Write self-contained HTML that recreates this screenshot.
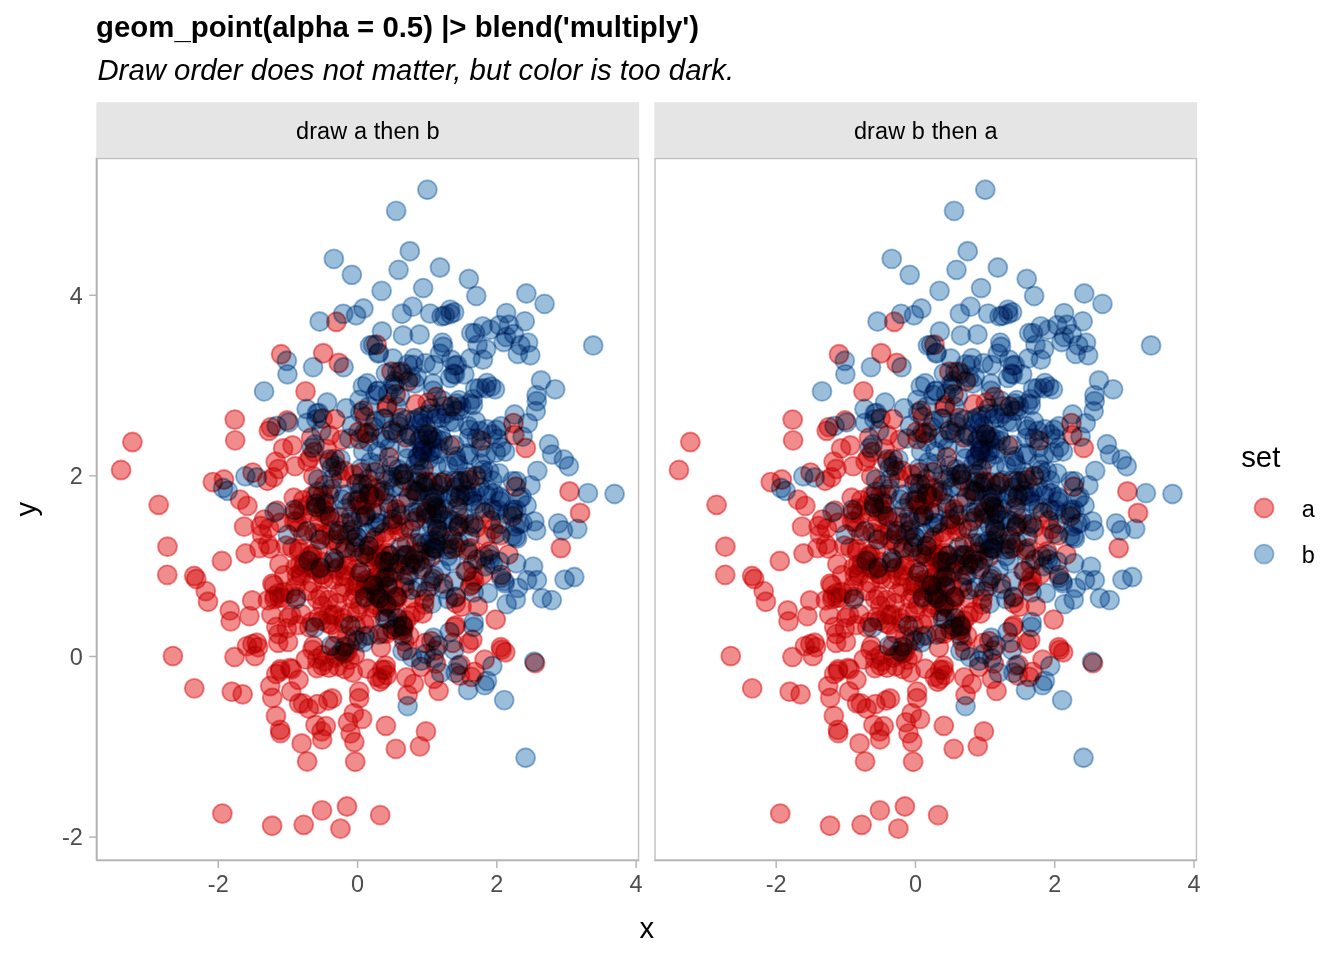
<!DOCTYPE html>
<html lang="en"><head><meta charset="utf-8"><title>geom_point blend multiply</title>
<style>
html,body{margin:0;padding:0;background:#fff;}
body{width:1344px;height:960px;overflow:hidden;}
svg{display:block;font-family:"Liberation Sans",sans-serif;}
.pts{isolation:isolate;}
.pts circle{mix-blend-mode:multiply;}
.a{fill:#E41A1C;fill-opacity:.5;stroke:none;}
.b{fill:#377EB8;fill-opacity:.5;stroke:none;}
.as{fill:none;stroke:#E41A1C;stroke-opacity:.5;stroke-width:1.89;}
.bs{fill:none;stroke:#377EB8;stroke-opacity:.5;stroke-width:1.89;}
.tick{stroke:#B3B3B3;stroke-width:1.42;fill:none;}
.axl{stroke:#B3B3B3;stroke-width:1.42;fill:none;}
.bord{stroke:#BFBFBF;stroke-width:1.42;fill:none;}
.tl{font-size:23.47px;fill:#4D4D4D;}
.st{font-size:23.47px;fill:#000;text-anchor:middle;letter-spacing:0.11px;}
.big{font-size:29.33px;fill:#000;}
</style></head><body>
<svg width="1344" height="960" viewBox="0 0 1344 960">
<rect x="0" y="0" width="1344" height="960" fill="#fff"/>
<defs>
<filter id="lut1" filterUnits="userSpaceOnUse" x="96.40" y="157.80" width="542.85" height="702.80" color-interpolation-filters="sRGB"><feComponentTransfer>
<feFuncR type="table" tableValues="0.002 0.002 0.0059 0.0059 0.0098 0.0176 0.0216 0.0216 0.0294 0.0294 0.0333 0.0412 0.0412 0.0451 0.0529 0.0529 0.0569 0.0647 0.0647 0.0725 0.0765 0.0804 0.0843 0.0882 0.0882 0.0961 0.0961 0.1 0.1078 0.1118 0.1118 0.1196 0.1235 0.1275 0.1314 0.1353 0.1392 0.1392 0.1471 0.151 0.151 0.1549 0.1588 0.1627 0.1667 0.1706 0.1784 0.1784 0.1863 0.1902 0.1902 0.1941 0.198 0.2059 0.2098 0.2098 0.2176 0.2255 0.2255 0.2255 0.2333 0.2373 0.2373 0.2451 0.249 0.2529 0.2529 0.2569 0.2608 0.2647 0.2686 0.2725 0.2765 0.2804 0.2882 0.2922 0.2922 0.3 0.3 0.3078 0.3118 0.3157 0.3157 0.3235 0.3275 0.3314 0.3314 0.3392 0.3431 0.351 0.3471 0.3549 0.3588 0.3627 0.3706 0.3706 0.3784 0.3784 0.3863 0.3902 0.3941 0.398 0.398 0.402 0.4059 0.4098 0.4098 0.4137 0.4176 0.4255 0.4294 0.4255 0.4333 0.4373 0.4412 0.4451 0.4529 0.4569 0.4608 0.4608 0.4686 0.4686 0.4765 0.4804 0.4804 0.4882 0.4882 0.4961 0.4961 0.5078 0.5078 0.5118 0.5157 0.5118 0.5196 0.5235 0.5275 0.5353 0.5431 0.5431 0.5431 0.551 0.551 0.5549 0.5588 0.5667 0.5745 0.5706 0.5745 0.5784 0.5784 0.5863 0.5902 0.5941 0.602 0.6098 0.5902 0.6059 0.602 0.6098 0.6059 0.6255 0.6294 0.6255 0.6333 0.6333 0.6333 0.6412 0.6569 0.649 0.6569 0.6608 0.6686 0.6725 0.6804 0.6843 0.6804 0.6882 0.6922 0.6961 0.7039 0.7078 0.7118 0.7118 0.7157 0.7235 0.7275 0.7314 0.7392 0.7392 0.7471 0.7471 0.7549 0.7588 0.7588 0.7667 0.7706 0.7745 0.7745 0.7824 0.7863 0.7902 0.7941 0.798 0.802 0.8059 0.8098 0.8137 0.8176 0.8216 0.8255 0.8294 0.8333 0.8373 0.8412 0.8451 0.849 0.8529 0.8569 0.8608 0.8647 0.8686 0.8725 0.8765 0.8804 0.8843 0.8882 0.8922 0.8961 0.9 0.9039 0.9078 0.9118 0.9157 0.9196 0.9235 0.9275 0.9314 0.9353 0.9392 0.9431 0.9471 0.951 0.9549 0.9588 0.9627 0.9667 0.9706 0.9745 0.9784 0.9824 0.9863 0.9902 0.9941 0.998 1.002"/>
<feFuncG type="table" tableValues="0.002 0.002 0.002 0.0059 0.0137 0.0137 0.0176 0.0216 0.0255 0.0294 0.0333 0.0373 0.0412 0.0451 0.049 0.0529 0.0569 0.0608 0.0647 0.0686 0.0725 0.0765 0.0843 0.0843 0.0882 0.0961 0.1 0.1039 0.1078 0.1078 0.1118 0.1157 0.1235 0.1275 0.1275 0.1314 0.1353 0.1392 0.1431 0.1471 0.151 0.1549 0.1588 0.1667 0.1706 0.1745 0.1784 0.1824 0.1863 0.1863 0.1941 0.1941 0.198 0.202 0.2059 0.2098 0.2137 0.2176 0.2255 0.2294 0.2294 0.2373 0.2373 0.2412 0.2451 0.249 0.2529 0.2569 0.2608 0.2647 0.2686 0.2725 0.2765 0.2804 0.2843 0.2922 0.2961 0.3039 0.3078 0.3078 0.3157 0.3196 0.3196 0.3235 0.3275 0.3353 0.3392 0.3392 0.3392 0.3431 0.3471 0.3549 0.3588 0.3588 0.3588 0.3627 0.3706 0.3745 0.3784 0.3824 0.3863 0.3902 0.3941 0.398 0.4098 0.4059 0.4137 0.4176 0.4176 0.4255 0.4255 0.4333 0.4333 0.4373 0.4373 0.4451 0.449 0.4529 0.449 0.4608 0.4608 0.4686 0.4686 0.4765 0.4765 0.4843 0.4843 0.4922 0.4922 0.4961 0.5039 0.5078 0.5078 0.5157 0.5157 0.5235 0.5275 0.5314 0.5353 0.5392 0.551 0.5431 0.5588 0.5549 0.5667 0.5706 0.5667 0.5784 0.5745 0.5784 0.5863 0.5863 0.5824 0.5902 0.598 0.5941 0.6059 0.598 0.6098 0.6176 0.6137 0.6176 0.6294 0.6294 0.6333 0.6373 0.6373 0.6451 0.6412 0.649 0.6608 0.6569 0.6608 0.6686 0.6686 0.6725 0.6843 0.6843 0.6922 0.6922 0.7 0.7 0.7078 0.7118 0.7118 0.7196 0.7196 0.7314 0.7353 0.7353 0.7471 0.7353 0.7431 0.7431 0.751 0.7549 0.7588 0.7627 0.7667 0.7706 0.7784 0.7784 0.7863 0.7902 0.7941 0.802 0.8059 0.8098 0.8176 0.8216 0.8255 0.8294 0.8333 0.8373 0.8412 0.8451 0.849 0.8529 0.8569 0.8608 0.8647 0.8686 0.8725 0.8765 0.8804 0.8843 0.8882 0.8922 0.8961 0.9 0.9039 0.9078 0.9118 0.9157 0.9196 0.9235 0.9275 0.9314 0.9353 0.9392 0.9431 0.9471 0.951 0.9549 0.9588 0.9627 0.9667 0.9706 0.9745 0.9784 0.9824 0.9863 0.9902 0.9941 0.998 1.002"/>
<feFuncB type="table" tableValues="0.002 0.002 0.0059 0.0059 0.0098 0.0137 0.0176 0.0255 0.0255 0.0294 0.0333 0.0373 0.0412 0.0451 0.049 0.0529 0.0569 0.0608 0.0647 0.0686 0.0725 0.0765 0.0804 0.0843 0.0922 0.0961 0.1 0.1039 0.1039 0.1078 0.1118 0.1157 0.1235 0.1275 0.1275 0.1314 0.1353 0.1431 0.1471 0.1471 0.151 0.1549 0.1588 0.1706 0.1706 0.1745 0.1784 0.1784 0.1824 0.1902 0.1902 0.198 0.198 0.202 0.2059 0.2098 0.2137 0.2176 0.2255 0.2255 0.2294 0.2333 0.2373 0.2412 0.2451 0.2529 0.2529 0.2647 0.2647 0.2647 0.2686 0.2765 0.2765 0.2843 0.2843 0.2882 0.2961 0.3 0.3078 0.3078 0.3118 0.3196 0.3196 0.3235 0.3314 0.3353 0.3353 0.3392 0.3431 0.351 0.3471 0.3549 0.3588 0.3588 0.3667 0.3706 0.3706 0.3745 0.3784 0.3863 0.3824 0.3902 0.3941 0.398 0.4098 0.4098 0.4137 0.4137 0.4216 0.4255 0.4255 0.4294 0.4373 0.4373 0.4451 0.4412 0.449 0.4569 0.4569 0.4647 0.4686 0.4765 0.4725 0.4725 0.4843 0.4804 0.4882 0.4922 0.4961 0.4961 0.5039 0.5078 0.5118 0.5157 0.5196 0.5235 0.5275 0.5353 0.5392 0.5431 0.5471 0.5549 0.5471 0.5549 0.5588 0.5627 0.5667 0.5667 0.5745 0.5745 0.5824 0.5863 0.5902 0.5941 0.5941 0.598 0.602 0.602 0.6137 0.6137 0.6255 0.6333 0.6255 0.6373 0.6373 0.6412 0.649 0.649 0.6569 0.6529 0.6529 0.6647 0.6647 0.6765 0.6725 0.6843 0.6804 0.6882 0.6961 0.7 0.6961 0.7 0.7039 0.7118 0.7157 0.7196 0.7275 0.7275 0.7392 0.7392 0.7471 0.751 0.7549 0.7549 0.7588 0.7627 0.7706 0.7706 0.7745 0.7784 0.7863 0.7863 0.7941 0.798 0.802 0.8059 0.8098 0.8137 0.8176 0.8216 0.8255 0.8294 0.8333 0.8373 0.8412 0.8451 0.849 0.8529 0.8569 0.8608 0.8647 0.8686 0.8725 0.8765 0.8804 0.8843 0.8882 0.8922 0.8961 0.9 0.9039 0.9078 0.9118 0.9157 0.9196 0.9235 0.9275 0.9314 0.9353 0.9392 0.9431 0.9471 0.951 0.9549 0.9588 0.9627 0.9667 0.9706 0.9745 0.9784 0.9824 0.9863 0.9902 0.9941 0.998 1.002"/>
</feComponentTransfer></filter>
<filter id="lut2" filterUnits="userSpaceOnUse" x="654.30" y="157.80" width="542.85" height="702.80" color-interpolation-filters="sRGB"><feComponentTransfer>
<feFuncR type="table" tableValues="0.002 0.002 0.0059 0.0059 0.0098 0.0176 0.0216 0.0216 0.0294 0.0294 0.0333 0.0412 0.0412 0.0451 0.0529 0.0529 0.0569 0.0647 0.0647 0.0725 0.0765 0.0804 0.0843 0.0882 0.0882 0.0961 0.0961 0.1 0.1078 0.1118 0.1118 0.1196 0.1235 0.1275 0.1314 0.1353 0.1392 0.1392 0.1471 0.151 0.151 0.1549 0.1588 0.1627 0.1667 0.1706 0.1784 0.1784 0.1863 0.1902 0.1902 0.1941 0.198 0.2059 0.2098 0.2098 0.2176 0.2255 0.2255 0.2255 0.2333 0.2373 0.2373 0.2451 0.249 0.2529 0.2529 0.2569 0.2608 0.2647 0.2686 0.2725 0.2765 0.2804 0.2882 0.2922 0.2922 0.3 0.3 0.3078 0.3118 0.3157 0.3157 0.3235 0.3275 0.3314 0.3314 0.3392 0.3431 0.351 0.3471 0.3549 0.3588 0.3627 0.3706 0.3706 0.3784 0.3784 0.3863 0.3902 0.3941 0.398 0.398 0.402 0.4059 0.4098 0.4098 0.4137 0.4176 0.4255 0.4294 0.4255 0.4333 0.4373 0.4412 0.4451 0.4529 0.4569 0.4608 0.4608 0.4686 0.4686 0.4765 0.4804 0.4804 0.4882 0.4882 0.4961 0.4961 0.5078 0.5078 0.5118 0.5157 0.5118 0.5196 0.5235 0.5275 0.5353 0.5431 0.5431 0.5431 0.551 0.551 0.5549 0.5588 0.5667 0.5745 0.5706 0.5745 0.5784 0.5784 0.5863 0.5902 0.5941 0.602 0.6098 0.5902 0.6059 0.602 0.6098 0.6059 0.6255 0.6294 0.6255 0.6333 0.6333 0.6333 0.6412 0.6569 0.649 0.6569 0.6608 0.6686 0.6725 0.6804 0.6843 0.6804 0.6882 0.6922 0.6961 0.7039 0.7078 0.7118 0.7118 0.7157 0.7235 0.7275 0.7314 0.7392 0.7392 0.7471 0.7471 0.7549 0.7588 0.7588 0.7667 0.7706 0.7745 0.7745 0.7824 0.7863 0.7902 0.7941 0.798 0.802 0.8059 0.8098 0.8137 0.8176 0.8216 0.8255 0.8294 0.8333 0.8373 0.8412 0.8451 0.849 0.8529 0.8569 0.8608 0.8647 0.8686 0.8725 0.8765 0.8804 0.8843 0.8882 0.8922 0.8961 0.9 0.9039 0.9078 0.9118 0.9157 0.9196 0.9235 0.9275 0.9314 0.9353 0.9392 0.9431 0.9471 0.951 0.9549 0.9588 0.9627 0.9667 0.9706 0.9745 0.9784 0.9824 0.9863 0.9902 0.9941 0.998 1.002"/>
<feFuncG type="table" tableValues="0.002 0.002 0.002 0.0059 0.0137 0.0137 0.0176 0.0216 0.0255 0.0294 0.0333 0.0373 0.0412 0.0451 0.049 0.0529 0.0569 0.0608 0.0647 0.0686 0.0725 0.0765 0.0843 0.0843 0.0882 0.0961 0.1 0.1039 0.1078 0.1078 0.1118 0.1157 0.1235 0.1275 0.1275 0.1314 0.1353 0.1392 0.1431 0.1471 0.151 0.1549 0.1588 0.1667 0.1706 0.1745 0.1784 0.1824 0.1863 0.1863 0.1941 0.1941 0.198 0.202 0.2059 0.2098 0.2137 0.2176 0.2255 0.2294 0.2294 0.2373 0.2373 0.2412 0.2451 0.249 0.2529 0.2569 0.2608 0.2647 0.2686 0.2725 0.2765 0.2804 0.2843 0.2922 0.2961 0.3039 0.3078 0.3078 0.3157 0.3196 0.3196 0.3235 0.3275 0.3353 0.3392 0.3392 0.3392 0.3431 0.3471 0.3549 0.3588 0.3588 0.3588 0.3627 0.3706 0.3745 0.3784 0.3824 0.3863 0.3902 0.3941 0.398 0.4098 0.4059 0.4137 0.4176 0.4176 0.4255 0.4255 0.4333 0.4333 0.4373 0.4373 0.4451 0.449 0.4529 0.449 0.4608 0.4608 0.4686 0.4686 0.4765 0.4765 0.4843 0.4843 0.4922 0.4922 0.4961 0.5039 0.5078 0.5078 0.5157 0.5157 0.5235 0.5275 0.5314 0.5353 0.5392 0.551 0.5431 0.5588 0.5549 0.5667 0.5706 0.5667 0.5784 0.5745 0.5784 0.5863 0.5863 0.5824 0.5902 0.598 0.5941 0.6059 0.598 0.6098 0.6176 0.6137 0.6176 0.6294 0.6294 0.6333 0.6373 0.6373 0.6451 0.6412 0.649 0.6608 0.6569 0.6608 0.6686 0.6686 0.6725 0.6843 0.6843 0.6922 0.6922 0.7 0.7 0.7078 0.7118 0.7118 0.7196 0.7196 0.7314 0.7353 0.7353 0.7471 0.7353 0.7431 0.7431 0.751 0.7549 0.7588 0.7627 0.7667 0.7706 0.7784 0.7784 0.7863 0.7902 0.7941 0.802 0.8059 0.8098 0.8176 0.8216 0.8255 0.8294 0.8333 0.8373 0.8412 0.8451 0.849 0.8529 0.8569 0.8608 0.8647 0.8686 0.8725 0.8765 0.8804 0.8843 0.8882 0.8922 0.8961 0.9 0.9039 0.9078 0.9118 0.9157 0.9196 0.9235 0.9275 0.9314 0.9353 0.9392 0.9431 0.9471 0.951 0.9549 0.9588 0.9627 0.9667 0.9706 0.9745 0.9784 0.9824 0.9863 0.9902 0.9941 0.998 1.002"/>
<feFuncB type="table" tableValues="0.002 0.002 0.0059 0.0059 0.0098 0.0137 0.0176 0.0255 0.0255 0.0294 0.0333 0.0373 0.0412 0.0451 0.049 0.0529 0.0569 0.0608 0.0647 0.0686 0.0725 0.0765 0.0804 0.0843 0.0922 0.0961 0.1 0.1039 0.1039 0.1078 0.1118 0.1157 0.1235 0.1275 0.1275 0.1314 0.1353 0.1431 0.1471 0.1471 0.151 0.1549 0.1588 0.1706 0.1706 0.1745 0.1784 0.1784 0.1824 0.1902 0.1902 0.198 0.198 0.202 0.2059 0.2098 0.2137 0.2176 0.2255 0.2255 0.2294 0.2333 0.2373 0.2412 0.2451 0.2529 0.2529 0.2647 0.2647 0.2647 0.2686 0.2765 0.2765 0.2843 0.2843 0.2882 0.2961 0.3 0.3078 0.3078 0.3118 0.3196 0.3196 0.3235 0.3314 0.3353 0.3353 0.3392 0.3431 0.351 0.3471 0.3549 0.3588 0.3588 0.3667 0.3706 0.3706 0.3745 0.3784 0.3863 0.3824 0.3902 0.3941 0.398 0.4098 0.4098 0.4137 0.4137 0.4216 0.4255 0.4255 0.4294 0.4373 0.4373 0.4451 0.4412 0.449 0.4569 0.4569 0.4647 0.4686 0.4765 0.4725 0.4725 0.4843 0.4804 0.4882 0.4922 0.4961 0.4961 0.5039 0.5078 0.5118 0.5157 0.5196 0.5235 0.5275 0.5353 0.5392 0.5431 0.5471 0.5549 0.5471 0.5549 0.5588 0.5627 0.5667 0.5667 0.5745 0.5745 0.5824 0.5863 0.5902 0.5941 0.5941 0.598 0.602 0.602 0.6137 0.6137 0.6255 0.6333 0.6255 0.6373 0.6373 0.6412 0.649 0.649 0.6569 0.6529 0.6529 0.6647 0.6647 0.6765 0.6725 0.6843 0.6804 0.6882 0.6961 0.7 0.6961 0.7 0.7039 0.7118 0.7157 0.7196 0.7275 0.7275 0.7392 0.7392 0.7471 0.751 0.7549 0.7549 0.7588 0.7627 0.7706 0.7706 0.7745 0.7784 0.7863 0.7863 0.7941 0.798 0.802 0.8059 0.8098 0.8137 0.8176 0.8216 0.8255 0.8294 0.8333 0.8373 0.8412 0.8451 0.849 0.8529 0.8569 0.8608 0.8647 0.8686 0.8725 0.8765 0.8804 0.8843 0.8882 0.8922 0.8961 0.9 0.9039 0.9078 0.9118 0.9157 0.9196 0.9235 0.9275 0.9314 0.9353 0.9392 0.9431 0.9471 0.951 0.9549 0.9588 0.9627 0.9667 0.9706 0.9745 0.9784 0.9824 0.9863 0.9902 0.9941 0.998 1.002"/>
</feComponentTransfer></filter>
</defs>
<text class="big" x="96.1" y="36.5" dy="0 0 0 0 2.3 -2.3" font-weight="bold" letter-spacing="0.015">geom_point(alpha = 0.5) |&gt; blend('multiply')</text>
<text class="big" x="97.4" y="80.1" font-style="italic" letter-spacing="0.02">Draw order does not matter, but color is too dark.</text>
<rect x="96.40" y="102.20" width="542.85" height="55.60" fill="#E5E5E5"/>
<text class="st" x="367.82" y="138.6">draw a then b</text>
<g class="pts" filter="url(#lut1)">
<rect x="96.40" y="157.80" width="542.85" height="702.80" fill="#fff"/>
<circle class="a" cx="273.51" cy="477.22" r="9.48"/><circle class="as" cx="273.51" cy="477.22" r="9.48"/>
<circle class="a" cx="376.88" cy="676.76" r="9.48"/><circle class="as" cx="376.88" cy="676.76" r="9.48"/>
<circle class="a" cx="433.07" cy="502.06" r="9.48"/><circle class="as" cx="433.07" cy="502.06" r="9.48"/>
<circle class="a" cx="194.22" cy="576.02" r="9.48"/><circle class="as" cx="194.22" cy="576.02" r="9.48"/>
<circle class="a" cx="387.44" cy="405.16" r="9.48"/><circle class="as" cx="387.44" cy="405.16" r="9.48"/>
<circle class="a" cx="392.80" cy="588.14" r="9.48"/><circle class="as" cx="392.80" cy="588.14" r="9.48"/>
<circle class="a" cx="317.54" cy="704.07" r="9.48"/><circle class="as" cx="317.54" cy="704.07" r="9.48"/>
<circle class="a" cx="319.49" cy="521.73" r="9.48"/><circle class="as" cx="319.49" cy="521.73" r="9.48"/>
<circle class="a" cx="318.25" cy="534.14" r="9.48"/><circle class="as" cx="318.25" cy="534.14" r="9.48"/>
<circle class="a" cx="295.58" cy="567.74" r="9.48"/><circle class="as" cx="295.58" cy="567.74" r="9.48"/>
<circle class="a" cx="324.33" cy="661.57" r="9.48"/><circle class="as" cx="324.33" cy="661.57" r="9.48"/>
<circle class="a" cx="288.04" cy="641.91" r="9.48"/><circle class="as" cx="288.04" cy="641.91" r="9.48"/>
<circle class="a" cx="303.50" cy="567.29" r="9.48"/><circle class="as" cx="303.50" cy="567.29" r="9.48"/>
<circle class="a" cx="362.05" cy="472.40" r="9.48"/><circle class="as" cx="362.05" cy="472.40" r="9.48"/>
<circle class="a" cx="424.37" cy="599.07" r="9.48"/><circle class="as" cx="424.37" cy="599.07" r="9.48"/>
<circle class="a" cx="349.88" cy="644.85" r="9.48"/><circle class="as" cx="349.88" cy="644.85" r="9.48"/>
<circle class="a" cx="321.98" cy="810.37" r="9.48"/><circle class="as" cx="321.98" cy="810.37" r="9.48"/>
<circle class="a" cx="294.11" cy="521.52" r="9.48"/><circle class="as" cx="294.11" cy="521.52" r="9.48"/>
<circle class="a" cx="299.26" cy="527.56" r="9.48"/><circle class="as" cx="299.26" cy="527.56" r="9.48"/>
<circle class="a" cx="525.79" cy="447.92" r="9.48"/><circle class="as" cx="525.79" cy="447.92" r="9.48"/>
<circle class="a" cx="366.90" cy="433.69" r="9.48"/><circle class="as" cx="366.90" cy="433.69" r="9.48"/>
<circle class="a" cx="323.39" cy="579.07" r="9.48"/><circle class="as" cx="323.39" cy="579.07" r="9.48"/>
<circle class="a" cx="326.88" cy="448.88" r="9.48"/><circle class="as" cx="326.88" cy="448.88" r="9.48"/>
<circle class="a" cx="389.56" cy="566.03" r="9.48"/><circle class="as" cx="389.56" cy="566.03" r="9.48"/>
<circle class="a" cx="309.25" cy="627.24" r="9.48"/><circle class="as" cx="309.25" cy="627.24" r="9.48"/>
<circle class="a" cx="256.71" cy="642.75" r="9.48"/><circle class="as" cx="256.71" cy="642.75" r="9.48"/>
<circle class="a" cx="397.58" cy="597.48" r="9.48"/><circle class="as" cx="397.58" cy="597.48" r="9.48"/>
<circle class="a" cx="286.28" cy="545.61" r="9.48"/><circle class="as" cx="286.28" cy="545.61" r="9.48"/>
<circle class="a" cx="356.51" cy="568.63" r="9.48"/><circle class="as" cx="356.51" cy="568.63" r="9.48"/>
<circle class="a" cx="292.38" cy="548.01" r="9.48"/><circle class="as" cx="292.38" cy="548.01" r="9.48"/>
<circle class="a" cx="434.32" cy="548.19" r="9.48"/><circle class="as" cx="434.32" cy="548.19" r="9.48"/>
<circle class="a" cx="324.44" cy="501.62" r="9.48"/><circle class="as" cx="324.44" cy="501.62" r="9.48"/>
<circle class="a" cx="308.16" cy="590.82" r="9.48"/><circle class="as" cx="308.16" cy="590.82" r="9.48"/>
<circle class="a" cx="322.65" cy="418.46" r="9.48"/><circle class="as" cx="322.65" cy="418.46" r="9.48"/>
<circle class="a" cx="244.12" cy="526.62" r="9.48"/><circle class="as" cx="244.12" cy="526.62" r="9.48"/>
<circle class="a" cx="276.25" cy="673.94" r="9.48"/><circle class="as" cx="276.25" cy="673.94" r="9.48"/>
<circle class="a" cx="205.75" cy="591.14" r="9.48"/><circle class="as" cx="205.75" cy="591.14" r="9.48"/>
<circle class="a" cx="264.18" cy="519.56" r="9.48"/><circle class="as" cx="264.18" cy="519.56" r="9.48"/>
<circle class="a" cx="337.07" cy="603.27" r="9.48"/><circle class="as" cx="337.07" cy="603.27" r="9.48"/>
<circle class="a" cx="325.12" cy="535.00" r="9.48"/><circle class="as" cx="325.12" cy="535.00" r="9.48"/>
<circle class="a" cx="458.49" cy="526.92" r="9.48"/><circle class="as" cx="458.49" cy="526.92" r="9.48"/>
<circle class="a" cx="283.14" cy="448.44" r="9.48"/><circle class="as" cx="283.14" cy="448.44" r="9.48"/>
<circle class="a" cx="298.00" cy="625.01" r="9.48"/><circle class="as" cx="298.00" cy="625.01" r="9.48"/>
<circle class="a" cx="338.02" cy="567.68" r="9.48"/><circle class="as" cx="338.02" cy="567.68" r="9.48"/>
<circle class="a" cx="288.32" cy="617.42" r="9.48"/><circle class="as" cx="288.32" cy="617.42" r="9.48"/>
<circle class="a" cx="290.12" cy="667.94" r="9.48"/><circle class="as" cx="290.12" cy="667.94" r="9.48"/>
<circle class="a" cx="280.45" cy="733.13" r="9.48"/><circle class="as" cx="280.45" cy="733.13" r="9.48"/>
<circle class="a" cx="270.38" cy="548.49" r="9.48"/><circle class="as" cx="270.38" cy="548.49" r="9.48"/>
<circle class="a" cx="321.08" cy="511.83" r="9.48"/><circle class="as" cx="321.08" cy="511.83" r="9.48"/>
<circle class="a" cx="322.96" cy="508.43" r="9.48"/><circle class="as" cx="322.96" cy="508.43" r="9.48"/>
<circle class="a" cx="231.80" cy="691.68" r="9.48"/><circle class="as" cx="231.80" cy="691.68" r="9.48"/>
<circle class="a" cx="317.03" cy="668.17" r="9.48"/><circle class="as" cx="317.03" cy="668.17" r="9.48"/>
<circle class="a" cx="280.34" cy="669.21" r="9.48"/><circle class="as" cx="280.34" cy="669.21" r="9.48"/>
<circle class="a" cx="286.88" cy="628.35" r="9.48"/><circle class="as" cx="286.88" cy="628.35" r="9.48"/>
<circle class="a" cx="346.26" cy="550.78" r="9.48"/><circle class="as" cx="346.26" cy="550.78" r="9.48"/>
<circle class="a" cx="396.77" cy="512.46" r="9.48"/><circle class="as" cx="396.77" cy="512.46" r="9.48"/>
<circle class="a" cx="472.30" cy="639.76" r="9.48"/><circle class="as" cx="472.30" cy="639.76" r="9.48"/>
<circle class="a" cx="303.71" cy="824.83" r="9.48"/><circle class="as" cx="303.71" cy="824.83" r="9.48"/>
<circle class="a" cx="469.39" cy="480.01" r="9.48"/><circle class="as" cx="469.39" cy="480.01" r="9.48"/>
<circle class="a" cx="276.94" cy="510.59" r="9.48"/><circle class="as" cx="276.94" cy="510.59" r="9.48"/>
<circle class="a" cx="403.28" cy="629.45" r="9.48"/><circle class="as" cx="403.28" cy="629.45" r="9.48"/>
<circle class="a" cx="535.06" cy="663.11" r="9.48"/><circle class="as" cx="535.06" cy="663.11" r="9.48"/>
<circle class="a" cx="355.14" cy="593.24" r="9.48"/><circle class="as" cx="355.14" cy="593.24" r="9.48"/>
<circle class="a" cx="310.93" cy="556.39" r="9.48"/><circle class="as" cx="310.93" cy="556.39" r="9.48"/>
<circle class="a" cx="357.03" cy="500.84" r="9.48"/><circle class="as" cx="357.03" cy="500.84" r="9.48"/>
<circle class="a" cx="481.31" cy="440.61" r="9.48"/><circle class="as" cx="481.31" cy="440.61" r="9.48"/>
<circle class="a" cx="278.27" cy="642.82" r="9.48"/><circle class="as" cx="278.27" cy="642.82" r="9.48"/>
<circle class="a" cx="452.81" cy="539.90" r="9.48"/><circle class="as" cx="452.81" cy="539.90" r="9.48"/>
<circle class="a" cx="450.14" cy="445.66" r="9.48"/><circle class="as" cx="450.14" cy="445.66" r="9.48"/>
<circle class="a" cx="380.99" cy="647.55" r="9.48"/><circle class="as" cx="380.99" cy="647.55" r="9.48"/>
<circle class="a" cx="358.04" cy="586.27" r="9.48"/><circle class="as" cx="358.04" cy="586.27" r="9.48"/>
<circle class="a" cx="325.84" cy="726.13" r="9.48"/><circle class="as" cx="325.84" cy="726.13" r="9.48"/>
<circle class="a" cx="332.04" cy="540.20" r="9.48"/><circle class="as" cx="332.04" cy="540.20" r="9.48"/>
<circle class="a" cx="402.70" cy="624.06" r="9.48"/><circle class="as" cx="402.70" cy="624.06" r="9.48"/>
<circle class="a" cx="501.72" cy="649.68" r="9.48"/><circle class="as" cx="501.72" cy="649.68" r="9.48"/>
<circle class="a" cx="346.88" cy="636.59" r="9.48"/><circle class="as" cx="346.88" cy="636.59" r="9.48"/>
<circle class="a" cx="260.72" cy="526.01" r="9.48"/><circle class="as" cx="260.72" cy="526.01" r="9.48"/>
<circle class="a" cx="307.17" cy="761.45" r="9.48"/><circle class="as" cx="307.17" cy="761.45" r="9.48"/>
<circle class="a" cx="375.54" cy="604.58" r="9.48"/><circle class="as" cx="375.54" cy="604.58" r="9.48"/>
<circle class="a" cx="335.48" cy="657.70" r="9.48"/><circle class="as" cx="335.48" cy="657.70" r="9.48"/>
<circle class="a" cx="345.18" cy="653.04" r="9.48"/><circle class="as" cx="345.18" cy="653.04" r="9.48"/>
<circle class="a" cx="345.72" cy="523.29" r="9.48"/><circle class="as" cx="345.72" cy="523.29" r="9.48"/>
<circle class="a" cx="262.00" cy="534.39" r="9.48"/><circle class="as" cx="262.00" cy="534.39" r="9.48"/>
<circle class="a" cx="345.46" cy="575.82" r="9.48"/><circle class="as" cx="345.46" cy="575.82" r="9.48"/>
<circle class="a" cx="416.77" cy="517.61" r="9.48"/><circle class="as" cx="416.77" cy="517.61" r="9.48"/>
<circle class="a" cx="406.14" cy="620.53" r="9.48"/><circle class="as" cx="406.14" cy="620.53" r="9.48"/>
<circle class="a" cx="395.86" cy="748.88" r="9.48"/><circle class="as" cx="395.86" cy="748.88" r="9.48"/>
<circle class="a" cx="329.52" cy="461.90" r="9.48"/><circle class="as" cx="329.52" cy="461.90" r="9.48"/>
<circle class="a" cx="344.22" cy="586.99" r="9.48"/><circle class="as" cx="344.22" cy="586.99" r="9.48"/>
<circle class="a" cx="274.38" cy="599.12" r="9.48"/><circle class="as" cx="274.38" cy="599.12" r="9.48"/>
<circle class="a" cx="353.86" cy="551.93" r="9.48"/><circle class="as" cx="353.86" cy="551.93" r="9.48"/>
<circle class="a" cx="375.33" cy="496.98" r="9.48"/><circle class="as" cx="375.33" cy="496.98" r="9.48"/>
<circle class="a" cx="476.35" cy="527.67" r="9.48"/><circle class="as" cx="476.35" cy="527.67" r="9.48"/>
<circle class="a" cx="427.30" cy="482.41" r="9.48"/><circle class="as" cx="427.30" cy="482.41" r="9.48"/>
<circle class="a" cx="323.05" cy="561.99" r="9.48"/><circle class="as" cx="323.05" cy="561.99" r="9.48"/>
<circle class="a" cx="382.32" cy="611.69" r="9.48"/><circle class="as" cx="382.32" cy="611.69" r="9.48"/>
<circle class="a" cx="278.55" cy="593.29" r="9.48"/><circle class="as" cx="278.55" cy="593.29" r="9.48"/>
<circle class="a" cx="418.71" cy="491.83" r="9.48"/><circle class="as" cx="418.71" cy="491.83" r="9.48"/>
<circle class="a" cx="425.31" cy="642.85" r="9.48"/><circle class="as" cx="425.31" cy="642.85" r="9.48"/>
<circle class="a" cx="505.26" cy="652.27" r="9.48"/><circle class="as" cx="505.26" cy="652.27" r="9.48"/>
<circle class="a" cx="386.42" cy="537.84" r="9.48"/><circle class="as" cx="386.42" cy="537.84" r="9.48"/>
<circle class="a" cx="324.50" cy="510.84" r="9.48"/><circle class="as" cx="324.50" cy="510.84" r="9.48"/>
<circle class="a" cx="362.15" cy="718.87" r="9.48"/><circle class="as" cx="362.15" cy="718.87" r="9.48"/>
<circle class="a" cx="322.57" cy="495.29" r="9.48"/><circle class="as" cx="322.57" cy="495.29" r="9.48"/>
<circle class="a" cx="300.04" cy="565.08" r="9.48"/><circle class="as" cx="300.04" cy="565.08" r="9.48"/>
<circle class="a" cx="369.19" cy="582.52" r="9.48"/><circle class="as" cx="369.19" cy="582.52" r="9.48"/>
<circle class="a" cx="295.15" cy="466.18" r="9.48"/><circle class="as" cx="295.15" cy="466.18" r="9.48"/>
<circle class="a" cx="369.27" cy="432.55" r="9.48"/><circle class="as" cx="369.27" cy="432.55" r="9.48"/>
<circle class="a" cx="382.28" cy="669.77" r="9.48"/><circle class="as" cx="382.28" cy="669.77" r="9.48"/>
<circle class="a" cx="353.93" cy="474.79" r="9.48"/><circle class="as" cx="353.93" cy="474.79" r="9.48"/>
<circle class="a" cx="343.92" cy="623.23" r="9.48"/><circle class="as" cx="343.92" cy="623.23" r="9.48"/>
<circle class="a" cx="312.36" cy="554.20" r="9.48"/><circle class="as" cx="312.36" cy="554.20" r="9.48"/>
<circle class="a" cx="280.28" cy="522.72" r="9.48"/><circle class="as" cx="280.28" cy="522.72" r="9.48"/>
<circle class="a" cx="416.70" cy="554.13" r="9.48"/><circle class="as" cx="416.70" cy="554.13" r="9.48"/>
<circle class="a" cx="359.12" cy="698.26" r="9.48"/><circle class="as" cx="359.12" cy="698.26" r="9.48"/>
<circle class="a" cx="415.44" cy="611.89" r="9.48"/><circle class="as" cx="415.44" cy="611.89" r="9.48"/>
<circle class="a" cx="270.91" cy="427.11" r="9.48"/><circle class="as" cx="270.91" cy="427.11" r="9.48"/>
<circle class="a" cx="369.33" cy="550.55" r="9.48"/><circle class="as" cx="369.33" cy="550.55" r="9.48"/>
<circle class="a" cx="404.44" cy="641.64" r="9.48"/><circle class="as" cx="404.44" cy="641.64" r="9.48"/>
<circle class="a" cx="355.73" cy="625.39" r="9.48"/><circle class="as" cx="355.73" cy="625.39" r="9.48"/>
<circle class="a" cx="344.23" cy="470.64" r="9.48"/><circle class="as" cx="344.23" cy="470.64" r="9.48"/>
<circle class="a" cx="303.11" cy="534.90" r="9.48"/><circle class="as" cx="303.11" cy="534.90" r="9.48"/>
<circle class="a" cx="500.88" cy="647.18" r="9.48"/><circle class="as" cx="500.88" cy="647.18" r="9.48"/>
<circle class="a" cx="409.82" cy="565.59" r="9.48"/><circle class="as" cx="409.82" cy="565.59" r="9.48"/>
<circle class="a" cx="484.59" cy="512.27" r="9.48"/><circle class="as" cx="484.59" cy="512.27" r="9.48"/>
<circle class="a" cx="363.13" cy="410.59" r="9.48"/><circle class="as" cx="363.13" cy="410.59" r="9.48"/>
<circle class="a" cx="313.59" cy="645.78" r="9.48"/><circle class="as" cx="313.59" cy="645.78" r="9.48"/>
<circle class="a" cx="252.18" cy="600.47" r="9.48"/><circle class="as" cx="252.18" cy="600.47" r="9.48"/>
<circle class="a" cx="313.26" cy="476.19" r="9.48"/><circle class="as" cx="313.26" cy="476.19" r="9.48"/>
<circle class="a" cx="373.32" cy="607.62" r="9.48"/><circle class="as" cx="373.32" cy="607.62" r="9.48"/>
<circle class="a" cx="428.15" cy="434.28" r="9.48"/><circle class="as" cx="428.15" cy="434.28" r="9.48"/>
<circle class="a" cx="375.16" cy="471.94" r="9.48"/><circle class="as" cx="375.16" cy="471.94" r="9.48"/>
<circle class="a" cx="275.95" cy="715.98" r="9.48"/><circle class="as" cx="275.95" cy="715.98" r="9.48"/>
<circle class="a" cx="404.13" cy="527.86" r="9.48"/><circle class="as" cx="404.13" cy="527.86" r="9.48"/>
<circle class="a" cx="242.65" cy="694.32" r="9.48"/><circle class="as" cx="242.65" cy="694.32" r="9.48"/>
<circle class="a" cx="332.08" cy="698.43" r="9.48"/><circle class="as" cx="332.08" cy="698.43" r="9.48"/>
<circle class="a" cx="335.55" cy="559.79" r="9.48"/><circle class="as" cx="335.55" cy="559.79" r="9.48"/>
<circle class="a" cx="221.89" cy="561.03" r="9.48"/><circle class="as" cx="221.89" cy="561.03" r="9.48"/>
<circle class="a" cx="421.63" cy="569.11" r="9.48"/><circle class="as" cx="421.63" cy="569.11" r="9.48"/>
<circle class="a" cx="314.19" cy="451.98" r="9.48"/><circle class="as" cx="314.19" cy="451.98" r="9.48"/>
<circle class="a" cx="334.30" cy="539.51" r="9.48"/><circle class="as" cx="334.30" cy="539.51" r="9.48"/>
<circle class="a" cx="454.71" cy="626.94" r="9.48"/><circle class="as" cx="454.71" cy="626.94" r="9.48"/>
<circle class="a" cx="401.89" cy="555.35" r="9.48"/><circle class="as" cx="401.89" cy="555.35" r="9.48"/>
<circle class="a" cx="350.01" cy="612.61" r="9.48"/><circle class="as" cx="350.01" cy="612.61" r="9.48"/>
<circle class="a" cx="393.34" cy="572.30" r="9.48"/><circle class="as" cx="393.34" cy="572.30" r="9.48"/>
<circle class="a" cx="385.36" cy="669.83" r="9.48"/><circle class="as" cx="385.36" cy="669.83" r="9.48"/>
<circle class="a" cx="473.35" cy="576.56" r="9.48"/><circle class="as" cx="473.35" cy="576.56" r="9.48"/>
<circle class="a" cx="376.77" cy="556.86" r="9.48"/><circle class="as" cx="376.77" cy="556.86" r="9.48"/>
<circle class="a" cx="392.81" cy="629.53" r="9.48"/><circle class="as" cx="392.81" cy="629.53" r="9.48"/>
<circle class="a" cx="381.76" cy="562.43" r="9.48"/><circle class="as" cx="381.76" cy="562.43" r="9.48"/>
<circle class="a" cx="331.29" cy="624.74" r="9.48"/><circle class="as" cx="331.29" cy="624.74" r="9.48"/>
<circle class="a" cx="364.36" cy="624.31" r="9.48"/><circle class="as" cx="364.36" cy="624.31" r="9.48"/>
<circle class="a" cx="471.67" cy="584.62" r="9.48"/><circle class="as" cx="471.67" cy="584.62" r="9.48"/>
<circle class="a" cx="296.59" cy="521.82" r="9.48"/><circle class="as" cx="296.59" cy="521.82" r="9.48"/>
<circle class="a" cx="366.04" cy="584.70" r="9.48"/><circle class="as" cx="366.04" cy="584.70" r="9.48"/>
<circle class="a" cx="452.41" cy="548.93" r="9.48"/><circle class="as" cx="452.41" cy="548.93" r="9.48"/>
<circle class="a" cx="341.22" cy="478.55" r="9.48"/><circle class="as" cx="341.22" cy="478.55" r="9.48"/>
<circle class="a" cx="284.21" cy="591.91" r="9.48"/><circle class="as" cx="284.21" cy="591.91" r="9.48"/>
<circle class="a" cx="296.99" cy="575.51" r="9.48"/><circle class="as" cx="296.99" cy="575.51" r="9.48"/>
<circle class="a" cx="330.39" cy="519.98" r="9.48"/><circle class="as" cx="330.39" cy="519.98" r="9.48"/>
<circle class="a" cx="298.55" cy="679.78" r="9.48"/><circle class="as" cx="298.55" cy="679.78" r="9.48"/>
<circle class="a" cx="339.41" cy="517.04" r="9.48"/><circle class="as" cx="339.41" cy="517.04" r="9.48"/>
<circle class="a" cx="328.70" cy="614.47" r="9.48"/><circle class="as" cx="328.70" cy="614.47" r="9.48"/>
<circle class="a" cx="344.81" cy="668.93" r="9.48"/><circle class="as" cx="344.81" cy="668.93" r="9.48"/>
<circle class="a" cx="385.90" cy="725.82" r="9.48"/><circle class="as" cx="385.90" cy="725.82" r="9.48"/>
<circle class="a" cx="401.06" cy="630.72" r="9.48"/><circle class="as" cx="401.06" cy="630.72" r="9.48"/>
<circle class="a" cx="474.42" cy="671.83" r="9.48"/><circle class="as" cx="474.42" cy="671.83" r="9.48"/>
<circle class="a" cx="352.78" cy="672.58" r="9.48"/><circle class="as" cx="352.78" cy="672.58" r="9.48"/>
<circle class="a" cx="335.22" cy="419.19" r="9.48"/><circle class="as" cx="335.22" cy="419.19" r="9.48"/>
<circle class="a" cx="459.99" cy="675.62" r="9.48"/><circle class="as" cx="459.99" cy="675.62" r="9.48"/>
<circle class="a" cx="476.24" cy="476.07" r="9.48"/><circle class="as" cx="476.24" cy="476.07" r="9.48"/>
<circle class="a" cx="360.57" cy="516.91" r="9.48"/><circle class="as" cx="360.57" cy="516.91" r="9.48"/>
<circle class="a" cx="334.39" cy="646.06" r="9.48"/><circle class="as" cx="334.39" cy="646.06" r="9.48"/>
<circle class="a" cx="230.67" cy="621.35" r="9.48"/><circle class="as" cx="230.67" cy="621.35" r="9.48"/>
<circle class="a" cx="455.83" cy="603.20" r="9.48"/><circle class="as" cx="455.83" cy="603.20" r="9.48"/>
<circle class="a" cx="299.23" cy="548.96" r="9.48"/><circle class="as" cx="299.23" cy="548.96" r="9.48"/>
<circle class="a" cx="279.31" cy="597.61" r="9.48"/><circle class="as" cx="279.31" cy="597.61" r="9.48"/>
<circle class="a" cx="569.51" cy="491.48" r="9.48"/><circle class="as" cx="569.51" cy="491.48" r="9.48"/>
<circle class="a" cx="373.92" cy="592.59" r="9.48"/><circle class="as" cx="373.92" cy="592.59" r="9.48"/>
<circle class="a" cx="355.24" cy="761.71" r="9.48"/><circle class="as" cx="355.24" cy="761.71" r="9.48"/>
<circle class="a" cx="167.30" cy="574.84" r="9.48"/><circle class="as" cx="167.30" cy="574.84" r="9.48"/>
<circle class="a" cx="350.61" cy="733.40" r="9.48"/><circle class="as" cx="350.61" cy="733.40" r="9.48"/>
<circle class="a" cx="425.53" cy="481.46" r="9.48"/><circle class="as" cx="425.53" cy="481.46" r="9.48"/>
<circle class="a" cx="386.38" cy="633.68" r="9.48"/><circle class="as" cx="386.38" cy="633.68" r="9.48"/>
<circle class="a" cx="421.09" cy="666.87" r="9.48"/><circle class="as" cx="421.09" cy="666.87" r="9.48"/>
<circle class="a" cx="495.70" cy="619.57" r="9.48"/><circle class="as" cx="495.70" cy="619.57" r="9.48"/>
<circle class="a" cx="438.97" cy="513.30" r="9.48"/><circle class="as" cx="438.97" cy="513.30" r="9.48"/>
<circle class="a" cx="322.13" cy="739.42" r="9.48"/><circle class="as" cx="322.13" cy="739.42" r="9.48"/>
<circle class="a" cx="406.59" cy="543.23" r="9.48"/><circle class="as" cx="406.59" cy="543.23" r="9.48"/>
<circle class="a" cx="343.74" cy="653.96" r="9.48"/><circle class="as" cx="343.74" cy="653.96" r="9.48"/>
<circle class="a" cx="320.09" cy="566.92" r="9.48"/><circle class="as" cx="320.09" cy="566.92" r="9.48"/>
<circle class="a" cx="158.70" cy="504.83" r="9.48"/><circle class="as" cx="158.70" cy="504.83" r="9.48"/>
<circle class="a" cx="302.57" cy="514.71" r="9.48"/><circle class="as" cx="302.57" cy="514.71" r="9.48"/>
<circle class="a" cx="391.53" cy="430.42" r="9.48"/><circle class="as" cx="391.53" cy="430.42" r="9.48"/>
<circle class="a" cx="508.53" cy="554.49" r="9.48"/><circle class="as" cx="508.53" cy="554.49" r="9.48"/>
<circle class="a" cx="392.43" cy="629.48" r="9.48"/><circle class="as" cx="392.43" cy="629.48" r="9.48"/>
<circle class="a" cx="400.75" cy="371.65" r="9.48"/><circle class="as" cx="400.75" cy="371.65" r="9.48"/>
<circle class="a" cx="290.30" cy="593.54" r="9.48"/><circle class="as" cx="290.30" cy="593.54" r="9.48"/>
<circle class="a" cx="368.89" cy="493.22" r="9.48"/><circle class="as" cx="368.89" cy="493.22" r="9.48"/>
<circle class="a" cx="212.84" cy="482.07" r="9.48"/><circle class="as" cx="212.84" cy="482.07" r="9.48"/>
<circle class="a" cx="391.35" cy="525.07" r="9.48"/><circle class="as" cx="391.35" cy="525.07" r="9.48"/>
<circle class="a" cx="406.08" cy="437.42" r="9.48"/><circle class="as" cx="406.08" cy="437.42" r="9.48"/>
<circle class="a" cx="370.48" cy="585.03" r="9.48"/><circle class="as" cx="370.48" cy="585.03" r="9.48"/>
<circle class="a" cx="406.35" cy="677.36" r="9.48"/><circle class="as" cx="406.35" cy="677.36" r="9.48"/>
<circle class="a" cx="379.26" cy="598.72" r="9.48"/><circle class="as" cx="379.26" cy="598.72" r="9.48"/>
<circle class="a" cx="410.51" cy="615.57" r="9.48"/><circle class="as" cx="410.51" cy="615.57" r="9.48"/>
<circle class="a" cx="485.86" cy="536.53" r="9.48"/><circle class="as" cx="485.86" cy="536.53" r="9.48"/>
<circle class="a" cx="435.02" cy="650.44" r="9.48"/><circle class="as" cx="435.02" cy="650.44" r="9.48"/>
<circle class="a" cx="359.83" cy="504.67" r="9.48"/><circle class="as" cx="359.83" cy="504.67" r="9.48"/>
<circle class="a" cx="279.95" cy="671.26" r="9.48"/><circle class="as" cx="279.95" cy="671.26" r="9.48"/>
<circle class="a" cx="386.67" cy="407.62" r="9.48"/><circle class="as" cx="386.67" cy="407.62" r="9.48"/>
<circle class="a" cx="329.69" cy="435.24" r="9.48"/><circle class="as" cx="329.69" cy="435.24" r="9.48"/>
<circle class="a" cx="461.56" cy="606.68" r="9.48"/><circle class="as" cx="461.56" cy="606.68" r="9.48"/>
<circle class="a" cx="245.65" cy="553.50" r="9.48"/><circle class="as" cx="245.65" cy="553.50" r="9.48"/>
<circle class="a" cx="328.61" cy="599.90" r="9.48"/><circle class="as" cx="328.61" cy="599.90" r="9.48"/>
<circle class="a" cx="386.95" cy="675.11" r="9.48"/><circle class="as" cx="386.95" cy="675.11" r="9.48"/>
<circle class="a" cx="346.99" cy="806.50" r="9.48"/><circle class="as" cx="346.99" cy="806.50" r="9.48"/>
<circle class="a" cx="315.35" cy="568.42" r="9.48"/><circle class="as" cx="315.35" cy="568.42" r="9.48"/>
<circle class="a" cx="336.34" cy="569.26" r="9.48"/><circle class="as" cx="336.34" cy="569.26" r="9.48"/>
<circle class="a" cx="401.40" cy="417.83" r="9.48"/><circle class="as" cx="401.40" cy="417.83" r="9.48"/>
<circle class="a" cx="419.89" cy="746.36" r="9.48"/><circle class="as" cx="419.89" cy="746.36" r="9.48"/>
<circle class="a" cx="403.53" cy="625.95" r="9.48"/><circle class="as" cx="403.53" cy="625.95" r="9.48"/>
<circle class="a" cx="515.87" cy="486.68" r="9.48"/><circle class="as" cx="515.87" cy="486.68" r="9.48"/>
<circle class="a" cx="439.28" cy="535.23" r="9.48"/><circle class="as" cx="439.28" cy="535.23" r="9.48"/>
<circle class="a" cx="377.59" cy="555.16" r="9.48"/><circle class="as" cx="377.59" cy="555.16" r="9.48"/>
<circle class="a" cx="311.62" cy="622.21" r="9.48"/><circle class="as" cx="311.62" cy="622.21" r="9.48"/>
<circle class="a" cx="560.83" cy="548.01" r="9.48"/><circle class="as" cx="560.83" cy="548.01" r="9.48"/>
<circle class="a" cx="404.73" cy="587.46" r="9.48"/><circle class="as" cx="404.73" cy="587.46" r="9.48"/>
<circle class="a" cx="309.91" cy="555.89" r="9.48"/><circle class="as" cx="309.91" cy="555.89" r="9.48"/>
<circle class="a" cx="370.55" cy="618.35" r="9.48"/><circle class="as" cx="370.55" cy="618.35" r="9.48"/>
<circle class="a" cx="334.97" cy="458.81" r="9.48"/><circle class="as" cx="334.97" cy="458.81" r="9.48"/>
<circle class="a" cx="338.43" cy="470.43" r="9.48"/><circle class="as" cx="338.43" cy="470.43" r="9.48"/>
<circle class="a" cx="292.55" cy="445.43" r="9.48"/><circle class="as" cx="292.55" cy="445.43" r="9.48"/>
<circle class="a" cx="365.70" cy="599.31" r="9.48"/><circle class="as" cx="365.70" cy="599.31" r="9.48"/>
<circle class="a" cx="379.78" cy="593.64" r="9.48"/><circle class="as" cx="379.78" cy="593.64" r="9.48"/>
<circle class="a" cx="282.52" cy="597.79" r="9.48"/><circle class="as" cx="282.52" cy="597.79" r="9.48"/>
<circle class="a" cx="132.42" cy="442.05" r="9.48"/><circle class="as" cx="132.42" cy="442.05" r="9.48"/>
<circle class="a" cx="339.81" cy="593.22" r="9.48"/><circle class="as" cx="339.81" cy="593.22" r="9.48"/>
<circle class="a" cx="359.61" cy="557.34" r="9.48"/><circle class="as" cx="359.61" cy="557.34" r="9.48"/>
<circle class="a" cx="398.94" cy="531.73" r="9.48"/><circle class="as" cx="398.94" cy="531.73" r="9.48"/>
<circle class="a" cx="361.68" cy="504.90" r="9.48"/><circle class="as" cx="361.68" cy="504.90" r="9.48"/>
<circle class="a" cx="386.35" cy="590.33" r="9.48"/><circle class="as" cx="386.35" cy="590.33" r="9.48"/>
<circle class="a" cx="281.12" cy="354.29" r="9.48"/><circle class="as" cx="281.12" cy="354.29" r="9.48"/>
<circle class="a" cx="407.08" cy="649.91" r="9.48"/><circle class="as" cx="407.08" cy="649.91" r="9.48"/>
<circle class="a" cx="407.62" cy="694.99" r="9.48"/><circle class="as" cx="407.62" cy="694.99" r="9.48"/>
<circle class="a" cx="375.08" cy="562.33" r="9.48"/><circle class="as" cx="375.08" cy="562.33" r="9.48"/>
<circle class="a" cx="452.07" cy="406.53" r="9.48"/><circle class="as" cx="452.07" cy="406.53" r="9.48"/>
<circle class="a" cx="385.72" cy="561.39" r="9.48"/><circle class="as" cx="385.72" cy="561.39" r="9.48"/>
<circle class="a" cx="375.97" cy="556.24" r="9.48"/><circle class="as" cx="375.97" cy="556.24" r="9.48"/>
<circle class="a" cx="376.22" cy="488.20" r="9.48"/><circle class="as" cx="376.22" cy="488.20" r="9.48"/>
<circle class="a" cx="387.98" cy="575.09" r="9.48"/><circle class="as" cx="387.98" cy="575.09" r="9.48"/>
<circle class="a" cx="431.38" cy="556.79" r="9.48"/><circle class="as" cx="431.38" cy="556.79" r="9.48"/>
<circle class="a" cx="389.05" cy="457.01" r="9.48"/><circle class="as" cx="389.05" cy="457.01" r="9.48"/>
<circle class="a" cx="403.74" cy="557.69" r="9.48"/><circle class="as" cx="403.74" cy="557.69" r="9.48"/>
<circle class="a" cx="278.43" cy="634.08" r="9.48"/><circle class="as" cx="278.43" cy="634.08" r="9.48"/>
<circle class="a" cx="331.76" cy="530.49" r="9.48"/><circle class="as" cx="331.76" cy="530.49" r="9.48"/>
<circle class="a" cx="460.41" cy="664.73" r="9.48"/><circle class="as" cx="460.41" cy="664.73" r="9.48"/>
<circle class="a" cx="272.33" cy="697.85" r="9.48"/><circle class="as" cx="272.33" cy="697.85" r="9.48"/>
<circle class="a" cx="375.53" cy="577.23" r="9.48"/><circle class="as" cx="375.53" cy="577.23" r="9.48"/>
<circle class="a" cx="385.76" cy="665.58" r="9.48"/><circle class="as" cx="385.76" cy="665.58" r="9.48"/>
<circle class="a" cx="425.51" cy="513.69" r="9.48"/><circle class="as" cx="425.51" cy="513.69" r="9.48"/>
<circle class="a" cx="333.27" cy="579.42" r="9.48"/><circle class="as" cx="333.27" cy="579.42" r="9.48"/>
<circle class="a" cx="368.61" cy="635.36" r="9.48"/><circle class="as" cx="368.61" cy="635.36" r="9.48"/>
<circle class="a" cx="234.78" cy="419.59" r="9.48"/><circle class="as" cx="234.78" cy="419.59" r="9.48"/>
<circle class="a" cx="381.14" cy="576.08" r="9.48"/><circle class="as" cx="381.14" cy="576.08" r="9.48"/>
<circle class="a" cx="311.14" cy="437.76" r="9.48"/><circle class="as" cx="311.14" cy="437.76" r="9.48"/>
<circle class="a" cx="340.94" cy="576.40" r="9.48"/><circle class="as" cx="340.94" cy="576.40" r="9.48"/>
<circle class="a" cx="274.85" cy="595.89" r="9.48"/><circle class="as" cx="274.85" cy="595.89" r="9.48"/>
<circle class="a" cx="384.36" cy="532.43" r="9.48"/><circle class="as" cx="384.36" cy="532.43" r="9.48"/>
<circle class="a" cx="403.98" cy="473.14" r="9.48"/><circle class="as" cx="403.98" cy="473.14" r="9.48"/>
<circle class="a" cx="336.35" cy="321.79" r="9.48"/><circle class="as" cx="336.35" cy="321.79" r="9.48"/>
<circle class="a" cx="484.64" cy="659.62" r="9.48"/><circle class="as" cx="484.64" cy="659.62" r="9.48"/>
<circle class="a" cx="404.25" cy="582.72" r="9.48"/><circle class="as" cx="404.25" cy="582.72" r="9.48"/>
<circle class="a" cx="423.62" cy="468.82" r="9.48"/><circle class="as" cx="423.62" cy="468.82" r="9.48"/>
<circle class="a" cx="500.27" cy="535.30" r="9.48"/><circle class="as" cx="500.27" cy="535.30" r="9.48"/>
<circle class="a" cx="312.22" cy="583.07" r="9.48"/><circle class="as" cx="312.22" cy="583.07" r="9.48"/>
<circle class="a" cx="413.87" cy="683.81" r="9.48"/><circle class="as" cx="413.87" cy="683.81" r="9.48"/>
<circle class="a" cx="426.26" cy="591.32" r="9.48"/><circle class="as" cx="426.26" cy="591.32" r="9.48"/>
<circle class="a" cx="357.13" cy="582.84" r="9.48"/><circle class="as" cx="357.13" cy="582.84" r="9.48"/>
<circle class="a" cx="379.78" cy="573.54" r="9.48"/><circle class="as" cx="379.78" cy="573.54" r="9.48"/>
<circle class="a" cx="287.10" cy="420.55" r="9.48"/><circle class="as" cx="287.10" cy="420.55" r="9.48"/>
<circle class="a" cx="390.30" cy="607.87" r="9.48"/><circle class="as" cx="390.30" cy="607.87" r="9.48"/>
<circle class="a" cx="308.75" cy="708.49" r="9.48"/><circle class="as" cx="308.75" cy="708.49" r="9.48"/>
<circle class="a" cx="414.22" cy="521.32" r="9.48"/><circle class="as" cx="414.22" cy="521.32" r="9.48"/>
<circle class="a" cx="301.06" cy="576.26" r="9.48"/><circle class="as" cx="301.06" cy="576.26" r="9.48"/>
<circle class="a" cx="379.80" cy="584.61" r="9.48"/><circle class="as" cx="379.80" cy="584.61" r="9.48"/>
<circle class="a" cx="298.61" cy="508.75" r="9.48"/><circle class="as" cx="298.61" cy="508.75" r="9.48"/>
<circle class="a" cx="340.45" cy="828.65" r="9.48"/><circle class="as" cx="340.45" cy="828.65" r="9.48"/>
<circle class="a" cx="249.43" cy="616.15" r="9.48"/><circle class="as" cx="249.43" cy="616.15" r="9.48"/>
<circle class="a" cx="366.50" cy="580.01" r="9.48"/><circle class="as" cx="366.50" cy="580.01" r="9.48"/>
<circle class="a" cx="426.18" cy="511.49" r="9.48"/><circle class="as" cx="426.18" cy="511.49" r="9.48"/>
<circle class="a" cx="370.32" cy="589.72" r="9.48"/><circle class="as" cx="370.32" cy="589.72" r="9.48"/>
<circle class="a" cx="234.57" cy="656.93" r="9.48"/><circle class="as" cx="234.57" cy="656.93" r="9.48"/>
<circle class="a" cx="314.35" cy="532.51" r="9.48"/><circle class="as" cx="314.35" cy="532.51" r="9.48"/>
<circle class="a" cx="472.88" cy="564.40" r="9.48"/><circle class="as" cx="472.88" cy="564.40" r="9.48"/>
<circle class="a" cx="483.58" cy="556.17" r="9.48"/><circle class="as" cx="483.58" cy="556.17" r="9.48"/>
<circle class="a" cx="275.74" cy="461.70" r="9.48"/><circle class="as" cx="275.74" cy="461.70" r="9.48"/>
<circle class="a" cx="332.02" cy="615.12" r="9.48"/><circle class="as" cx="332.02" cy="615.12" r="9.48"/>
<circle class="a" cx="382.18" cy="678.97" r="9.48"/><circle class="as" cx="382.18" cy="678.97" r="9.48"/>
<circle class="a" cx="379.78" cy="681.75" r="9.48"/><circle class="as" cx="379.78" cy="681.75" r="9.48"/>
<circle class="a" cx="317.17" cy="658.62" r="9.48"/><circle class="as" cx="317.17" cy="658.62" r="9.48"/>
<circle class="a" cx="291.18" cy="691.47" r="9.48"/><circle class="as" cx="291.18" cy="691.47" r="9.48"/>
<circle class="a" cx="345.06" cy="570.60" r="9.48"/><circle class="as" cx="345.06" cy="570.60" r="9.48"/>
<circle class="a" cx="427.88" cy="402.60" r="9.48"/><circle class="as" cx="427.88" cy="402.60" r="9.48"/>
<circle class="a" cx="359.20" cy="575.14" r="9.48"/><circle class="as" cx="359.20" cy="575.14" r="9.48"/>
<circle class="a" cx="312.36" cy="495.96" r="9.48"/><circle class="as" cx="312.36" cy="495.96" r="9.48"/>
<circle class="a" cx="322.44" cy="665.73" r="9.48"/><circle class="as" cx="322.44" cy="665.73" r="9.48"/>
<circle class="a" cx="469.98" cy="586.17" r="9.48"/><circle class="as" cx="469.98" cy="586.17" r="9.48"/>
<circle class="a" cx="326.44" cy="515.03" r="9.48"/><circle class="as" cx="326.44" cy="515.03" r="9.48"/>
<circle class="a" cx="410.70" cy="598.21" r="9.48"/><circle class="as" cx="410.70" cy="598.21" r="9.48"/>
<circle class="a" cx="460.04" cy="495.24" r="9.48"/><circle class="as" cx="460.04" cy="495.24" r="9.48"/>
<circle class="a" cx="388.45" cy="503.47" r="9.48"/><circle class="as" cx="388.45" cy="503.47" r="9.48"/>
<circle class="a" cx="328.19" cy="623.29" r="9.48"/><circle class="as" cx="328.19" cy="623.29" r="9.48"/>
<circle class="a" cx="354.77" cy="635.87" r="9.48"/><circle class="as" cx="354.77" cy="635.87" r="9.48"/>
<circle class="a" cx="323.28" cy="353.22" r="9.48"/><circle class="as" cx="323.28" cy="353.22" r="9.48"/>
<circle class="a" cx="443.05" cy="583.54" r="9.48"/><circle class="as" cx="443.05" cy="583.54" r="9.48"/>
<circle class="a" cx="347.15" cy="565.55" r="9.48"/><circle class="as" cx="347.15" cy="565.55" r="9.48"/>
<circle class="a" cx="465.49" cy="571.08" r="9.48"/><circle class="as" cx="465.49" cy="571.08" r="9.48"/>
<circle class="a" cx="318.45" cy="617.47" r="9.48"/><circle class="as" cx="318.45" cy="617.47" r="9.48"/>
<circle class="a" cx="312.50" cy="649.87" r="9.48"/><circle class="as" cx="312.50" cy="649.87" r="9.48"/>
<circle class="a" cx="367.53" cy="668.72" r="9.48"/><circle class="as" cx="367.53" cy="668.72" r="9.48"/>
<circle class="a" cx="359.24" cy="483.61" r="9.48"/><circle class="as" cx="359.24" cy="483.61" r="9.48"/>
<circle class="a" cx="322.43" cy="655.20" r="9.48"/><circle class="as" cx="322.43" cy="655.20" r="9.48"/>
<circle class="a" cx="247.44" cy="505.87" r="9.48"/><circle class="as" cx="247.44" cy="505.87" r="9.48"/>
<circle class="a" cx="359.65" cy="439.12" r="9.48"/><circle class="as" cx="359.65" cy="439.12" r="9.48"/>
<circle class="a" cx="307.66" cy="461.59" r="9.48"/><circle class="as" cx="307.66" cy="461.59" r="9.48"/>
<circle class="a" cx="432.95" cy="578.68" r="9.48"/><circle class="as" cx="432.95" cy="578.68" r="9.48"/>
<circle class="a" cx="291.22" cy="614.86" r="9.48"/><circle class="as" cx="291.22" cy="614.86" r="9.48"/>
<circle class="a" cx="436.00" cy="663.59" r="9.48"/><circle class="as" cx="436.00" cy="663.59" r="9.48"/>
<circle class="a" cx="312.36" cy="567.83" r="9.48"/><circle class="as" cx="312.36" cy="567.83" r="9.48"/>
<circle class="a" cx="377.93" cy="587.16" r="9.48"/><circle class="as" cx="377.93" cy="587.16" r="9.48"/>
<circle class="a" cx="420.14" cy="552.04" r="9.48"/><circle class="as" cx="420.14" cy="552.04" r="9.48"/>
<circle class="a" cx="321.44" cy="620.70" r="9.48"/><circle class="as" cx="321.44" cy="620.70" r="9.48"/>
<circle class="a" cx="396.17" cy="509.34" r="9.48"/><circle class="as" cx="396.17" cy="509.34" r="9.48"/>
<circle class="a" cx="351.43" cy="501.66" r="9.48"/><circle class="as" cx="351.43" cy="501.66" r="9.48"/>
<circle class="a" cx="278.51" cy="468.99" r="9.48"/><circle class="as" cx="278.51" cy="468.99" r="9.48"/>
<circle class="a" cx="338.75" cy="362.98" r="9.48"/><circle class="as" cx="338.75" cy="362.98" r="9.48"/>
<circle class="a" cx="470.35" cy="548.28" r="9.48"/><circle class="as" cx="470.35" cy="548.28" r="9.48"/>
<circle class="a" cx="342.65" cy="618.13" r="9.48"/><circle class="as" cx="342.65" cy="618.13" r="9.48"/>
<circle class="a" cx="300.61" cy="573.14" r="9.48"/><circle class="as" cx="300.61" cy="573.14" r="9.48"/>
<circle class="a" cx="353.80" cy="713.17" r="9.48"/><circle class="as" cx="353.80" cy="713.17" r="9.48"/>
<circle class="a" cx="380.55" cy="554.42" r="9.48"/><circle class="as" cx="380.55" cy="554.42" r="9.48"/>
<circle class="a" cx="424.08" cy="604.60" r="9.48"/><circle class="as" cx="424.08" cy="604.60" r="9.48"/>
<circle class="a" cx="437.22" cy="529.49" r="9.48"/><circle class="as" cx="437.22" cy="529.49" r="9.48"/>
<circle class="a" cx="364.56" cy="590.43" r="9.48"/><circle class="as" cx="364.56" cy="590.43" r="9.48"/>
<circle class="a" cx="438.65" cy="690.87" r="9.48"/><circle class="as" cx="438.65" cy="690.87" r="9.48"/>
<circle class="a" cx="304.34" cy="562.85" r="9.48"/><circle class="as" cx="304.34" cy="562.85" r="9.48"/>
<circle class="a" cx="194.30" cy="688.36" r="9.48"/><circle class="as" cx="194.30" cy="688.36" r="9.48"/>
<circle class="a" cx="324.71" cy="485.14" r="9.48"/><circle class="as" cx="324.71" cy="485.14" r="9.48"/>
<circle class="a" cx="321.64" cy="731.36" r="9.48"/><circle class="as" cx="321.64" cy="731.36" r="9.48"/>
<circle class="a" cx="196.28" cy="578.97" r="9.48"/><circle class="as" cx="196.28" cy="578.97" r="9.48"/>
<circle class="a" cx="396.73" cy="524.79" r="9.48"/><circle class="as" cx="396.73" cy="524.79" r="9.48"/>
<circle class="a" cx="302.98" cy="703.39" r="9.48"/><circle class="as" cx="302.98" cy="703.39" r="9.48"/>
<circle class="a" cx="341.82" cy="439.80" r="9.48"/><circle class="as" cx="341.82" cy="439.80" r="9.48"/>
<circle class="a" cx="247.04" cy="646.11" r="9.48"/><circle class="as" cx="247.04" cy="646.11" r="9.48"/>
<circle class="a" cx="395.69" cy="611.88" r="9.48"/><circle class="as" cx="395.69" cy="611.88" r="9.48"/>
<circle class="a" cx="489.25" cy="551.40" r="9.48"/><circle class="as" cx="489.25" cy="551.40" r="9.48"/>
<circle class="a" cx="296.41" cy="596.60" r="9.48"/><circle class="as" cx="296.41" cy="596.60" r="9.48"/>
<circle class="a" cx="349.72" cy="659.71" r="9.48"/><circle class="as" cx="349.72" cy="659.71" r="9.48"/>
<circle class="a" cx="493.26" cy="529.19" r="9.48"/><circle class="as" cx="493.26" cy="529.19" r="9.48"/>
<circle class="a" cx="422.59" cy="613.50" r="9.48"/><circle class="as" cx="422.59" cy="613.50" r="9.48"/>
<circle class="a" cx="490.77" cy="520.41" r="9.48"/><circle class="as" cx="490.77" cy="520.41" r="9.48"/>
<circle class="a" cx="357.19" cy="611.73" r="9.48"/><circle class="as" cx="357.19" cy="611.73" r="9.48"/>
<circle class="a" cx="346.96" cy="652.60" r="9.48"/><circle class="as" cx="346.96" cy="652.60" r="9.48"/>
<circle class="a" cx="322.07" cy="574.70" r="9.48"/><circle class="as" cx="322.07" cy="574.70" r="9.48"/>
<circle class="a" cx="457.46" cy="507.50" r="9.48"/><circle class="as" cx="457.46" cy="507.50" r="9.48"/>
<circle class="a" cx="268.02" cy="544.27" r="9.48"/><circle class="as" cx="268.02" cy="544.27" r="9.48"/>
<circle class="a" cx="378.96" cy="571.47" r="9.48"/><circle class="as" cx="378.96" cy="571.47" r="9.48"/>
<circle class="a" cx="354.33" cy="742.06" r="9.48"/><circle class="as" cx="354.33" cy="742.06" r="9.48"/>
<circle class="a" cx="514.37" cy="435.07" r="9.48"/><circle class="as" cx="514.37" cy="435.07" r="9.48"/>
<circle class="a" cx="315.22" cy="569.76" r="9.48"/><circle class="as" cx="315.22" cy="569.76" r="9.48"/>
<circle class="a" cx="252.46" cy="644.18" r="9.48"/><circle class="as" cx="252.46" cy="644.18" r="9.48"/>
<circle class="a" cx="373.76" cy="584.37" r="9.48"/><circle class="as" cx="373.76" cy="584.37" r="9.48"/>
<circle class="a" cx="354.80" cy="542.56" r="9.48"/><circle class="as" cx="354.80" cy="542.56" r="9.48"/>
<circle class="a" cx="299.13" cy="703.27" r="9.48"/><circle class="as" cx="299.13" cy="703.27" r="9.48"/>
<circle class="a" cx="366.77" cy="501.37" r="9.48"/><circle class="as" cx="366.77" cy="501.37" r="9.48"/>
<circle class="a" cx="338.37" cy="543.86" r="9.48"/><circle class="as" cx="338.37" cy="543.86" r="9.48"/>
<circle class="a" cx="310.29" cy="457.53" r="9.48"/><circle class="as" cx="310.29" cy="457.53" r="9.48"/>
<circle class="a" cx="392.43" cy="477.10" r="9.48"/><circle class="as" cx="392.43" cy="477.10" r="9.48"/>
<circle class="a" cx="334.46" cy="614.73" r="9.48"/><circle class="as" cx="334.46" cy="614.73" r="9.48"/>
<circle class="a" cx="229.78" cy="610.43" r="9.48"/><circle class="as" cx="229.78" cy="610.43" r="9.48"/>
<circle class="a" cx="172.91" cy="656.06" r="9.48"/><circle class="as" cx="172.91" cy="656.06" r="9.48"/>
<circle class="a" cx="317.13" cy="598.82" r="9.48"/><circle class="as" cx="317.13" cy="598.82" r="9.48"/>
<circle class="a" cx="458.82" cy="480.87" r="9.48"/><circle class="as" cx="458.82" cy="480.87" r="9.48"/>
<circle class="a" cx="415.92" cy="404.30" r="9.48"/><circle class="as" cx="415.92" cy="404.30" r="9.48"/>
<circle class="a" cx="442.17" cy="482.31" r="9.48"/><circle class="as" cx="442.17" cy="482.31" r="9.48"/>
<circle class="a" cx="425.98" cy="731.41" r="9.48"/><circle class="as" cx="425.98" cy="731.41" r="9.48"/>
<circle class="a" cx="379.55" cy="491.93" r="9.48"/><circle class="as" cx="379.55" cy="491.93" r="9.48"/>
<circle class="a" cx="252.62" cy="472.57" r="9.48"/><circle class="as" cx="252.62" cy="472.57" r="9.48"/>
<circle class="a" cx="371.87" cy="510.39" r="9.48"/><circle class="as" cx="371.87" cy="510.39" r="9.48"/>
<circle class="a" cx="468.78" cy="643.36" r="9.48"/><circle class="as" cx="468.78" cy="643.36" r="9.48"/>
<circle class="a" cx="121.08" cy="470.02" r="9.48"/><circle class="as" cx="121.08" cy="470.02" r="9.48"/>
<circle class="a" cx="303.15" cy="500.27" r="9.48"/><circle class="as" cx="303.15" cy="500.27" r="9.48"/>
<circle class="a" cx="434.33" cy="506.31" r="9.48"/><circle class="as" cx="434.33" cy="506.31" r="9.48"/>
<circle class="a" cx="394.38" cy="600.60" r="9.48"/><circle class="as" cx="394.38" cy="600.60" r="9.48"/>
<circle class="a" cx="412.53" cy="489.76" r="9.48"/><circle class="as" cx="412.53" cy="489.76" r="9.48"/>
<circle class="a" cx="389.39" cy="556.07" r="9.48"/><circle class="as" cx="389.39" cy="556.07" r="9.48"/>
<circle class="a" cx="395.08" cy="572.27" r="9.48"/><circle class="as" cx="395.08" cy="572.27" r="9.48"/>
<circle class="a" cx="358.58" cy="431.85" r="9.48"/><circle class="as" cx="358.58" cy="431.85" r="9.48"/>
<circle class="a" cx="293.74" cy="497.77" r="9.48"/><circle class="as" cx="293.74" cy="497.77" r="9.48"/>
<circle class="a" cx="272.13" cy="825.71" r="9.48"/><circle class="as" cx="272.13" cy="825.71" r="9.48"/>
<circle class="a" cx="360.08" cy="604.67" r="9.48"/><circle class="as" cx="360.08" cy="604.67" r="9.48"/>
<circle class="a" cx="328.22" cy="700.48" r="9.48"/><circle class="as" cx="328.22" cy="700.48" r="9.48"/>
<circle class="a" cx="294.93" cy="512.98" r="9.48"/><circle class="as" cx="294.93" cy="512.98" r="9.48"/>
<circle class="a" cx="386.63" cy="606.12" r="9.48"/><circle class="as" cx="386.63" cy="606.12" r="9.48"/>
<circle class="a" cx="368.24" cy="484.76" r="9.48"/><circle class="as" cx="368.24" cy="484.76" r="9.48"/>
<circle class="a" cx="459.45" cy="523.90" r="9.48"/><circle class="as" cx="459.45" cy="523.90" r="9.48"/>
<circle class="a" cx="279.46" cy="564.16" r="9.48"/><circle class="as" cx="279.46" cy="564.16" r="9.48"/>
<circle class="a" cx="321.50" cy="573.84" r="9.48"/><circle class="as" cx="321.50" cy="573.84" r="9.48"/>
<circle class="a" cx="352.34" cy="598.78" r="9.48"/><circle class="as" cx="352.34" cy="598.78" r="9.48"/>
<circle class="a" cx="259.53" cy="548.13" r="9.48"/><circle class="as" cx="259.53" cy="548.13" r="9.48"/>
<circle class="a" cx="337.73" cy="666.24" r="9.48"/><circle class="as" cx="337.73" cy="666.24" r="9.48"/>
<circle class="a" cx="308.25" cy="505.39" r="9.48"/><circle class="as" cx="308.25" cy="505.39" r="9.48"/>
<circle class="a" cx="208.01" cy="601.74" r="9.48"/><circle class="as" cx="208.01" cy="601.74" r="9.48"/>
<circle class="a" cx="337.79" cy="633.34" r="9.48"/><circle class="as" cx="337.79" cy="633.34" r="9.48"/>
<circle class="a" cx="320.37" cy="595.60" r="9.48"/><circle class="as" cx="320.37" cy="595.60" r="9.48"/>
<circle class="a" cx="436.46" cy="396.85" r="9.48"/><circle class="as" cx="436.46" cy="396.85" r="9.48"/>
<circle class="a" cx="315.50" cy="724.92" r="9.48"/><circle class="as" cx="315.50" cy="724.92" r="9.48"/>
<circle class="a" cx="396.38" cy="597.66" r="9.48"/><circle class="as" cx="396.38" cy="597.66" r="9.48"/>
<circle class="a" cx="367.49" cy="556.53" r="9.48"/><circle class="as" cx="367.49" cy="556.53" r="9.48"/>
<circle class="a" cx="271.43" cy="614.71" r="9.48"/><circle class="as" cx="271.43" cy="614.71" r="9.48"/>
<circle class="a" cx="383.61" cy="603.29" r="9.48"/><circle class="as" cx="383.61" cy="603.29" r="9.48"/>
<circle class="a" cx="350.17" cy="531.62" r="9.48"/><circle class="as" cx="350.17" cy="531.62" r="9.48"/>
<circle class="a" cx="369.12" cy="546.06" r="9.48"/><circle class="as" cx="369.12" cy="546.06" r="9.48"/>
<circle class="a" cx="403.38" cy="627.00" r="9.48"/><circle class="as" cx="403.38" cy="627.00" r="9.48"/>
<circle class="a" cx="365.50" cy="514.91" r="9.48"/><circle class="as" cx="365.50" cy="514.91" r="9.48"/>
<circle class="a" cx="467.94" cy="549.94" r="9.48"/><circle class="as" cx="467.94" cy="549.94" r="9.48"/>
<circle class="a" cx="365.61" cy="504.17" r="9.48"/><circle class="as" cx="365.61" cy="504.17" r="9.48"/>
<circle class="a" cx="270.24" cy="686.02" r="9.48"/><circle class="as" cx="270.24" cy="686.02" r="9.48"/>
<circle class="a" cx="409.22" cy="635.50" r="9.48"/><circle class="as" cx="409.22" cy="635.50" r="9.48"/>
<circle class="a" cx="272.40" cy="583.56" r="9.48"/><circle class="as" cx="272.40" cy="583.56" r="9.48"/>
<circle class="a" cx="223.94" cy="479.54" r="9.48"/><circle class="as" cx="223.94" cy="479.54" r="9.48"/>
<circle class="a" cx="301.16" cy="613.93" r="9.48"/><circle class="as" cx="301.16" cy="613.93" r="9.48"/>
<circle class="a" cx="305.70" cy="659.43" r="9.48"/><circle class="as" cx="305.70" cy="659.43" r="9.48"/>
<circle class="a" cx="315.26" cy="496.46" r="9.48"/><circle class="as" cx="315.26" cy="496.46" r="9.48"/>
<circle class="a" cx="469.45" cy="524.13" r="9.48"/><circle class="as" cx="469.45" cy="524.13" r="9.48"/>
<circle class="a" cx="471.45" cy="676.84" r="9.48"/><circle class="as" cx="471.45" cy="676.84" r="9.48"/>
<circle class="a" cx="408.12" cy="381.32" r="9.48"/><circle class="as" cx="408.12" cy="381.32" r="9.48"/>
<circle class="a" cx="268.86" cy="430.81" r="9.48"/><circle class="as" cx="268.86" cy="430.81" r="9.48"/>
<circle class="a" cx="359.17" cy="691.59" r="9.48"/><circle class="as" cx="359.17" cy="691.59" r="9.48"/>
<circle class="a" cx="391.48" cy="371.68" r="9.48"/><circle class="as" cx="391.48" cy="371.68" r="9.48"/>
<circle class="a" cx="348.02" cy="722.31" r="9.48"/><circle class="as" cx="348.02" cy="722.31" r="9.48"/>
<circle class="a" cx="369.52" cy="556.94" r="9.48"/><circle class="as" cx="369.52" cy="556.94" r="9.48"/>
<circle class="a" cx="291.77" cy="669.22" r="9.48"/><circle class="as" cx="291.77" cy="669.22" r="9.48"/>
<circle class="a" cx="267.90" cy="600.20" r="9.48"/><circle class="as" cx="267.90" cy="600.20" r="9.48"/>
<circle class="a" cx="455.59" cy="597.65" r="9.48"/><circle class="as" cx="455.59" cy="597.65" r="9.48"/>
<circle class="a" cx="376.18" cy="536.99" r="9.48"/><circle class="as" cx="376.18" cy="536.99" r="9.48"/>
<circle class="a" cx="329.12" cy="667.69" r="9.48"/><circle class="as" cx="329.12" cy="667.69" r="9.48"/>
<circle class="a" cx="380.21" cy="815.14" r="9.48"/><circle class="as" cx="380.21" cy="815.14" r="9.48"/>
<circle class="a" cx="501.18" cy="574.81" r="9.48"/><circle class="as" cx="501.18" cy="574.81" r="9.48"/>
<circle class="a" cx="382.81" cy="633.59" r="9.48"/><circle class="as" cx="382.81" cy="633.59" r="9.48"/>
<circle class="a" cx="455.84" cy="547.12" r="9.48"/><circle class="as" cx="455.84" cy="547.12" r="9.48"/>
<circle class="a" cx="452.79" cy="642.78" r="9.48"/><circle class="as" cx="452.79" cy="642.78" r="9.48"/>
<circle class="a" cx="329.21" cy="494.60" r="9.48"/><circle class="as" cx="329.21" cy="494.60" r="9.48"/>
<circle class="a" cx="410.66" cy="563.52" r="9.48"/><circle class="as" cx="410.66" cy="563.52" r="9.48"/>
<circle class="a" cx="312.21" cy="511.66" r="9.48"/><circle class="as" cx="312.21" cy="511.66" r="9.48"/>
<circle class="a" cx="254.94" cy="656.01" r="9.48"/><circle class="as" cx="254.94" cy="656.01" r="9.48"/>
<circle class="a" cx="273.88" cy="585.24" r="9.48"/><circle class="as" cx="273.88" cy="585.24" r="9.48"/>
<circle class="a" cx="347.20" cy="535.08" r="9.48"/><circle class="as" cx="347.20" cy="535.08" r="9.48"/>
<circle class="a" cx="482.70" cy="574.22" r="9.48"/><circle class="as" cx="482.70" cy="574.22" r="9.48"/>
<circle class="a" cx="364.86" cy="416.78" r="9.48"/><circle class="as" cx="364.86" cy="416.78" r="9.48"/>
<circle class="a" cx="301.65" cy="743.42" r="9.48"/><circle class="as" cx="301.65" cy="743.42" r="9.48"/>
<circle class="a" cx="373.60" cy="497.87" r="9.48"/><circle class="as" cx="373.60" cy="497.87" r="9.48"/>
<circle class="a" cx="406.16" cy="564.85" r="9.48"/><circle class="as" cx="406.16" cy="564.85" r="9.48"/>
<circle class="a" cx="267.37" cy="480.74" r="9.48"/><circle class="as" cx="267.37" cy="480.74" r="9.48"/>
<circle class="a" cx="284.12" cy="575.08" r="9.48"/><circle class="as" cx="284.12" cy="575.08" r="9.48"/>
<circle class="a" cx="222.36" cy="813.58" r="9.48"/><circle class="as" cx="222.36" cy="813.58" r="9.48"/>
<circle class="a" cx="269.15" cy="528.19" r="9.48"/><circle class="as" cx="269.15" cy="528.19" r="9.48"/>
<circle class="a" cx="295.76" cy="585.87" r="9.48"/><circle class="as" cx="295.76" cy="585.87" r="9.48"/>
<circle class="a" cx="337.23" cy="655.50" r="9.48"/><circle class="as" cx="337.23" cy="655.50" r="9.48"/>
<circle class="a" cx="455.75" cy="625.44" r="9.48"/><circle class="as" cx="455.75" cy="625.44" r="9.48"/>
<circle class="a" cx="419.44" cy="561.13" r="9.48"/><circle class="as" cx="419.44" cy="561.13" r="9.48"/>
<circle class="a" cx="376.57" cy="344.71" r="9.48"/><circle class="as" cx="376.57" cy="344.71" r="9.48"/>
<circle class="a" cx="318.10" cy="549.16" r="9.48"/><circle class="as" cx="318.10" cy="549.16" r="9.48"/>
<circle class="a" cx="354.76" cy="654.63" r="9.48"/><circle class="as" cx="354.76" cy="654.63" r="9.48"/>
<circle class="a" cx="395.69" cy="394.24" r="9.48"/><circle class="as" cx="395.69" cy="394.24" r="9.48"/>
<circle class="a" cx="322.46" cy="605.76" r="9.48"/><circle class="as" cx="322.46" cy="605.76" r="9.48"/>
<circle class="a" cx="431.31" cy="641.09" r="9.48"/><circle class="as" cx="431.31" cy="641.09" r="9.48"/>
<circle class="a" cx="433.98" cy="678.79" r="9.48"/><circle class="as" cx="433.98" cy="678.79" r="9.48"/>
<circle class="a" cx="276.33" cy="627.00" r="9.48"/><circle class="as" cx="276.33" cy="627.00" r="9.48"/>
<circle class="a" cx="305.55" cy="391.39" r="9.48"/><circle class="as" cx="305.55" cy="391.39" r="9.48"/>
<circle class="a" cx="441.59" cy="484.28" r="9.48"/><circle class="as" cx="441.59" cy="484.28" r="9.48"/>
<circle class="a" cx="240.07" cy="499.64" r="9.48"/><circle class="as" cx="240.07" cy="499.64" r="9.48"/>
<circle class="a" cx="386.79" cy="552.91" r="9.48"/><circle class="as" cx="386.79" cy="552.91" r="9.48"/>
<circle class="a" cx="373.82" cy="540.58" r="9.48"/><circle class="as" cx="373.82" cy="540.58" r="9.48"/>
<circle class="a" cx="580.11" cy="512.93" r="9.48"/><circle class="as" cx="580.11" cy="512.93" r="9.48"/>
<circle class="a" cx="167.48" cy="546.66" r="9.48"/><circle class="as" cx="167.48" cy="546.66" r="9.48"/>
<circle class="a" cx="299.01" cy="552.15" r="9.48"/><circle class="as" cx="299.01" cy="552.15" r="9.48"/>
<circle class="a" cx="404.50" cy="480.01" r="9.48"/><circle class="as" cx="404.50" cy="480.01" r="9.48"/>
<circle class="a" cx="474.15" cy="581.13" r="9.48"/><circle class="as" cx="474.15" cy="581.13" r="9.48"/>
<circle class="a" cx="416.03" cy="543.12" r="9.48"/><circle class="as" cx="416.03" cy="543.12" r="9.48"/>
<circle class="a" cx="258.10" cy="647.20" r="9.48"/><circle class="as" cx="258.10" cy="647.20" r="9.48"/>
<circle class="a" cx="513.50" cy="423.10" r="9.48"/><circle class="as" cx="513.50" cy="423.10" r="9.48"/>
<circle class="a" cx="235.19" cy="440.37" r="9.48"/><circle class="as" cx="235.19" cy="440.37" r="9.48"/>
<circle class="a" cx="280.05" cy="729.82" r="9.48"/><circle class="as" cx="280.05" cy="729.82" r="9.48"/>
<circle class="a" cx="354.56" cy="585.69" r="9.48"/><circle class="as" cx="354.56" cy="585.69" r="9.48"/>
<circle class="a" cx="512.54" cy="516.49" r="9.48"/><circle class="as" cx="512.54" cy="516.49" r="9.48"/>
<circle class="a" cx="392.82" cy="522.56" r="9.48"/><circle class="as" cx="392.82" cy="522.56" r="9.48"/>
<circle class="a" cx="408.42" cy="497.44" r="9.48"/><circle class="as" cx="408.42" cy="497.44" r="9.48"/>
<circle class="a" cx="477.89" cy="606.40" r="9.48"/><circle class="as" cx="477.89" cy="606.40" r="9.48"/>
<circle class="b" cx="343.26" cy="313.82" r="9.48"/><circle class="bs" cx="343.26" cy="313.82" r="9.48"/>
<circle class="b" cx="448.19" cy="599.07" r="9.48"/><circle class="bs" cx="448.19" cy="599.07" r="9.48"/>
<circle class="b" cx="320.02" cy="539.73" r="9.48"/><circle class="bs" cx="320.02" cy="539.73" r="9.48"/>
<circle class="b" cx="471.44" cy="526.08" r="9.48"/><circle class="bs" cx="471.44" cy="526.08" r="9.48"/>
<circle class="b" cx="476.14" cy="503.85" r="9.48"/><circle class="bs" cx="476.14" cy="503.85" r="9.48"/>
<circle class="b" cx="294.48" cy="509.82" r="9.48"/><circle class="bs" cx="294.48" cy="509.82" r="9.48"/>
<circle class="b" cx="492.58" cy="434.43" r="9.48"/><circle class="bs" cx="492.58" cy="434.43" r="9.48"/>
<circle class="b" cx="411.56" cy="589.74" r="9.48"/><circle class="bs" cx="411.56" cy="589.74" r="9.48"/>
<circle class="b" cx="380.27" cy="523.48" r="9.48"/><circle class="bs" cx="380.27" cy="523.48" r="9.48"/>
<circle class="b" cx="458.24" cy="526.13" r="9.48"/><circle class="bs" cx="458.24" cy="526.13" r="9.48"/>
<circle class="b" cx="516.37" cy="509.66" r="9.48"/><circle class="bs" cx="516.37" cy="509.66" r="9.48"/>
<circle class="b" cx="536.18" cy="530.43" r="9.48"/><circle class="bs" cx="536.18" cy="530.43" r="9.48"/>
<circle class="b" cx="343.59" cy="367.19" r="9.48"/><circle class="bs" cx="343.59" cy="367.19" r="9.48"/>
<circle class="b" cx="396.72" cy="406.41" r="9.48"/><circle class="bs" cx="396.72" cy="406.41" r="9.48"/>
<circle class="b" cx="437.39" cy="454.32" r="9.48"/><circle class="bs" cx="437.39" cy="454.32" r="9.48"/>
<circle class="b" cx="431.79" cy="603.63" r="9.48"/><circle class="bs" cx="431.79" cy="603.63" r="9.48"/>
<circle class="b" cx="396.20" cy="210.89" r="9.48"/><circle class="bs" cx="396.20" cy="210.89" r="9.48"/>
<circle class="b" cx="264.10" cy="391.40" r="9.48"/><circle class="bs" cx="264.10" cy="391.40" r="9.48"/>
<circle class="b" cx="407.81" cy="364.41" r="9.48"/><circle class="bs" cx="407.81" cy="364.41" r="9.48"/>
<circle class="b" cx="344.90" cy="646.65" r="9.48"/><circle class="bs" cx="344.90" cy="646.65" r="9.48"/>
<circle class="b" cx="429.50" cy="495.95" r="9.48"/><circle class="bs" cx="429.50" cy="495.95" r="9.48"/>
<circle class="b" cx="368.86" cy="406.47" r="9.48"/><circle class="bs" cx="368.86" cy="406.47" r="9.48"/>
<circle class="b" cx="419.00" cy="440.81" r="9.48"/><circle class="bs" cx="419.00" cy="440.81" r="9.48"/>
<circle class="b" cx="375.56" cy="420.83" r="9.48"/><circle class="bs" cx="375.56" cy="420.83" r="9.48"/>
<circle class="b" cx="398.76" cy="422.51" r="9.48"/><circle class="bs" cx="398.76" cy="422.51" r="9.48"/>
<circle class="b" cx="400.89" cy="515.14" r="9.48"/><circle class="bs" cx="400.89" cy="515.14" r="9.48"/>
<circle class="b" cx="519.69" cy="498.49" r="9.48"/><circle class="bs" cx="519.69" cy="498.49" r="9.48"/>
<circle class="b" cx="477.08" cy="559.49" r="9.48"/><circle class="bs" cx="477.08" cy="559.49" r="9.48"/>
<circle class="b" cx="411.02" cy="377.64" r="9.48"/><circle class="bs" cx="411.02" cy="377.64" r="9.48"/>
<circle class="b" cx="341.81" cy="651.40" r="9.48"/><circle class="bs" cx="341.81" cy="651.40" r="9.48"/>
<circle class="b" cx="500.14" cy="501.19" r="9.48"/><circle class="bs" cx="500.14" cy="501.19" r="9.48"/>
<circle class="b" cx="327.17" cy="402.50" r="9.48"/><circle class="bs" cx="327.17" cy="402.50" r="9.48"/>
<circle class="b" cx="344.85" cy="494.60" r="9.48"/><circle class="bs" cx="344.85" cy="494.60" r="9.48"/>
<circle class="b" cx="373.14" cy="344.82" r="9.48"/><circle class="bs" cx="373.14" cy="344.82" r="9.48"/>
<circle class="b" cx="359.49" cy="399.85" r="9.48"/><circle class="bs" cx="359.49" cy="399.85" r="9.48"/>
<circle class="b" cx="364.27" cy="554.03" r="9.48"/><circle class="bs" cx="364.27" cy="554.03" r="9.48"/>
<circle class="b" cx="516.83" cy="481.25" r="9.48"/><circle class="bs" cx="516.83" cy="481.25" r="9.48"/>
<circle class="b" cx="419.80" cy="474.80" r="9.48"/><circle class="bs" cx="419.80" cy="474.80" r="9.48"/>
<circle class="b" cx="377.34" cy="451.54" r="9.48"/><circle class="bs" cx="377.34" cy="451.54" r="9.48"/>
<circle class="b" cx="473.97" cy="523.54" r="9.48"/><circle class="bs" cx="473.97" cy="523.54" r="9.48"/>
<circle class="b" cx="440.96" cy="531.57" r="9.48"/><circle class="bs" cx="440.96" cy="531.57" r="9.48"/>
<circle class="b" cx="342.23" cy="499.54" r="9.48"/><circle class="bs" cx="342.23" cy="499.54" r="9.48"/>
<circle class="b" cx="388.13" cy="393.45" r="9.48"/><circle class="bs" cx="388.13" cy="393.45" r="9.48"/>
<circle class="b" cx="464.36" cy="374.37" r="9.48"/><circle class="bs" cx="464.36" cy="374.37" r="9.48"/>
<circle class="b" cx="563.00" cy="530.35" r="9.48"/><circle class="bs" cx="563.00" cy="530.35" r="9.48"/>
<circle class="b" cx="537.35" cy="470.85" r="9.48"/><circle class="bs" cx="537.35" cy="470.85" r="9.48"/>
<circle class="b" cx="485.53" cy="566.21" r="9.48"/><circle class="bs" cx="485.53" cy="566.21" r="9.48"/>
<circle class="b" cx="426.28" cy="544.31" r="9.48"/><circle class="bs" cx="426.28" cy="544.31" r="9.48"/>
<circle class="b" cx="307.02" cy="531.06" r="9.48"/><circle class="bs" cx="307.02" cy="531.06" r="9.48"/>
<circle class="b" cx="376.30" cy="594.76" r="9.48"/><circle class="bs" cx="376.30" cy="594.76" r="9.48"/>
<circle class="b" cx="412.19" cy="657.13" r="9.48"/><circle class="bs" cx="412.19" cy="657.13" r="9.48"/>
<circle class="b" cx="461.33" cy="406.48" r="9.48"/><circle class="bs" cx="461.33" cy="406.48" r="9.48"/>
<circle class="b" cx="431.33" cy="439.20" r="9.48"/><circle class="bs" cx="431.33" cy="439.20" r="9.48"/>
<circle class="b" cx="431.25" cy="550.95" r="9.48"/><circle class="bs" cx="431.25" cy="550.95" r="9.48"/>
<circle class="b" cx="555.21" cy="389.32" r="9.48"/><circle class="bs" cx="555.21" cy="389.32" r="9.48"/>
<circle class="b" cx="454.19" cy="312.32" r="9.48"/><circle class="bs" cx="454.19" cy="312.32" r="9.48"/>
<circle class="b" cx="407.66" cy="706.13" r="9.48"/><circle class="bs" cx="407.66" cy="706.13" r="9.48"/>
<circle class="b" cx="397.35" cy="371.96" r="9.48"/><circle class="bs" cx="397.35" cy="371.96" r="9.48"/>
<circle class="b" cx="433.83" cy="364.95" r="9.48"/><circle class="bs" cx="433.83" cy="364.95" r="9.48"/>
<circle class="b" cx="370.56" cy="462.11" r="9.48"/><circle class="bs" cx="370.56" cy="462.11" r="9.48"/>
<circle class="b" cx="522.47" cy="523.08" r="9.48"/><circle class="bs" cx="522.47" cy="523.08" r="9.48"/>
<circle class="b" cx="407.17" cy="575.33" r="9.48"/><circle class="bs" cx="407.17" cy="575.33" r="9.48"/>
<circle class="b" cx="390.39" cy="555.29" r="9.48"/><circle class="bs" cx="390.39" cy="555.29" r="9.48"/>
<circle class="b" cx="366.40" cy="533.34" r="9.48"/><circle class="bs" cx="366.40" cy="533.34" r="9.48"/>
<circle class="b" cx="492.36" cy="666.03" r="9.48"/><circle class="bs" cx="492.36" cy="666.03" r="9.48"/>
<circle class="b" cx="338.25" cy="534.21" r="9.48"/><circle class="bs" cx="338.25" cy="534.21" r="9.48"/>
<circle class="b" cx="394.55" cy="386.72" r="9.48"/><circle class="bs" cx="394.55" cy="386.72" r="9.48"/>
<circle class="b" cx="448.96" cy="544.02" r="9.48"/><circle class="bs" cx="448.96" cy="544.02" r="9.48"/>
<circle class="b" cx="419.65" cy="334.49" r="9.48"/><circle class="bs" cx="419.65" cy="334.49" r="9.48"/>
<circle class="b" cx="444.66" cy="480.36" r="9.48"/><circle class="bs" cx="444.66" cy="480.36" r="9.48"/>
<circle class="b" cx="335.54" cy="465.82" r="9.48"/><circle class="bs" cx="335.54" cy="465.82" r="9.48"/>
<circle class="b" cx="397.25" cy="432.90" r="9.48"/><circle class="bs" cx="397.25" cy="432.90" r="9.48"/>
<circle class="b" cx="308.53" cy="560.64" r="9.48"/><circle class="bs" cx="308.53" cy="560.64" r="9.48"/>
<circle class="b" cx="368.55" cy="545.75" r="9.48"/><circle class="bs" cx="368.55" cy="545.75" r="9.48"/>
<circle class="b" cx="507.15" cy="514.09" r="9.48"/><circle class="bs" cx="507.15" cy="514.09" r="9.48"/>
<circle class="b" cx="444.80" cy="315.73" r="9.48"/><circle class="bs" cx="444.80" cy="315.73" r="9.48"/>
<circle class="b" cx="433.13" cy="437.32" r="9.48"/><circle class="bs" cx="433.13" cy="437.32" r="9.48"/>
<circle class="b" cx="362.18" cy="484.37" r="9.48"/><circle class="bs" cx="362.18" cy="484.37" r="9.48"/>
<circle class="b" cx="388.42" cy="576.68" r="9.48"/><circle class="bs" cx="388.42" cy="576.68" r="9.48"/>
<circle class="b" cx="356.42" cy="483.74" r="9.48"/><circle class="bs" cx="356.42" cy="483.74" r="9.48"/>
<circle class="b" cx="430.92" cy="440.39" r="9.48"/><circle class="bs" cx="430.92" cy="440.39" r="9.48"/>
<circle class="b" cx="480.47" cy="508.41" r="9.48"/><circle class="bs" cx="480.47" cy="508.41" r="9.48"/>
<circle class="b" cx="448.03" cy="556.04" r="9.48"/><circle class="bs" cx="448.03" cy="556.04" r="9.48"/>
<circle class="b" cx="384.19" cy="561.31" r="9.48"/><circle class="bs" cx="384.19" cy="561.31" r="9.48"/>
<circle class="b" cx="465.69" cy="495.70" r="9.48"/><circle class="bs" cx="465.69" cy="495.70" r="9.48"/>
<circle class="b" cx="454.21" cy="444.94" r="9.48"/><circle class="bs" cx="454.21" cy="444.94" r="9.48"/>
<circle class="b" cx="485.91" cy="388.25" r="9.48"/><circle class="bs" cx="485.91" cy="388.25" r="9.48"/>
<circle class="b" cx="396.51" cy="596.45" r="9.48"/><circle class="bs" cx="396.51" cy="596.45" r="9.48"/>
<circle class="b" cx="345.07" cy="548.17" r="9.48"/><circle class="bs" cx="345.07" cy="548.17" r="9.48"/>
<circle class="b" cx="421.31" cy="660.69" r="9.48"/><circle class="bs" cx="421.31" cy="660.69" r="9.48"/>
<circle class="b" cx="448.28" cy="465.90" r="9.48"/><circle class="bs" cx="448.28" cy="465.90" r="9.48"/>
<circle class="b" cx="535.76" cy="411.17" r="9.48"/><circle class="bs" cx="535.76" cy="411.17" r="9.48"/>
<circle class="b" cx="422.34" cy="452.89" r="9.48"/><circle class="bs" cx="422.34" cy="452.89" r="9.48"/>
<circle class="b" cx="456.93" cy="364.87" r="9.48"/><circle class="bs" cx="456.93" cy="364.87" r="9.48"/>
<circle class="b" cx="421.40" cy="423.16" r="9.48"/><circle class="bs" cx="421.40" cy="423.16" r="9.48"/>
<circle class="b" cx="577.35" cy="528.87" r="9.48"/><circle class="bs" cx="577.35" cy="528.87" r="9.48"/>
<circle class="b" cx="520.36" cy="345.19" r="9.48"/><circle class="bs" cx="520.36" cy="345.19" r="9.48"/>
<circle class="b" cx="411.02" cy="435.80" r="9.48"/><circle class="bs" cx="411.02" cy="435.80" r="9.48"/>
<circle class="b" cx="418.32" cy="423.65" r="9.48"/><circle class="bs" cx="418.32" cy="423.65" r="9.48"/>
<circle class="b" cx="425.68" cy="559.09" r="9.48"/><circle class="bs" cx="425.68" cy="559.09" r="9.48"/>
<circle class="b" cx="435.08" cy="498.36" r="9.48"/><circle class="bs" cx="435.08" cy="498.36" r="9.48"/>
<circle class="b" cx="387.84" cy="586.19" r="9.48"/><circle class="bs" cx="387.84" cy="586.19" r="9.48"/>
<circle class="b" cx="432.81" cy="482.39" r="9.48"/><circle class="bs" cx="432.81" cy="482.39" r="9.48"/>
<circle class="b" cx="378.74" cy="352.58" r="9.48"/><circle class="bs" cx="378.74" cy="352.58" r="9.48"/>
<circle class="b" cx="350.86" cy="517.16" r="9.48"/><circle class="bs" cx="350.86" cy="517.16" r="9.48"/>
<circle class="b" cx="483.21" cy="469.95" r="9.48"/><circle class="bs" cx="483.21" cy="469.95" r="9.48"/>
<circle class="b" cx="472.92" cy="405.04" r="9.48"/><circle class="bs" cx="472.92" cy="405.04" r="9.48"/>
<circle class="b" cx="387.64" cy="619.23" r="9.48"/><circle class="bs" cx="387.64" cy="619.23" r="9.48"/>
<circle class="b" cx="515.82" cy="599.51" r="9.48"/><circle class="bs" cx="515.82" cy="599.51" r="9.48"/>
<circle class="b" cx="413.79" cy="559.61" r="9.48"/><circle class="bs" cx="413.79" cy="559.61" r="9.48"/>
<circle class="b" cx="407.44" cy="448.67" r="9.48"/><circle class="bs" cx="407.44" cy="448.67" r="9.48"/>
<circle class="b" cx="360.79" cy="468.58" r="9.48"/><circle class="bs" cx="360.79" cy="468.58" r="9.48"/>
<circle class="b" cx="425.50" cy="363.25" r="9.48"/><circle class="bs" cx="425.50" cy="363.25" r="9.48"/>
<circle class="b" cx="417.66" cy="587.33" r="9.48"/><circle class="bs" cx="417.66" cy="587.33" r="9.48"/>
<circle class="b" cx="431.90" cy="515.49" r="9.48"/><circle class="bs" cx="431.90" cy="515.49" r="9.48"/>
<circle class="b" cx="458.19" cy="665.64" r="9.48"/><circle class="bs" cx="458.19" cy="665.64" r="9.48"/>
<circle class="b" cx="490.33" cy="329.65" r="9.48"/><circle class="bs" cx="490.33" cy="329.65" r="9.48"/>
<circle class="b" cx="449.99" cy="377.92" r="9.48"/><circle class="bs" cx="449.99" cy="377.92" r="9.48"/>
<circle class="b" cx="496.31" cy="533.71" r="9.48"/><circle class="bs" cx="496.31" cy="533.71" r="9.48"/>
<circle class="b" cx="501.38" cy="498.67" r="9.48"/><circle class="bs" cx="501.38" cy="498.67" r="9.48"/>
<circle class="b" cx="223.13" cy="488.02" r="9.48"/><circle class="bs" cx="223.13" cy="488.02" r="9.48"/>
<circle class="b" cx="401.93" cy="313.70" r="9.48"/><circle class="bs" cx="401.93" cy="313.70" r="9.48"/>
<circle class="b" cx="466.88" cy="472.37" r="9.48"/><circle class="bs" cx="466.88" cy="472.37" r="9.48"/>
<circle class="b" cx="349.23" cy="438.54" r="9.48"/><circle class="bs" cx="349.23" cy="438.54" r="9.48"/>
<circle class="b" cx="360.30" cy="412.66" r="9.48"/><circle class="bs" cx="360.30" cy="412.66" r="9.48"/>
<circle class="b" cx="446.26" cy="413.55" r="9.48"/><circle class="bs" cx="446.26" cy="413.55" r="9.48"/>
<circle class="b" cx="396.46" cy="626.76" r="9.48"/><circle class="bs" cx="396.46" cy="626.76" r="9.48"/>
<circle class="b" cx="306.62" cy="409.01" r="9.48"/><circle class="bs" cx="306.62" cy="409.01" r="9.48"/>
<circle class="b" cx="490.27" cy="559.30" r="9.48"/><circle class="bs" cx="490.27" cy="559.30" r="9.48"/>
<circle class="b" cx="368.64" cy="478.70" r="9.48"/><circle class="bs" cx="368.64" cy="478.70" r="9.48"/>
<circle class="b" cx="454.10" cy="649.94" r="9.48"/><circle class="bs" cx="454.10" cy="649.94" r="9.48"/>
<circle class="b" cx="455.91" cy="456.49" r="9.48"/><circle class="bs" cx="455.91" cy="456.49" r="9.48"/>
<circle class="b" cx="533.13" cy="566.61" r="9.48"/><circle class="bs" cx="533.13" cy="566.61" r="9.48"/>
<circle class="b" cx="440.88" cy="672.62" r="9.48"/><circle class="bs" cx="440.88" cy="672.62" r="9.48"/>
<circle class="b" cx="473.54" cy="626.89" r="9.48"/><circle class="bs" cx="473.54" cy="626.89" r="9.48"/>
<circle class="b" cx="506.62" cy="604.15" r="9.48"/><circle class="bs" cx="506.62" cy="604.15" r="9.48"/>
<circle class="b" cx="398.90" cy="426.12" r="9.48"/><circle class="bs" cx="398.90" cy="426.12" r="9.48"/>
<circle class="b" cx="311.91" cy="447.81" r="9.48"/><circle class="bs" cx="311.91" cy="447.81" r="9.48"/>
<circle class="b" cx="437.15" cy="413.97" r="9.48"/><circle class="bs" cx="437.15" cy="413.97" r="9.48"/>
<circle class="b" cx="519.52" cy="523.88" r="9.48"/><circle class="bs" cx="519.52" cy="523.88" r="9.48"/>
<circle class="b" cx="329.27" cy="459.43" r="9.48"/><circle class="bs" cx="329.27" cy="459.43" r="9.48"/>
<circle class="b" cx="497.67" cy="438.67" r="9.48"/><circle class="bs" cx="497.67" cy="438.67" r="9.48"/>
<circle class="b" cx="423.01" cy="483.52" r="9.48"/><circle class="bs" cx="423.01" cy="483.52" r="9.48"/>
<circle class="b" cx="434.12" cy="575.79" r="9.48"/><circle class="bs" cx="434.12" cy="575.79" r="9.48"/>
<circle class="b" cx="402.88" cy="373.87" r="9.48"/><circle class="bs" cx="402.88" cy="373.87" r="9.48"/>
<circle class="b" cx="499.40" cy="325.20" r="9.48"/><circle class="bs" cx="499.40" cy="325.20" r="9.48"/>
<circle class="b" cx="526.37" cy="293.50" r="9.48"/><circle class="bs" cx="526.37" cy="293.50" r="9.48"/>
<circle class="b" cx="536.58" cy="395.24" r="9.48"/><circle class="bs" cx="536.58" cy="395.24" r="9.48"/>
<circle class="b" cx="359.83" cy="492.75" r="9.48"/><circle class="bs" cx="359.83" cy="492.75" r="9.48"/>
<circle class="b" cx="480.07" cy="487.37" r="9.48"/><circle class="bs" cx="480.07" cy="487.37" r="9.48"/>
<circle class="b" cx="401.00" cy="503.42" r="9.48"/><circle class="bs" cx="401.00" cy="503.42" r="9.48"/>
<circle class="b" cx="358.71" cy="499.58" r="9.48"/><circle class="bs" cx="358.71" cy="499.58" r="9.48"/>
<circle class="b" cx="454.34" cy="480.49" r="9.48"/><circle class="bs" cx="454.34" cy="480.49" r="9.48"/>
<circle class="b" cx="425.94" cy="653.99" r="9.48"/><circle class="bs" cx="425.94" cy="653.99" r="9.48"/>
<circle class="b" cx="482.33" cy="474.83" r="9.48"/><circle class="bs" cx="482.33" cy="474.83" r="9.48"/>
<circle class="b" cx="552.01" cy="454.59" r="9.48"/><circle class="bs" cx="552.01" cy="454.59" r="9.48"/>
<circle class="b" cx="499.39" cy="561.67" r="9.48"/><circle class="bs" cx="499.39" cy="561.67" r="9.48"/>
<circle class="b" cx="378.75" cy="634.53" r="9.48"/><circle class="bs" cx="378.75" cy="634.53" r="9.48"/>
<circle class="b" cx="436.92" cy="508.35" r="9.48"/><circle class="bs" cx="436.92" cy="508.35" r="9.48"/>
<circle class="b" cx="525.61" cy="757.75" r="9.48"/><circle class="bs" cx="525.61" cy="757.75" r="9.48"/>
<circle class="b" cx="508.98" cy="324.79" r="9.48"/><circle class="bs" cx="508.98" cy="324.79" r="9.48"/>
<circle class="b" cx="316.84" cy="413.48" r="9.48"/><circle class="bs" cx="316.84" cy="413.48" r="9.48"/>
<circle class="b" cx="493.10" cy="564.05" r="9.48"/><circle class="bs" cx="493.10" cy="564.05" r="9.48"/>
<circle class="b" cx="403.48" cy="474.48" r="9.48"/><circle class="bs" cx="403.48" cy="474.48" r="9.48"/>
<circle class="b" cx="383.65" cy="490.78" r="9.48"/><circle class="bs" cx="383.65" cy="490.78" r="9.48"/>
<circle class="b" cx="350.51" cy="625.78" r="9.48"/><circle class="bs" cx="350.51" cy="625.78" r="9.48"/>
<circle class="b" cx="405.48" cy="555.17" r="9.48"/><circle class="bs" cx="405.48" cy="555.17" r="9.48"/>
<circle class="b" cx="475.15" cy="388.62" r="9.48"/><circle class="bs" cx="475.15" cy="388.62" r="9.48"/>
<circle class="b" cx="527.14" cy="580.22" r="9.48"/><circle class="bs" cx="527.14" cy="580.22" r="9.48"/>
<circle class="b" cx="436.87" cy="543.70" r="9.48"/><circle class="bs" cx="436.87" cy="543.70" r="9.48"/>
<circle class="b" cx="422.11" cy="543.13" r="9.48"/><circle class="bs" cx="422.11" cy="543.13" r="9.48"/>
<circle class="b" cx="413.10" cy="365.03" r="9.48"/><circle class="bs" cx="413.10" cy="365.03" r="9.48"/>
<circle class="b" cx="493.61" cy="493.08" r="9.48"/><circle class="bs" cx="493.61" cy="493.08" r="9.48"/>
<circle class="b" cx="351.91" cy="425.78" r="9.48"/><circle class="bs" cx="351.91" cy="425.78" r="9.48"/>
<circle class="b" cx="444.60" cy="406.17" r="9.48"/><circle class="bs" cx="444.60" cy="406.17" r="9.48"/>
<circle class="b" cx="498.33" cy="510.17" r="9.48"/><circle class="bs" cx="498.33" cy="510.17" r="9.48"/>
<circle class="b" cx="501.14" cy="577.76" r="9.48"/><circle class="bs" cx="501.14" cy="577.76" r="9.48"/>
<circle class="b" cx="456.24" cy="460.48" r="9.48"/><circle class="bs" cx="456.24" cy="460.48" r="9.48"/>
<circle class="b" cx="346.25" cy="508.22" r="9.48"/><circle class="bs" cx="346.25" cy="508.22" r="9.48"/>
<circle class="b" cx="370.02" cy="345.53" r="9.48"/><circle class="bs" cx="370.02" cy="345.53" r="9.48"/>
<circle class="b" cx="377.02" cy="522.80" r="9.48"/><circle class="bs" cx="377.02" cy="522.80" r="9.48"/>
<circle class="b" cx="326.69" cy="503.90" r="9.48"/><circle class="bs" cx="326.69" cy="503.90" r="9.48"/>
<circle class="b" cx="429.98" cy="414.18" r="9.48"/><circle class="bs" cx="429.98" cy="414.18" r="9.48"/>
<circle class="b" cx="512.35" cy="535.77" r="9.48"/><circle class="bs" cx="512.35" cy="535.77" r="9.48"/>
<circle class="b" cx="256.82" cy="477.46" r="9.48"/><circle class="bs" cx="256.82" cy="477.46" r="9.48"/>
<circle class="b" cx="480.00" cy="431.00" r="9.48"/><circle class="bs" cx="480.00" cy="431.00" r="9.48"/>
<circle class="b" cx="413.08" cy="512.35" r="9.48"/><circle class="bs" cx="413.08" cy="512.35" r="9.48"/>
<circle class="b" cx="373.64" cy="585.27" r="9.48"/><circle class="bs" cx="373.64" cy="585.27" r="9.48"/>
<circle class="b" cx="480.81" cy="447.60" r="9.48"/><circle class="bs" cx="480.81" cy="447.60" r="9.48"/>
<circle class="b" cx="472.34" cy="501.12" r="9.48"/><circle class="bs" cx="472.34" cy="501.12" r="9.48"/>
<circle class="b" cx="433.89" cy="658.26" r="9.48"/><circle class="bs" cx="433.89" cy="658.26" r="9.48"/>
<circle class="b" cx="363.15" cy="451.50" r="9.48"/><circle class="bs" cx="363.15" cy="451.50" r="9.48"/>
<circle class="b" cx="378.11" cy="463.94" r="9.48"/><circle class="bs" cx="378.11" cy="463.94" r="9.48"/>
<circle class="b" cx="314.58" cy="627.45" r="9.48"/><circle class="bs" cx="314.58" cy="627.45" r="9.48"/>
<circle class="b" cx="558.17" cy="523.33" r="9.48"/><circle class="bs" cx="558.17" cy="523.33" r="9.48"/>
<circle class="b" cx="416.36" cy="491.66" r="9.48"/><circle class="bs" cx="416.36" cy="491.66" r="9.48"/>
<circle class="b" cx="374.65" cy="526.11" r="9.48"/><circle class="bs" cx="374.65" cy="526.11" r="9.48"/>
<circle class="b" cx="276.72" cy="426.00" r="9.48"/><circle class="bs" cx="276.72" cy="426.00" r="9.48"/>
<circle class="b" cx="397.29" cy="618.18" r="9.48"/><circle class="bs" cx="397.29" cy="618.18" r="9.48"/>
<circle class="b" cx="388.96" cy="562.02" r="9.48"/><circle class="bs" cx="388.96" cy="562.02" r="9.48"/>
<circle class="b" cx="329.54" cy="516.47" r="9.48"/><circle class="bs" cx="329.54" cy="516.47" r="9.48"/>
<circle class="b" cx="593.20" cy="345.44" r="9.48"/><circle class="bs" cx="593.20" cy="345.44" r="9.48"/>
<circle class="b" cx="487.98" cy="489.86" r="9.48"/><circle class="bs" cx="487.98" cy="489.86" r="9.48"/>
<circle class="b" cx="320.26" cy="568.11" r="9.48"/><circle class="bs" cx="320.26" cy="568.11" r="9.48"/>
<circle class="b" cx="506.16" cy="336.90" r="9.48"/><circle class="bs" cx="506.16" cy="336.90" r="9.48"/>
<circle class="b" cx="499.95" cy="496.72" r="9.48"/><circle class="bs" cx="499.95" cy="496.72" r="9.48"/>
<circle class="b" cx="468.27" cy="426.00" r="9.48"/><circle class="bs" cx="468.27" cy="426.00" r="9.48"/>
<circle class="b" cx="454.99" cy="374.53" r="9.48"/><circle class="bs" cx="454.99" cy="374.53" r="9.48"/>
<circle class="b" cx="437.29" cy="438.86" r="9.48"/><circle class="bs" cx="437.29" cy="438.86" r="9.48"/>
<circle class="b" cx="470.31" cy="358.42" r="9.48"/><circle class="bs" cx="470.31" cy="358.42" r="9.48"/>
<circle class="b" cx="355.29" cy="547.27" r="9.48"/><circle class="bs" cx="355.29" cy="547.27" r="9.48"/>
<circle class="b" cx="381.98" cy="331.47" r="9.48"/><circle class="bs" cx="381.98" cy="331.47" r="9.48"/>
<circle class="b" cx="357.42" cy="640.47" r="9.48"/><circle class="bs" cx="357.42" cy="640.47" r="9.48"/>
<circle class="b" cx="415.64" cy="563.93" r="9.48"/><circle class="bs" cx="415.64" cy="563.93" r="9.48"/>
<circle class="b" cx="437.41" cy="528.81" r="9.48"/><circle class="bs" cx="437.41" cy="528.81" r="9.48"/>
<circle class="b" cx="469.12" cy="454.79" r="9.48"/><circle class="bs" cx="469.12" cy="454.79" r="9.48"/>
<circle class="b" cx="464.03" cy="518.60" r="9.48"/><circle class="bs" cx="464.03" cy="518.60" r="9.48"/>
<circle class="b" cx="527.86" cy="423.18" r="9.48"/><circle class="bs" cx="527.86" cy="423.18" r="9.48"/>
<circle class="b" cx="468.79" cy="437.91" r="9.48"/><circle class="bs" cx="468.79" cy="437.91" r="9.48"/>
<circle class="b" cx="514.68" cy="414.53" r="9.48"/><circle class="bs" cx="514.68" cy="414.53" r="9.48"/>
<circle class="b" cx="503.61" cy="341.96" r="9.48"/><circle class="bs" cx="503.61" cy="341.96" r="9.48"/>
<circle class="b" cx="386.22" cy="604.56" r="9.48"/><circle class="bs" cx="386.22" cy="604.56" r="9.48"/>
<circle class="b" cx="479.51" cy="388.24" r="9.48"/><circle class="bs" cx="479.51" cy="388.24" r="9.48"/>
<circle class="b" cx="458.77" cy="499.82" r="9.48"/><circle class="bs" cx="458.77" cy="499.82" r="9.48"/>
<circle class="b" cx="435.49" cy="548.37" r="9.48"/><circle class="bs" cx="435.49" cy="548.37" r="9.48"/>
<circle class="b" cx="364.29" cy="636.33" r="9.48"/><circle class="bs" cx="364.29" cy="636.33" r="9.48"/>
<circle class="b" cx="468.14" cy="552.52" r="9.48"/><circle class="bs" cx="468.14" cy="552.52" r="9.48"/>
<circle class="b" cx="431.63" cy="502.89" r="9.48"/><circle class="bs" cx="431.63" cy="502.89" r="9.48"/>
<circle class="b" cx="402.49" cy="651.07" r="9.48"/><circle class="bs" cx="402.49" cy="651.07" r="9.48"/>
<circle class="b" cx="491.43" cy="508.36" r="9.48"/><circle class="bs" cx="491.43" cy="508.36" r="9.48"/>
<circle class="b" cx="496.29" cy="429.77" r="9.48"/><circle class="bs" cx="496.29" cy="429.77" r="9.48"/>
<circle class="b" cx="488.02" cy="593.06" r="9.48"/><circle class="bs" cx="488.02" cy="593.06" r="9.48"/>
<circle class="b" cx="245.37" cy="476.28" r="9.48"/><circle class="bs" cx="245.37" cy="476.28" r="9.48"/>
<circle class="b" cx="364.71" cy="597.30" r="9.48"/><circle class="bs" cx="364.71" cy="597.30" r="9.48"/>
<circle class="b" cx="492.46" cy="480.51" r="9.48"/><circle class="bs" cx="492.46" cy="480.51" r="9.48"/>
<circle class="b" cx="375.29" cy="395.03" r="9.48"/><circle class="bs" cx="375.29" cy="395.03" r="9.48"/>
<circle class="b" cx="455.64" cy="672.71" r="9.48"/><circle class="bs" cx="455.64" cy="672.71" r="9.48"/>
<circle class="b" cx="439.93" cy="267.55" r="9.48"/><circle class="bs" cx="439.93" cy="267.55" r="9.48"/>
<circle class="b" cx="504.31" cy="581.30" r="9.48"/><circle class="bs" cx="504.31" cy="581.30" r="9.48"/>
<circle class="b" cx="377.73" cy="390.91" r="9.48"/><circle class="bs" cx="377.73" cy="390.91" r="9.48"/>
<circle class="b" cx="423.17" cy="288.08" r="9.48"/><circle class="bs" cx="423.17" cy="288.08" r="9.48"/>
<circle class="b" cx="451.21" cy="561.08" r="9.48"/><circle class="bs" cx="451.21" cy="561.08" r="9.48"/>
<circle class="b" cx="515.82" cy="536.84" r="9.48"/><circle class="bs" cx="515.82" cy="536.84" r="9.48"/>
<circle class="b" cx="414.84" cy="383.58" r="9.48"/><circle class="bs" cx="414.84" cy="383.58" r="9.48"/>
<circle class="b" cx="447.42" cy="549.67" r="9.48"/><circle class="bs" cx="447.42" cy="549.67" r="9.48"/>
<circle class="b" cx="333.69" cy="562.28" r="9.48"/><circle class="bs" cx="333.69" cy="562.28" r="9.48"/>
<circle class="b" cx="471.28" cy="333.05" r="9.48"/><circle class="bs" cx="471.28" cy="333.05" r="9.48"/>
<circle class="b" cx="441.60" cy="316.31" r="9.48"/><circle class="bs" cx="441.60" cy="316.31" r="9.48"/>
<circle class="b" cx="471.71" cy="496.35" r="9.48"/><circle class="bs" cx="471.71" cy="496.35" r="9.48"/>
<circle class="b" cx="398.60" cy="269.83" r="9.48"/><circle class="bs" cx="398.60" cy="269.83" r="9.48"/>
<circle class="b" cx="544.55" cy="303.91" r="9.48"/><circle class="bs" cx="544.55" cy="303.91" r="9.48"/>
<circle class="b" cx="417.46" cy="482.04" r="9.48"/><circle class="bs" cx="417.46" cy="482.04" r="9.48"/>
<circle class="b" cx="435.63" cy="549.34" r="9.48"/><circle class="bs" cx="435.63" cy="549.34" r="9.48"/>
<circle class="b" cx="419.84" cy="536.64" r="9.48"/><circle class="bs" cx="419.84" cy="536.64" r="9.48"/>
<circle class="b" cx="486.13" cy="349.22" r="9.48"/><circle class="bs" cx="486.13" cy="349.22" r="9.48"/>
<circle class="b" cx="373.68" cy="427.07" r="9.48"/><circle class="bs" cx="373.68" cy="427.07" r="9.48"/>
<circle class="b" cx="441.22" cy="417.84" r="9.48"/><circle class="bs" cx="441.22" cy="417.84" r="9.48"/>
<circle class="b" cx="467.20" cy="476.99" r="9.48"/><circle class="bs" cx="467.20" cy="476.99" r="9.48"/>
<circle class="b" cx="340.48" cy="459.33" r="9.48"/><circle class="bs" cx="340.48" cy="459.33" r="9.48"/>
<circle class="b" cx="443.05" cy="519.96" r="9.48"/><circle class="bs" cx="443.05" cy="519.96" r="9.48"/>
<circle class="b" cx="385.84" cy="373.32" r="9.48"/><circle class="bs" cx="385.84" cy="373.32" r="9.48"/>
<circle class="b" cx="526.69" cy="505.29" r="9.48"/><circle class="bs" cx="526.69" cy="505.29" r="9.48"/>
<circle class="b" cx="476.28" cy="295.96" r="9.48"/><circle class="bs" cx="476.28" cy="295.96" r="9.48"/>
<circle class="b" cx="307.06" cy="422.85" r="9.48"/><circle class="bs" cx="307.06" cy="422.85" r="9.48"/>
<circle class="b" cx="491.21" cy="386.59" r="9.48"/><circle class="bs" cx="491.21" cy="386.59" r="9.48"/>
<circle class="b" cx="442.36" cy="342.58" r="9.48"/><circle class="bs" cx="442.36" cy="342.58" r="9.48"/>
<circle class="b" cx="388.11" cy="480.08" r="9.48"/><circle class="bs" cx="388.11" cy="480.08" r="9.48"/>
<circle class="b" cx="402.43" cy="635.47" r="9.48"/><circle class="bs" cx="402.43" cy="635.47" r="9.48"/>
<circle class="b" cx="338.61" cy="530.90" r="9.48"/><circle class="bs" cx="338.61" cy="530.90" r="9.48"/>
<circle class="b" cx="454.09" cy="422.27" r="9.48"/><circle class="bs" cx="454.09" cy="422.27" r="9.48"/>
<circle class="b" cx="313.10" cy="367.16" r="9.48"/><circle class="bs" cx="313.10" cy="367.16" r="9.48"/>
<circle class="b" cx="417.43" cy="457.03" r="9.48"/><circle class="bs" cx="417.43" cy="457.03" r="9.48"/>
<circle class="b" cx="458.89" cy="400.06" r="9.48"/><circle class="bs" cx="458.89" cy="400.06" r="9.48"/>
<circle class="b" cx="433.00" cy="390.68" r="9.48"/><circle class="bs" cx="433.00" cy="390.68" r="9.48"/>
<circle class="b" cx="487.02" cy="383.00" r="9.48"/><circle class="bs" cx="487.02" cy="383.00" r="9.48"/>
<circle class="b" cx="430.71" cy="408.33" r="9.48"/><circle class="bs" cx="430.71" cy="408.33" r="9.48"/>
<circle class="b" cx="587.98" cy="493.13" r="9.48"/><circle class="bs" cx="587.98" cy="493.13" r="9.48"/>
<circle class="b" cx="367.35" cy="383.30" r="9.48"/><circle class="bs" cx="367.35" cy="383.30" r="9.48"/>
<circle class="b" cx="534.37" cy="521.38" r="9.48"/><circle class="bs" cx="534.37" cy="521.38" r="9.48"/>
<circle class="b" cx="314.77" cy="444.36" r="9.48"/><circle class="bs" cx="314.77" cy="444.36" r="9.48"/>
<circle class="b" cx="352.18" cy="521.84" r="9.48"/><circle class="bs" cx="352.18" cy="521.84" r="9.48"/>
<circle class="b" cx="364.43" cy="432.69" r="9.48"/><circle class="bs" cx="364.43" cy="432.69" r="9.48"/>
<circle class="b" cx="321.27" cy="430.60" r="9.48"/><circle class="bs" cx="321.27" cy="430.60" r="9.48"/>
<circle class="b" cx="530.58" cy="485.38" r="9.48"/><circle class="bs" cx="530.58" cy="485.38" r="9.48"/>
<circle class="b" cx="499.18" cy="473.38" r="9.48"/><circle class="bs" cx="499.18" cy="473.38" r="9.48"/>
<circle class="b" cx="522.68" cy="436.67" r="9.48"/><circle class="bs" cx="522.68" cy="436.67" r="9.48"/>
<circle class="b" cx="384.79" cy="577.99" r="9.48"/><circle class="bs" cx="384.79" cy="577.99" r="9.48"/>
<circle class="b" cx="433.15" cy="383.66" r="9.48"/><circle class="bs" cx="433.15" cy="383.66" r="9.48"/>
<circle class="b" cx="505.08" cy="451.52" r="9.48"/><circle class="bs" cx="505.08" cy="451.52" r="9.48"/>
<circle class="b" cx="501.04" cy="426.30" r="9.48"/><circle class="bs" cx="501.04" cy="426.30" r="9.48"/>
<circle class="b" cx="466.20" cy="491.14" r="9.48"/><circle class="bs" cx="466.20" cy="491.14" r="9.48"/>
<circle class="b" cx="438.21" cy="645.48" r="9.48"/><circle class="bs" cx="438.21" cy="645.48" r="9.48"/>
<circle class="b" cx="346.13" cy="408.26" r="9.48"/><circle class="bs" cx="346.13" cy="408.26" r="9.48"/>
<circle class="b" cx="448.76" cy="499.33" r="9.48"/><circle class="bs" cx="448.76" cy="499.33" r="9.48"/>
<circle class="b" cx="414.76" cy="420.01" r="9.48"/><circle class="bs" cx="414.76" cy="420.01" r="9.48"/>
<circle class="b" cx="381.62" cy="290.89" r="9.48"/><circle class="bs" cx="381.62" cy="290.89" r="9.48"/>
<circle class="b" cx="536.95" cy="580.21" r="9.48"/><circle class="bs" cx="536.95" cy="580.21" r="9.48"/>
<circle class="b" cx="378.35" cy="353.66" r="9.48"/><circle class="bs" cx="378.35" cy="353.66" r="9.48"/>
<circle class="b" cx="444.11" cy="509.03" r="9.48"/><circle class="bs" cx="444.11" cy="509.03" r="9.48"/>
<circle class="b" cx="463.13" cy="481.11" r="9.48"/><circle class="bs" cx="463.13" cy="481.11" r="9.48"/>
<circle class="b" cx="500.39" cy="523.91" r="9.48"/><circle class="bs" cx="500.39" cy="523.91" r="9.48"/>
<circle class="b" cx="452.77" cy="520.86" r="9.48"/><circle class="bs" cx="452.77" cy="520.86" r="9.48"/>
<circle class="b" cx="564.60" cy="579.71" r="9.48"/><circle class="bs" cx="564.60" cy="579.71" r="9.48"/>
<circle class="b" cx="458.19" cy="464.44" r="9.48"/><circle class="bs" cx="458.19" cy="464.44" r="9.48"/>
<circle class="b" cx="393.18" cy="433.14" r="9.48"/><circle class="bs" cx="393.18" cy="433.14" r="9.48"/>
<circle class="b" cx="434.33" cy="492.69" r="9.48"/><circle class="bs" cx="434.33" cy="492.69" r="9.48"/>
<circle class="b" cx="473.79" cy="622.08" r="9.48"/><circle class="bs" cx="473.79" cy="622.08" r="9.48"/>
<circle class="b" cx="274.66" cy="512.22" r="9.48"/><circle class="bs" cx="274.66" cy="512.22" r="9.48"/>
<circle class="b" cx="420.54" cy="438.56" r="9.48"/><circle class="bs" cx="420.54" cy="438.56" r="9.48"/>
<circle class="b" cx="430.09" cy="540.93" r="9.48"/><circle class="bs" cx="430.09" cy="540.93" r="9.48"/>
<circle class="b" cx="410.58" cy="529.13" r="9.48"/><circle class="bs" cx="410.58" cy="529.13" r="9.48"/>
<circle class="b" cx="430.77" cy="581.47" r="9.48"/><circle class="bs" cx="430.77" cy="581.47" r="9.48"/>
<circle class="b" cx="288.50" cy="422.43" r="9.48"/><circle class="bs" cx="288.50" cy="422.43" r="9.48"/>
<circle class="b" cx="451.30" cy="536.23" r="9.48"/><circle class="bs" cx="451.30" cy="536.23" r="9.48"/>
<circle class="b" cx="427.41" cy="189.75" r="9.48"/><circle class="bs" cx="427.41" cy="189.75" r="9.48"/>
<circle class="b" cx="392.90" cy="384.35" r="9.48"/><circle class="bs" cx="392.90" cy="384.35" r="9.48"/>
<circle class="b" cx="227.73" cy="490.83" r="9.48"/><circle class="bs" cx="227.73" cy="490.83" r="9.48"/>
<circle class="b" cx="398.56" cy="475.62" r="9.48"/><circle class="bs" cx="398.56" cy="475.62" r="9.48"/>
<circle class="b" cx="435.43" cy="540.62" r="9.48"/><circle class="bs" cx="435.43" cy="540.62" r="9.48"/>
<circle class="b" cx="422.24" cy="450.43" r="9.48"/><circle class="bs" cx="422.24" cy="450.43" r="9.48"/>
<circle class="b" cx="384.81" cy="475.18" r="9.48"/><circle class="bs" cx="384.81" cy="475.18" r="9.48"/>
<circle class="b" cx="449.59" cy="632.05" r="9.48"/><circle class="bs" cx="449.59" cy="632.05" r="9.48"/>
<circle class="b" cx="363.79" cy="642.33" r="9.48"/><circle class="bs" cx="363.79" cy="642.33" r="9.48"/>
<circle class="b" cx="475.89" cy="421.55" r="9.48"/><circle class="bs" cx="475.89" cy="421.55" r="9.48"/>
<circle class="b" cx="484.69" cy="685.18" r="9.48"/><circle class="bs" cx="484.69" cy="685.18" r="9.48"/>
<circle class="b" cx="493.87" cy="510.19" r="9.48"/><circle class="bs" cx="493.87" cy="510.19" r="9.48"/>
<circle class="b" cx="482.82" cy="326.36" r="9.48"/><circle class="bs" cx="482.82" cy="326.36" r="9.48"/>
<circle class="b" cx="402.67" cy="626.01" r="9.48"/><circle class="bs" cx="402.67" cy="626.01" r="9.48"/>
<circle class="b" cx="425.46" cy="449.23" r="9.48"/><circle class="bs" cx="425.46" cy="449.23" r="9.48"/>
<circle class="b" cx="513.89" cy="334.06" r="9.48"/><circle class="bs" cx="513.89" cy="334.06" r="9.48"/>
<circle class="b" cx="469.74" cy="429.61" r="9.48"/><circle class="bs" cx="469.74" cy="429.61" r="9.48"/>
<circle class="b" cx="451.35" cy="359.71" r="9.48"/><circle class="bs" cx="451.35" cy="359.71" r="9.48"/>
<circle class="b" cx="516.27" cy="563.22" r="9.48"/><circle class="bs" cx="516.27" cy="563.22" r="9.48"/>
<circle class="b" cx="383.54" cy="418.73" r="9.48"/><circle class="bs" cx="383.54" cy="418.73" r="9.48"/>
<circle class="b" cx="428.95" cy="459.31" r="9.48"/><circle class="bs" cx="428.95" cy="459.31" r="9.48"/>
<circle class="b" cx="517.82" cy="353.91" r="9.48"/><circle class="bs" cx="517.82" cy="353.91" r="9.48"/>
<circle class="b" cx="409.80" cy="251.21" r="9.48"/><circle class="bs" cx="409.80" cy="251.21" r="9.48"/>
<circle class="b" cx="436.59" cy="465.49" r="9.48"/><circle class="bs" cx="436.59" cy="465.49" r="9.48"/>
<circle class="b" cx="416.98" cy="376.89" r="9.48"/><circle class="bs" cx="416.98" cy="376.89" r="9.48"/>
<circle class="b" cx="513.12" cy="512.21" r="9.48"/><circle class="bs" cx="513.12" cy="512.21" r="9.48"/>
<circle class="b" cx="436.62" cy="508.27" r="9.48"/><circle class="bs" cx="436.62" cy="508.27" r="9.48"/>
<circle class="b" cx="431.88" cy="525.76" r="9.48"/><circle class="bs" cx="431.88" cy="525.76" r="9.48"/>
<circle class="b" cx="379.76" cy="598.18" r="9.48"/><circle class="bs" cx="379.76" cy="598.18" r="9.48"/>
<circle class="b" cx="398.05" cy="469.22" r="9.48"/><circle class="bs" cx="398.05" cy="469.22" r="9.48"/>
<circle class="b" cx="317.92" cy="479.36" r="9.48"/><circle class="bs" cx="317.92" cy="479.36" r="9.48"/>
<circle class="b" cx="455.72" cy="410.65" r="9.48"/><circle class="bs" cx="455.72" cy="410.65" r="9.48"/>
<circle class="b" cx="486.23" cy="495.25" r="9.48"/><circle class="bs" cx="486.23" cy="495.25" r="9.48"/>
<circle class="b" cx="334.07" cy="558.53" r="9.48"/><circle class="bs" cx="334.07" cy="558.53" r="9.48"/>
<circle class="b" cx="455.14" cy="487.44" r="9.48"/><circle class="bs" cx="455.14" cy="487.44" r="9.48"/>
<circle class="b" cx="450.10" cy="309.65" r="9.48"/><circle class="bs" cx="450.10" cy="309.65" r="9.48"/>
<circle class="b" cx="440.80" cy="435.15" r="9.48"/><circle class="bs" cx="440.80" cy="435.15" r="9.48"/>
<circle class="b" cx="432.17" cy="451.03" r="9.48"/><circle class="bs" cx="432.17" cy="451.03" r="9.48"/>
<circle class="b" cx="541.04" cy="380.44" r="9.48"/><circle class="bs" cx="541.04" cy="380.44" r="9.48"/>
<circle class="b" cx="450.38" cy="314.00" r="9.48"/><circle class="bs" cx="450.38" cy="314.00" r="9.48"/>
<circle class="b" cx="524.81" cy="321.34" r="9.48"/><circle class="bs" cx="524.81" cy="321.34" r="9.48"/>
<circle class="b" cx="458.60" cy="514.80" r="9.48"/><circle class="bs" cx="458.60" cy="514.80" r="9.48"/>
<circle class="b" cx="461.13" cy="483.00" r="9.48"/><circle class="bs" cx="461.13" cy="483.00" r="9.48"/>
<circle class="b" cx="389.61" cy="508.65" r="9.48"/><circle class="bs" cx="389.61" cy="508.65" r="9.48"/>
<circle class="b" cx="614.58" cy="493.99" r="9.48"/><circle class="bs" cx="614.58" cy="493.99" r="9.48"/>
<circle class="b" cx="423.03" cy="435.09" r="9.48"/><circle class="bs" cx="423.03" cy="435.09" r="9.48"/>
<circle class="b" cx="392.55" cy="519.19" r="9.48"/><circle class="bs" cx="392.55" cy="519.19" r="9.48"/>
<circle class="b" cx="453.82" cy="581.10" r="9.48"/><circle class="bs" cx="453.82" cy="581.10" r="9.48"/>
<circle class="b" cx="455.69" cy="497.42" r="9.48"/><circle class="bs" cx="455.69" cy="497.42" r="9.48"/>
<circle class="b" cx="477.59" cy="344.91" r="9.48"/><circle class="bs" cx="477.59" cy="344.91" r="9.48"/>
<circle class="b" cx="363.48" cy="308.51" r="9.48"/><circle class="bs" cx="363.48" cy="308.51" r="9.48"/>
<circle class="b" cx="417.64" cy="512.26" r="9.48"/><circle class="bs" cx="417.64" cy="512.26" r="9.48"/>
<circle class="b" cx="536.82" cy="401.16" r="9.48"/><circle class="bs" cx="536.82" cy="401.16" r="9.48"/>
<circle class="b" cx="393.57" cy="487.50" r="9.48"/><circle class="bs" cx="393.57" cy="487.50" r="9.48"/>
<circle class="b" cx="402.39" cy="486.82" r="9.48"/><circle class="bs" cx="402.39" cy="486.82" r="9.48"/>
<circle class="b" cx="469.69" cy="536.74" r="9.48"/><circle class="bs" cx="469.69" cy="536.74" r="9.48"/>
<circle class="b" cx="384.99" cy="618.39" r="9.48"/><circle class="bs" cx="384.99" cy="618.39" r="9.48"/>
<circle class="b" cx="506.20" cy="313.10" r="9.48"/><circle class="bs" cx="506.20" cy="313.10" r="9.48"/>
<circle class="b" cx="456.61" cy="403.49" r="9.48"/><circle class="bs" cx="456.61" cy="403.49" r="9.48"/>
<circle class="b" cx="433.43" cy="637.70" r="9.48"/><circle class="bs" cx="433.43" cy="637.70" r="9.48"/>
<circle class="b" cx="316.36" cy="507.22" r="9.48"/><circle class="bs" cx="316.36" cy="507.22" r="9.48"/>
<circle class="b" cx="403.02" cy="335.47" r="9.48"/><circle class="bs" cx="403.02" cy="335.47" r="9.48"/>
<circle class="b" cx="568.85" cy="466.22" r="9.48"/><circle class="bs" cx="568.85" cy="466.22" r="9.48"/>
<circle class="b" cx="407.29" cy="458.46" r="9.48"/><circle class="bs" cx="407.29" cy="458.46" r="9.48"/>
<circle class="b" cx="472.76" cy="399.15" r="9.48"/><circle class="bs" cx="472.76" cy="399.15" r="9.48"/>
<circle class="b" cx="362.80" cy="386.39" r="9.48"/><circle class="bs" cx="362.80" cy="386.39" r="9.48"/>
<circle class="b" cx="316.43" cy="419.17" r="9.48"/><circle class="bs" cx="316.43" cy="419.17" r="9.48"/>
<circle class="b" cx="476.59" cy="438.34" r="9.48"/><circle class="bs" cx="476.59" cy="438.34" r="9.48"/>
<circle class="b" cx="528.12" cy="342.64" r="9.48"/><circle class="bs" cx="528.12" cy="342.64" r="9.48"/>
<circle class="b" cx="319.65" cy="321.46" r="9.48"/><circle class="bs" cx="319.65" cy="321.46" r="9.48"/>
<circle class="b" cx="486.11" cy="455.22" r="9.48"/><circle class="bs" cx="486.11" cy="455.22" r="9.48"/>
<circle class="b" cx="450.24" cy="494.64" r="9.48"/><circle class="bs" cx="450.24" cy="494.64" r="9.48"/>
<circle class="b" cx="401.69" cy="474.75" r="9.48"/><circle class="bs" cx="401.69" cy="474.75" r="9.48"/>
<circle class="b" cx="549.01" cy="444.26" r="9.48"/><circle class="bs" cx="549.01" cy="444.26" r="9.48"/>
<circle class="b" cx="357.20" cy="537.04" r="9.48"/><circle class="bs" cx="357.20" cy="537.04" r="9.48"/>
<circle class="b" cx="419.02" cy="417.85" r="9.48"/><circle class="bs" cx="419.02" cy="417.85" r="9.48"/>
<circle class="b" cx="473.75" cy="592.29" r="9.48"/><circle class="bs" cx="473.75" cy="592.29" r="9.48"/>
<circle class="b" cx="351.82" cy="274.81" r="9.48"/><circle class="bs" cx="351.82" cy="274.81" r="9.48"/>
<circle class="b" cx="504.21" cy="700.12" r="9.48"/><circle class="bs" cx="504.21" cy="700.12" r="9.48"/>
<circle class="b" cx="419.25" cy="460.23" r="9.48"/><circle class="bs" cx="419.25" cy="460.23" r="9.48"/>
<circle class="b" cx="512.79" cy="481.16" r="9.48"/><circle class="bs" cx="512.79" cy="481.16" r="9.48"/>
<circle class="b" cx="425.57" cy="426.40" r="9.48"/><circle class="bs" cx="425.57" cy="426.40" r="9.48"/>
<circle class="b" cx="376.01" cy="512.91" r="9.48"/><circle class="bs" cx="376.01" cy="512.91" r="9.48"/>
<circle class="b" cx="333.85" cy="258.88" r="9.48"/><circle class="bs" cx="333.85" cy="258.88" r="9.48"/>
<circle class="b" cx="331.58" cy="488.87" r="9.48"/><circle class="bs" cx="331.58" cy="488.87" r="9.48"/>
<circle class="b" cx="416.81" cy="473.73" r="9.48"/><circle class="bs" cx="416.81" cy="473.73" r="9.48"/>
<circle class="b" cx="287.49" cy="374.32" r="9.48"/><circle class="bs" cx="287.49" cy="374.32" r="9.48"/>
<circle class="b" cx="318.59" cy="412.83" r="9.48"/><circle class="bs" cx="318.59" cy="412.83" r="9.48"/>
<circle class="b" cx="563.87" cy="459.50" r="9.48"/><circle class="bs" cx="563.87" cy="459.50" r="9.48"/>
<circle class="b" cx="414.78" cy="491.16" r="9.48"/><circle class="bs" cx="414.78" cy="491.16" r="9.48"/>
<circle class="b" cx="521.73" cy="497.02" r="9.48"/><circle class="bs" cx="521.73" cy="497.02" r="9.48"/>
<circle class="b" cx="542.02" cy="598.21" r="9.48"/><circle class="bs" cx="542.02" cy="598.21" r="9.48"/>
<circle class="b" cx="435.51" cy="418.95" r="9.48"/><circle class="bs" cx="435.51" cy="418.95" r="9.48"/>
<circle class="b" cx="427.45" cy="435.45" r="9.48"/><circle class="bs" cx="427.45" cy="435.45" r="9.48"/>
<circle class="b" cx="440.87" cy="570.13" r="9.48"/><circle class="bs" cx="440.87" cy="570.13" r="9.48"/>
<circle class="b" cx="474.53" cy="492.76" r="9.48"/><circle class="bs" cx="474.53" cy="492.76" r="9.48"/>
<circle class="b" cx="482.98" cy="359.59" r="9.48"/><circle class="bs" cx="482.98" cy="359.59" r="9.48"/>
<circle class="b" cx="286.87" cy="360.78" r="9.48"/><circle class="bs" cx="286.87" cy="360.78" r="9.48"/>
<circle class="b" cx="430.49" cy="586.13" r="9.48"/><circle class="bs" cx="430.49" cy="586.13" r="9.48"/>
<circle class="b" cx="469.89" cy="403.41" r="9.48"/><circle class="bs" cx="469.89" cy="403.41" r="9.48"/>
<circle class="b" cx="415.35" cy="464.39" r="9.48"/><circle class="bs" cx="415.35" cy="464.39" r="9.48"/>
<circle class="b" cx="442.91" cy="440.76" r="9.48"/><circle class="bs" cx="442.91" cy="440.76" r="9.48"/>
<circle class="b" cx="489.34" cy="554.61" r="9.48"/><circle class="bs" cx="489.34" cy="554.61" r="9.48"/>
<circle class="b" cx="416.92" cy="494.54" r="9.48"/><circle class="bs" cx="416.92" cy="494.54" r="9.48"/>
<circle class="b" cx="534.24" cy="661.74" r="9.48"/><circle class="bs" cx="534.24" cy="661.74" r="9.48"/>
<circle class="b" cx="458.71" cy="542.59" r="9.48"/><circle class="bs" cx="458.71" cy="542.59" r="9.48"/>
<circle class="b" cx="316.08" cy="503.53" r="9.48"/><circle class="bs" cx="316.08" cy="503.53" r="9.48"/>
<circle class="b" cx="414.16" cy="358.13" r="9.48"/><circle class="bs" cx="414.16" cy="358.13" r="9.48"/>
<circle class="b" cx="466.72" cy="571.45" r="9.48"/><circle class="bs" cx="466.72" cy="571.45" r="9.48"/>
<circle class="b" cx="438.52" cy="448.59" r="9.48"/><circle class="bs" cx="438.52" cy="448.59" r="9.48"/>
<circle class="b" cx="331.66" cy="467.72" r="9.48"/><circle class="bs" cx="331.66" cy="467.72" r="9.48"/>
<circle class="b" cx="296.01" cy="598.97" r="9.48"/><circle class="bs" cx="296.01" cy="598.97" r="9.48"/>
<circle class="b" cx="422.46" cy="450.33" r="9.48"/><circle class="bs" cx="422.46" cy="450.33" r="9.48"/>
<circle class="b" cx="475.05" cy="333.09" r="9.48"/><circle class="bs" cx="475.05" cy="333.09" r="9.48"/>
<circle class="b" cx="377.89" cy="390.95" r="9.48"/><circle class="bs" cx="377.89" cy="390.95" r="9.48"/>
<circle class="b" cx="453.49" cy="373.66" r="9.48"/><circle class="bs" cx="453.49" cy="373.66" r="9.48"/>
<circle class="b" cx="467.64" cy="495.14" r="9.48"/><circle class="bs" cx="467.64" cy="495.14" r="9.48"/>
<circle class="b" cx="495.06" cy="389.34" r="9.48"/><circle class="bs" cx="495.06" cy="389.34" r="9.48"/>
<circle class="b" cx="468.10" cy="689.95" r="9.48"/><circle class="bs" cx="468.10" cy="689.95" r="9.48"/>
<circle class="b" cx="444.27" cy="589.02" r="9.48"/><circle class="bs" cx="444.27" cy="589.02" r="9.48"/>
<circle class="b" cx="318.15" cy="491.63" r="9.48"/><circle class="bs" cx="318.15" cy="491.63" r="9.48"/>
<circle class="b" cx="391.81" cy="466.04" r="9.48"/><circle class="bs" cx="391.81" cy="466.04" r="9.48"/>
<circle class="b" cx="486.96" cy="429.16" r="9.48"/><circle class="bs" cx="486.96" cy="429.16" r="9.48"/>
<circle class="b" cx="458.66" cy="410.67" r="9.48"/><circle class="bs" cx="458.66" cy="410.67" r="9.48"/>
<circle class="b" cx="364.67" cy="517.38" r="9.48"/><circle class="bs" cx="364.67" cy="517.38" r="9.48"/>
<circle class="b" cx="449.41" cy="519.34" r="9.48"/><circle class="bs" cx="449.41" cy="519.34" r="9.48"/>
<circle class="b" cx="420.65" cy="507.39" r="9.48"/><circle class="bs" cx="420.65" cy="507.39" r="9.48"/>
<circle class="b" cx="515.23" cy="526.58" r="9.48"/><circle class="bs" cx="515.23" cy="526.58" r="9.48"/>
<circle class="b" cx="424.83" cy="487.10" r="9.48"/><circle class="bs" cx="424.83" cy="487.10" r="9.48"/>
<circle class="b" cx="400.16" cy="396.59" r="9.48"/><circle class="bs" cx="400.16" cy="396.59" r="9.48"/>
<circle class="b" cx="409.06" cy="434.00" r="9.48"/><circle class="bs" cx="409.06" cy="434.00" r="9.48"/>
<circle class="b" cx="366.09" cy="515.52" r="9.48"/><circle class="bs" cx="366.09" cy="515.52" r="9.48"/>
<circle class="b" cx="517.21" cy="538.37" r="9.48"/><circle class="bs" cx="517.21" cy="538.37" r="9.48"/>
<circle class="b" cx="438.70" cy="485.28" r="9.48"/><circle class="bs" cx="438.70" cy="485.28" r="9.48"/>
<circle class="b" cx="385.19" cy="494.63" r="9.48"/><circle class="bs" cx="385.19" cy="494.63" r="9.48"/>
<circle class="b" cx="454.95" cy="365.73" r="9.48"/><circle class="bs" cx="454.95" cy="365.73" r="9.48"/>
<circle class="b" cx="487.01" cy="680.89" r="9.48"/><circle class="bs" cx="487.01" cy="680.89" r="9.48"/>
<circle class="b" cx="397.81" cy="563.75" r="9.48"/><circle class="bs" cx="397.81" cy="563.75" r="9.48"/>
<circle class="b" cx="405.92" cy="419.74" r="9.48"/><circle class="bs" cx="405.92" cy="419.74" r="9.48"/>
<circle class="b" cx="423.07" cy="416.01" r="9.48"/><circle class="bs" cx="423.07" cy="416.01" r="9.48"/>
<circle class="b" cx="287.79" cy="534.63" r="9.48"/><circle class="bs" cx="287.79" cy="534.63" r="9.48"/>
<circle class="b" cx="438.02" cy="494.69" r="9.48"/><circle class="bs" cx="438.02" cy="494.69" r="9.48"/>
<circle class="b" cx="430.16" cy="313.56" r="9.48"/><circle class="bs" cx="430.16" cy="313.56" r="9.48"/>
<circle class="b" cx="408.95" cy="575.07" r="9.48"/><circle class="bs" cx="408.95" cy="575.07" r="9.48"/>
<circle class="b" cx="356.08" cy="315.29" r="9.48"/><circle class="bs" cx="356.08" cy="315.29" r="9.48"/>
<circle class="b" cx="501.38" cy="447.22" r="9.48"/><circle class="bs" cx="501.38" cy="447.22" r="9.48"/>
<circle class="b" cx="395.33" cy="381.05" r="9.48"/><circle class="bs" cx="395.33" cy="381.05" r="9.48"/>
<circle class="b" cx="436.62" cy="523.37" r="9.48"/><circle class="bs" cx="436.62" cy="523.37" r="9.48"/>
<circle class="b" cx="574.32" cy="577.01" r="9.48"/><circle class="bs" cx="574.32" cy="577.01" r="9.48"/>
<circle class="b" cx="385.98" cy="439.88" r="9.48"/><circle class="bs" cx="385.98" cy="439.88" r="9.48"/>
<circle class="b" cx="380.63" cy="437.79" r="9.48"/><circle class="bs" cx="380.63" cy="437.79" r="9.48"/>
<circle class="b" cx="437.91" cy="514.24" r="9.48"/><circle class="bs" cx="437.91" cy="514.24" r="9.48"/>
<circle class="b" cx="407.32" cy="555.04" r="9.48"/><circle class="bs" cx="407.32" cy="555.04" r="9.48"/>
<circle class="b" cx="392.89" cy="358.44" r="9.48"/><circle class="bs" cx="392.89" cy="358.44" r="9.48"/>
<circle class="b" cx="455.73" cy="596.57" r="9.48"/><circle class="bs" cx="455.73" cy="596.57" r="9.48"/>
<circle class="b" cx="443.17" cy="346.77" r="9.48"/><circle class="bs" cx="443.17" cy="346.77" r="9.48"/>
<circle class="b" cx="352.36" cy="529.55" r="9.48"/><circle class="bs" cx="352.36" cy="529.55" r="9.48"/>
<circle class="b" cx="331.05" cy="645.87" r="9.48"/><circle class="bs" cx="331.05" cy="645.87" r="9.48"/>
<circle class="b" cx="468.85" cy="278.94" r="9.48"/><circle class="bs" cx="468.85" cy="278.94" r="9.48"/>
<circle class="b" cx="368.74" cy="441.63" r="9.48"/><circle class="bs" cx="368.74" cy="441.63" r="9.48"/>
<circle class="b" cx="360.66" cy="572.41" r="9.48"/><circle class="bs" cx="360.66" cy="572.41" r="9.48"/>
<circle class="b" cx="513.28" cy="509.72" r="9.48"/><circle class="bs" cx="513.28" cy="509.72" r="9.48"/>
<circle class="b" cx="432.49" cy="547.62" r="9.48"/><circle class="bs" cx="432.49" cy="547.62" r="9.48"/>
<circle class="b" cx="389.62" cy="447.38" r="9.48"/><circle class="bs" cx="389.62" cy="447.38" r="9.48"/>
<circle class="b" cx="481.06" cy="463.75" r="9.48"/><circle class="bs" cx="481.06" cy="463.75" r="9.48"/>
<circle class="b" cx="518.02" cy="587.88" r="9.48"/><circle class="bs" cx="518.02" cy="587.88" r="9.48"/>
<circle class="b" cx="495.79" cy="452.68" r="9.48"/><circle class="bs" cx="495.79" cy="452.68" r="9.48"/>
<circle class="b" cx="356.74" cy="536.72" r="9.48"/><circle class="bs" cx="356.74" cy="536.72" r="9.48"/>
<circle class="b" cx="384.99" cy="418.66" r="9.48"/><circle class="bs" cx="384.99" cy="418.66" r="9.48"/>
<circle class="b" cx="449.25" cy="421.44" r="9.48"/><circle class="bs" cx="449.25" cy="421.44" r="9.48"/>
<circle class="b" cx="332.16" cy="478.92" r="9.48"/><circle class="bs" cx="332.16" cy="478.92" r="9.48"/>
<circle class="b" cx="400.60" cy="547.16" r="9.48"/><circle class="bs" cx="400.60" cy="547.16" r="9.48"/>
<circle class="b" cx="426.20" cy="518.33" r="9.48"/><circle class="bs" cx="426.20" cy="518.33" r="9.48"/>
<circle class="b" cx="422.64" cy="567.31" r="9.48"/><circle class="bs" cx="422.64" cy="567.31" r="9.48"/>
<circle class="b" cx="442.75" cy="400.56" r="9.48"/><circle class="bs" cx="442.75" cy="400.56" r="9.48"/>
<circle class="b" cx="439.95" cy="353.56" r="9.48"/><circle class="bs" cx="439.95" cy="353.56" r="9.48"/>
<circle class="b" cx="489.22" cy="471.32" r="9.48"/><circle class="bs" cx="489.22" cy="471.32" r="9.48"/>
<circle class="b" cx="423.50" cy="445.42" r="9.48"/><circle class="bs" cx="423.50" cy="445.42" r="9.48"/>
<circle class="b" cx="369.41" cy="494.72" r="9.48"/><circle class="bs" cx="369.41" cy="494.72" r="9.48"/>
<circle class="b" cx="418.77" cy="456.11" r="9.48"/><circle class="bs" cx="418.77" cy="456.11" r="9.48"/>
<circle class="b" cx="412.59" cy="306.65" r="9.48"/><circle class="bs" cx="412.59" cy="306.65" r="9.48"/>
<circle class="b" cx="429.95" cy="452.21" r="9.48"/><circle class="bs" cx="429.95" cy="452.21" r="9.48"/>
<circle class="b" cx="530.32" cy="355.31" r="9.48"/><circle class="bs" cx="530.32" cy="355.31" r="9.48"/>
<circle class="b" cx="466.65" cy="453.47" r="9.48"/><circle class="bs" cx="466.65" cy="453.47" r="9.48"/>
<circle class="b" cx="551.81" cy="600.09" r="9.48"/><circle class="bs" cx="551.81" cy="600.09" r="9.48"/>
<circle class="b" cx="504.77" cy="583.36" r="9.48"/><circle class="bs" cx="504.77" cy="583.36" r="9.48"/>
</g>
<rect class="bord" x="97.11" y="158.51" width="541.43" height="701.38"/>
<path class="axl" d="M96.40 157.80V860.60"/>
<path class="axl" d="M96.40 860.60H639.25"/>
<path class="tick" d="M218.29 860.60v7.3"/>
<text class="tl" text-anchor="middle" x="218.29" y="891.9">-2</text>
<path class="tick" d="M357.56 860.60v7.3"/>
<text class="tl" text-anchor="middle" x="357.56" y="891.9">0</text>
<path class="tick" d="M496.83 860.60v7.3"/>
<text class="tl" text-anchor="middle" x="496.83" y="891.9">2</text>
<path class="tick" d="M636.10 860.60v7.3"/>
<text class="tl" text-anchor="middle" x="636.10" y="891.9">4</text>
<path class="tick" d="M96.40 837.08h-7.3"/>
<text class="tl" text-anchor="end" x="82.8" y="845.48">-2</text>
<path class="tick" d="M96.40 656.46h-7.3"/>
<text class="tl" text-anchor="end" x="82.8" y="664.86">0</text>
<path class="tick" d="M96.40 475.84h-7.3"/>
<text class="tl" text-anchor="end" x="82.8" y="484.24">2</text>
<path class="tick" d="M96.40 295.22h-7.3"/>
<text class="tl" text-anchor="end" x="82.8" y="303.62">4</text>
<rect x="654.30" y="102.20" width="542.85" height="55.60" fill="#E5E5E5"/>
<text class="st" x="925.73" y="138.6">draw b then a</text>
<g class="pts" filter="url(#lut2)">
<rect x="654.30" y="157.80" width="542.85" height="702.80" fill="#fff"/>
<circle class="b" cx="901.16" cy="313.82" r="9.48"/><circle class="bs" cx="901.16" cy="313.82" r="9.48"/>
<circle class="b" cx="1006.09" cy="599.07" r="9.48"/><circle class="bs" cx="1006.09" cy="599.07" r="9.48"/>
<circle class="b" cx="877.92" cy="539.73" r="9.48"/><circle class="bs" cx="877.92" cy="539.73" r="9.48"/>
<circle class="b" cx="1029.34" cy="526.08" r="9.48"/><circle class="bs" cx="1029.34" cy="526.08" r="9.48"/>
<circle class="b" cx="1034.04" cy="503.85" r="9.48"/><circle class="bs" cx="1034.04" cy="503.85" r="9.48"/>
<circle class="b" cx="852.38" cy="509.82" r="9.48"/><circle class="bs" cx="852.38" cy="509.82" r="9.48"/>
<circle class="b" cx="1050.48" cy="434.43" r="9.48"/><circle class="bs" cx="1050.48" cy="434.43" r="9.48"/>
<circle class="b" cx="969.46" cy="589.74" r="9.48"/><circle class="bs" cx="969.46" cy="589.74" r="9.48"/>
<circle class="b" cx="938.17" cy="523.48" r="9.48"/><circle class="bs" cx="938.17" cy="523.48" r="9.48"/>
<circle class="b" cx="1016.14" cy="526.13" r="9.48"/><circle class="bs" cx="1016.14" cy="526.13" r="9.48"/>
<circle class="b" cx="1074.27" cy="509.66" r="9.48"/><circle class="bs" cx="1074.27" cy="509.66" r="9.48"/>
<circle class="b" cx="1094.08" cy="530.43" r="9.48"/><circle class="bs" cx="1094.08" cy="530.43" r="9.48"/>
<circle class="b" cx="901.49" cy="367.19" r="9.48"/><circle class="bs" cx="901.49" cy="367.19" r="9.48"/>
<circle class="b" cx="954.62" cy="406.41" r="9.48"/><circle class="bs" cx="954.62" cy="406.41" r="9.48"/>
<circle class="b" cx="995.29" cy="454.32" r="9.48"/><circle class="bs" cx="995.29" cy="454.32" r="9.48"/>
<circle class="b" cx="989.69" cy="603.63" r="9.48"/><circle class="bs" cx="989.69" cy="603.63" r="9.48"/>
<circle class="b" cx="954.10" cy="210.89" r="9.48"/><circle class="bs" cx="954.10" cy="210.89" r="9.48"/>
<circle class="b" cx="822.00" cy="391.40" r="9.48"/><circle class="bs" cx="822.00" cy="391.40" r="9.48"/>
<circle class="b" cx="965.71" cy="364.41" r="9.48"/><circle class="bs" cx="965.71" cy="364.41" r="9.48"/>
<circle class="b" cx="902.80" cy="646.65" r="9.48"/><circle class="bs" cx="902.80" cy="646.65" r="9.48"/>
<circle class="b" cx="987.40" cy="495.95" r="9.48"/><circle class="bs" cx="987.40" cy="495.95" r="9.48"/>
<circle class="b" cx="926.76" cy="406.47" r="9.48"/><circle class="bs" cx="926.76" cy="406.47" r="9.48"/>
<circle class="b" cx="976.90" cy="440.81" r="9.48"/><circle class="bs" cx="976.90" cy="440.81" r="9.48"/>
<circle class="b" cx="933.46" cy="420.83" r="9.48"/><circle class="bs" cx="933.46" cy="420.83" r="9.48"/>
<circle class="b" cx="956.66" cy="422.51" r="9.48"/><circle class="bs" cx="956.66" cy="422.51" r="9.48"/>
<circle class="b" cx="958.79" cy="515.14" r="9.48"/><circle class="bs" cx="958.79" cy="515.14" r="9.48"/>
<circle class="b" cx="1077.59" cy="498.49" r="9.48"/><circle class="bs" cx="1077.59" cy="498.49" r="9.48"/>
<circle class="b" cx="1034.98" cy="559.49" r="9.48"/><circle class="bs" cx="1034.98" cy="559.49" r="9.48"/>
<circle class="b" cx="968.92" cy="377.64" r="9.48"/><circle class="bs" cx="968.92" cy="377.64" r="9.48"/>
<circle class="b" cx="899.71" cy="651.40" r="9.48"/><circle class="bs" cx="899.71" cy="651.40" r="9.48"/>
<circle class="b" cx="1058.04" cy="501.19" r="9.48"/><circle class="bs" cx="1058.04" cy="501.19" r="9.48"/>
<circle class="b" cx="885.07" cy="402.50" r="9.48"/><circle class="bs" cx="885.07" cy="402.50" r="9.48"/>
<circle class="b" cx="902.75" cy="494.60" r="9.48"/><circle class="bs" cx="902.75" cy="494.60" r="9.48"/>
<circle class="b" cx="931.04" cy="344.82" r="9.48"/><circle class="bs" cx="931.04" cy="344.82" r="9.48"/>
<circle class="b" cx="917.39" cy="399.85" r="9.48"/><circle class="bs" cx="917.39" cy="399.85" r="9.48"/>
<circle class="b" cx="922.17" cy="554.03" r="9.48"/><circle class="bs" cx="922.17" cy="554.03" r="9.48"/>
<circle class="b" cx="1074.73" cy="481.25" r="9.48"/><circle class="bs" cx="1074.73" cy="481.25" r="9.48"/>
<circle class="b" cx="977.70" cy="474.80" r="9.48"/><circle class="bs" cx="977.70" cy="474.80" r="9.48"/>
<circle class="b" cx="935.24" cy="451.54" r="9.48"/><circle class="bs" cx="935.24" cy="451.54" r="9.48"/>
<circle class="b" cx="1031.87" cy="523.54" r="9.48"/><circle class="bs" cx="1031.87" cy="523.54" r="9.48"/>
<circle class="b" cx="998.86" cy="531.57" r="9.48"/><circle class="bs" cx="998.86" cy="531.57" r="9.48"/>
<circle class="b" cx="900.13" cy="499.54" r="9.48"/><circle class="bs" cx="900.13" cy="499.54" r="9.48"/>
<circle class="b" cx="946.03" cy="393.45" r="9.48"/><circle class="bs" cx="946.03" cy="393.45" r="9.48"/>
<circle class="b" cx="1022.26" cy="374.37" r="9.48"/><circle class="bs" cx="1022.26" cy="374.37" r="9.48"/>
<circle class="b" cx="1120.90" cy="530.35" r="9.48"/><circle class="bs" cx="1120.90" cy="530.35" r="9.48"/>
<circle class="b" cx="1095.25" cy="470.85" r="9.48"/><circle class="bs" cx="1095.25" cy="470.85" r="9.48"/>
<circle class="b" cx="1043.43" cy="566.21" r="9.48"/><circle class="bs" cx="1043.43" cy="566.21" r="9.48"/>
<circle class="b" cx="984.18" cy="544.31" r="9.48"/><circle class="bs" cx="984.18" cy="544.31" r="9.48"/>
<circle class="b" cx="864.92" cy="531.06" r="9.48"/><circle class="bs" cx="864.92" cy="531.06" r="9.48"/>
<circle class="b" cx="934.20" cy="594.76" r="9.48"/><circle class="bs" cx="934.20" cy="594.76" r="9.48"/>
<circle class="b" cx="970.09" cy="657.13" r="9.48"/><circle class="bs" cx="970.09" cy="657.13" r="9.48"/>
<circle class="b" cx="1019.23" cy="406.48" r="9.48"/><circle class="bs" cx="1019.23" cy="406.48" r="9.48"/>
<circle class="b" cx="989.23" cy="439.20" r="9.48"/><circle class="bs" cx="989.23" cy="439.20" r="9.48"/>
<circle class="b" cx="989.15" cy="550.95" r="9.48"/><circle class="bs" cx="989.15" cy="550.95" r="9.48"/>
<circle class="b" cx="1113.11" cy="389.32" r="9.48"/><circle class="bs" cx="1113.11" cy="389.32" r="9.48"/>
<circle class="b" cx="1012.09" cy="312.32" r="9.48"/><circle class="bs" cx="1012.09" cy="312.32" r="9.48"/>
<circle class="b" cx="965.56" cy="706.13" r="9.48"/><circle class="bs" cx="965.56" cy="706.13" r="9.48"/>
<circle class="b" cx="955.25" cy="371.96" r="9.48"/><circle class="bs" cx="955.25" cy="371.96" r="9.48"/>
<circle class="b" cx="991.73" cy="364.95" r="9.48"/><circle class="bs" cx="991.73" cy="364.95" r="9.48"/>
<circle class="b" cx="928.46" cy="462.11" r="9.48"/><circle class="bs" cx="928.46" cy="462.11" r="9.48"/>
<circle class="b" cx="1080.37" cy="523.08" r="9.48"/><circle class="bs" cx="1080.37" cy="523.08" r="9.48"/>
<circle class="b" cx="965.07" cy="575.33" r="9.48"/><circle class="bs" cx="965.07" cy="575.33" r="9.48"/>
<circle class="b" cx="948.29" cy="555.29" r="9.48"/><circle class="bs" cx="948.29" cy="555.29" r="9.48"/>
<circle class="b" cx="924.30" cy="533.34" r="9.48"/><circle class="bs" cx="924.30" cy="533.34" r="9.48"/>
<circle class="b" cx="1050.26" cy="666.03" r="9.48"/><circle class="bs" cx="1050.26" cy="666.03" r="9.48"/>
<circle class="b" cx="896.15" cy="534.21" r="9.48"/><circle class="bs" cx="896.15" cy="534.21" r="9.48"/>
<circle class="b" cx="952.45" cy="386.72" r="9.48"/><circle class="bs" cx="952.45" cy="386.72" r="9.48"/>
<circle class="b" cx="1006.86" cy="544.02" r="9.48"/><circle class="bs" cx="1006.86" cy="544.02" r="9.48"/>
<circle class="b" cx="977.55" cy="334.49" r="9.48"/><circle class="bs" cx="977.55" cy="334.49" r="9.48"/>
<circle class="b" cx="1002.56" cy="480.36" r="9.48"/><circle class="bs" cx="1002.56" cy="480.36" r="9.48"/>
<circle class="b" cx="893.44" cy="465.82" r="9.48"/><circle class="bs" cx="893.44" cy="465.82" r="9.48"/>
<circle class="b" cx="955.15" cy="432.90" r="9.48"/><circle class="bs" cx="955.15" cy="432.90" r="9.48"/>
<circle class="b" cx="866.43" cy="560.64" r="9.48"/><circle class="bs" cx="866.43" cy="560.64" r="9.48"/>
<circle class="b" cx="926.45" cy="545.75" r="9.48"/><circle class="bs" cx="926.45" cy="545.75" r="9.48"/>
<circle class="b" cx="1065.05" cy="514.09" r="9.48"/><circle class="bs" cx="1065.05" cy="514.09" r="9.48"/>
<circle class="b" cx="1002.70" cy="315.73" r="9.48"/><circle class="bs" cx="1002.70" cy="315.73" r="9.48"/>
<circle class="b" cx="991.03" cy="437.32" r="9.48"/><circle class="bs" cx="991.03" cy="437.32" r="9.48"/>
<circle class="b" cx="920.08" cy="484.37" r="9.48"/><circle class="bs" cx="920.08" cy="484.37" r="9.48"/>
<circle class="b" cx="946.32" cy="576.68" r="9.48"/><circle class="bs" cx="946.32" cy="576.68" r="9.48"/>
<circle class="b" cx="914.32" cy="483.74" r="9.48"/><circle class="bs" cx="914.32" cy="483.74" r="9.48"/>
<circle class="b" cx="988.82" cy="440.39" r="9.48"/><circle class="bs" cx="988.82" cy="440.39" r="9.48"/>
<circle class="b" cx="1038.37" cy="508.41" r="9.48"/><circle class="bs" cx="1038.37" cy="508.41" r="9.48"/>
<circle class="b" cx="1005.93" cy="556.04" r="9.48"/><circle class="bs" cx="1005.93" cy="556.04" r="9.48"/>
<circle class="b" cx="942.09" cy="561.31" r="9.48"/><circle class="bs" cx="942.09" cy="561.31" r="9.48"/>
<circle class="b" cx="1023.59" cy="495.70" r="9.48"/><circle class="bs" cx="1023.59" cy="495.70" r="9.48"/>
<circle class="b" cx="1012.11" cy="444.94" r="9.48"/><circle class="bs" cx="1012.11" cy="444.94" r="9.48"/>
<circle class="b" cx="1043.81" cy="388.25" r="9.48"/><circle class="bs" cx="1043.81" cy="388.25" r="9.48"/>
<circle class="b" cx="954.41" cy="596.45" r="9.48"/><circle class="bs" cx="954.41" cy="596.45" r="9.48"/>
<circle class="b" cx="902.97" cy="548.17" r="9.48"/><circle class="bs" cx="902.97" cy="548.17" r="9.48"/>
<circle class="b" cx="979.21" cy="660.69" r="9.48"/><circle class="bs" cx="979.21" cy="660.69" r="9.48"/>
<circle class="b" cx="1006.18" cy="465.90" r="9.48"/><circle class="bs" cx="1006.18" cy="465.90" r="9.48"/>
<circle class="b" cx="1093.66" cy="411.17" r="9.48"/><circle class="bs" cx="1093.66" cy="411.17" r="9.48"/>
<circle class="b" cx="980.24" cy="452.89" r="9.48"/><circle class="bs" cx="980.24" cy="452.89" r="9.48"/>
<circle class="b" cx="1014.83" cy="364.87" r="9.48"/><circle class="bs" cx="1014.83" cy="364.87" r="9.48"/>
<circle class="b" cx="979.30" cy="423.16" r="9.48"/><circle class="bs" cx="979.30" cy="423.16" r="9.48"/>
<circle class="b" cx="1135.25" cy="528.87" r="9.48"/><circle class="bs" cx="1135.25" cy="528.87" r="9.48"/>
<circle class="b" cx="1078.26" cy="345.19" r="9.48"/><circle class="bs" cx="1078.26" cy="345.19" r="9.48"/>
<circle class="b" cx="968.92" cy="435.80" r="9.48"/><circle class="bs" cx="968.92" cy="435.80" r="9.48"/>
<circle class="b" cx="976.22" cy="423.65" r="9.48"/><circle class="bs" cx="976.22" cy="423.65" r="9.48"/>
<circle class="b" cx="983.58" cy="559.09" r="9.48"/><circle class="bs" cx="983.58" cy="559.09" r="9.48"/>
<circle class="b" cx="992.98" cy="498.36" r="9.48"/><circle class="bs" cx="992.98" cy="498.36" r="9.48"/>
<circle class="b" cx="945.74" cy="586.19" r="9.48"/><circle class="bs" cx="945.74" cy="586.19" r="9.48"/>
<circle class="b" cx="990.71" cy="482.39" r="9.48"/><circle class="bs" cx="990.71" cy="482.39" r="9.48"/>
<circle class="b" cx="936.64" cy="352.58" r="9.48"/><circle class="bs" cx="936.64" cy="352.58" r="9.48"/>
<circle class="b" cx="908.76" cy="517.16" r="9.48"/><circle class="bs" cx="908.76" cy="517.16" r="9.48"/>
<circle class="b" cx="1041.11" cy="469.95" r="9.48"/><circle class="bs" cx="1041.11" cy="469.95" r="9.48"/>
<circle class="b" cx="1030.82" cy="405.04" r="9.48"/><circle class="bs" cx="1030.82" cy="405.04" r="9.48"/>
<circle class="b" cx="945.54" cy="619.23" r="9.48"/><circle class="bs" cx="945.54" cy="619.23" r="9.48"/>
<circle class="b" cx="1073.72" cy="599.51" r="9.48"/><circle class="bs" cx="1073.72" cy="599.51" r="9.48"/>
<circle class="b" cx="971.69" cy="559.61" r="9.48"/><circle class="bs" cx="971.69" cy="559.61" r="9.48"/>
<circle class="b" cx="965.34" cy="448.67" r="9.48"/><circle class="bs" cx="965.34" cy="448.67" r="9.48"/>
<circle class="b" cx="918.69" cy="468.58" r="9.48"/><circle class="bs" cx="918.69" cy="468.58" r="9.48"/>
<circle class="b" cx="983.40" cy="363.25" r="9.48"/><circle class="bs" cx="983.40" cy="363.25" r="9.48"/>
<circle class="b" cx="975.56" cy="587.33" r="9.48"/><circle class="bs" cx="975.56" cy="587.33" r="9.48"/>
<circle class="b" cx="989.80" cy="515.49" r="9.48"/><circle class="bs" cx="989.80" cy="515.49" r="9.48"/>
<circle class="b" cx="1016.09" cy="665.64" r="9.48"/><circle class="bs" cx="1016.09" cy="665.64" r="9.48"/>
<circle class="b" cx="1048.23" cy="329.65" r="9.48"/><circle class="bs" cx="1048.23" cy="329.65" r="9.48"/>
<circle class="b" cx="1007.89" cy="377.92" r="9.48"/><circle class="bs" cx="1007.89" cy="377.92" r="9.48"/>
<circle class="b" cx="1054.21" cy="533.71" r="9.48"/><circle class="bs" cx="1054.21" cy="533.71" r="9.48"/>
<circle class="b" cx="1059.28" cy="498.67" r="9.48"/><circle class="bs" cx="1059.28" cy="498.67" r="9.48"/>
<circle class="b" cx="781.03" cy="488.02" r="9.48"/><circle class="bs" cx="781.03" cy="488.02" r="9.48"/>
<circle class="b" cx="959.83" cy="313.70" r="9.48"/><circle class="bs" cx="959.83" cy="313.70" r="9.48"/>
<circle class="b" cx="1024.78" cy="472.37" r="9.48"/><circle class="bs" cx="1024.78" cy="472.37" r="9.48"/>
<circle class="b" cx="907.13" cy="438.54" r="9.48"/><circle class="bs" cx="907.13" cy="438.54" r="9.48"/>
<circle class="b" cx="918.20" cy="412.66" r="9.48"/><circle class="bs" cx="918.20" cy="412.66" r="9.48"/>
<circle class="b" cx="1004.16" cy="413.55" r="9.48"/><circle class="bs" cx="1004.16" cy="413.55" r="9.48"/>
<circle class="b" cx="954.36" cy="626.76" r="9.48"/><circle class="bs" cx="954.36" cy="626.76" r="9.48"/>
<circle class="b" cx="864.52" cy="409.01" r="9.48"/><circle class="bs" cx="864.52" cy="409.01" r="9.48"/>
<circle class="b" cx="1048.17" cy="559.30" r="9.48"/><circle class="bs" cx="1048.17" cy="559.30" r="9.48"/>
<circle class="b" cx="926.54" cy="478.70" r="9.48"/><circle class="bs" cx="926.54" cy="478.70" r="9.48"/>
<circle class="b" cx="1012.00" cy="649.94" r="9.48"/><circle class="bs" cx="1012.00" cy="649.94" r="9.48"/>
<circle class="b" cx="1013.81" cy="456.49" r="9.48"/><circle class="bs" cx="1013.81" cy="456.49" r="9.48"/>
<circle class="b" cx="1091.03" cy="566.61" r="9.48"/><circle class="bs" cx="1091.03" cy="566.61" r="9.48"/>
<circle class="b" cx="998.78" cy="672.62" r="9.48"/><circle class="bs" cx="998.78" cy="672.62" r="9.48"/>
<circle class="b" cx="1031.44" cy="626.89" r="9.48"/><circle class="bs" cx="1031.44" cy="626.89" r="9.48"/>
<circle class="b" cx="1064.52" cy="604.15" r="9.48"/><circle class="bs" cx="1064.52" cy="604.15" r="9.48"/>
<circle class="b" cx="956.80" cy="426.12" r="9.48"/><circle class="bs" cx="956.80" cy="426.12" r="9.48"/>
<circle class="b" cx="869.81" cy="447.81" r="9.48"/><circle class="bs" cx="869.81" cy="447.81" r="9.48"/>
<circle class="b" cx="995.05" cy="413.97" r="9.48"/><circle class="bs" cx="995.05" cy="413.97" r="9.48"/>
<circle class="b" cx="1077.42" cy="523.88" r="9.48"/><circle class="bs" cx="1077.42" cy="523.88" r="9.48"/>
<circle class="b" cx="887.17" cy="459.43" r="9.48"/><circle class="bs" cx="887.17" cy="459.43" r="9.48"/>
<circle class="b" cx="1055.57" cy="438.67" r="9.48"/><circle class="bs" cx="1055.57" cy="438.67" r="9.48"/>
<circle class="b" cx="980.91" cy="483.52" r="9.48"/><circle class="bs" cx="980.91" cy="483.52" r="9.48"/>
<circle class="b" cx="992.02" cy="575.79" r="9.48"/><circle class="bs" cx="992.02" cy="575.79" r="9.48"/>
<circle class="b" cx="960.78" cy="373.87" r="9.48"/><circle class="bs" cx="960.78" cy="373.87" r="9.48"/>
<circle class="b" cx="1057.30" cy="325.20" r="9.48"/><circle class="bs" cx="1057.30" cy="325.20" r="9.48"/>
<circle class="b" cx="1084.27" cy="293.50" r="9.48"/><circle class="bs" cx="1084.27" cy="293.50" r="9.48"/>
<circle class="b" cx="1094.48" cy="395.24" r="9.48"/><circle class="bs" cx="1094.48" cy="395.24" r="9.48"/>
<circle class="b" cx="917.73" cy="492.75" r="9.48"/><circle class="bs" cx="917.73" cy="492.75" r="9.48"/>
<circle class="b" cx="1037.97" cy="487.37" r="9.48"/><circle class="bs" cx="1037.97" cy="487.37" r="9.48"/>
<circle class="b" cx="958.90" cy="503.42" r="9.48"/><circle class="bs" cx="958.90" cy="503.42" r="9.48"/>
<circle class="b" cx="916.61" cy="499.58" r="9.48"/><circle class="bs" cx="916.61" cy="499.58" r="9.48"/>
<circle class="b" cx="1012.24" cy="480.49" r="9.48"/><circle class="bs" cx="1012.24" cy="480.49" r="9.48"/>
<circle class="b" cx="983.84" cy="653.99" r="9.48"/><circle class="bs" cx="983.84" cy="653.99" r="9.48"/>
<circle class="b" cx="1040.23" cy="474.83" r="9.48"/><circle class="bs" cx="1040.23" cy="474.83" r="9.48"/>
<circle class="b" cx="1109.91" cy="454.59" r="9.48"/><circle class="bs" cx="1109.91" cy="454.59" r="9.48"/>
<circle class="b" cx="1057.29" cy="561.67" r="9.48"/><circle class="bs" cx="1057.29" cy="561.67" r="9.48"/>
<circle class="b" cx="936.65" cy="634.53" r="9.48"/><circle class="bs" cx="936.65" cy="634.53" r="9.48"/>
<circle class="b" cx="994.82" cy="508.35" r="9.48"/><circle class="bs" cx="994.82" cy="508.35" r="9.48"/>
<circle class="b" cx="1083.51" cy="757.75" r="9.48"/><circle class="bs" cx="1083.51" cy="757.75" r="9.48"/>
<circle class="b" cx="1066.88" cy="324.79" r="9.48"/><circle class="bs" cx="1066.88" cy="324.79" r="9.48"/>
<circle class="b" cx="874.74" cy="413.48" r="9.48"/><circle class="bs" cx="874.74" cy="413.48" r="9.48"/>
<circle class="b" cx="1051.00" cy="564.05" r="9.48"/><circle class="bs" cx="1051.00" cy="564.05" r="9.48"/>
<circle class="b" cx="961.38" cy="474.48" r="9.48"/><circle class="bs" cx="961.38" cy="474.48" r="9.48"/>
<circle class="b" cx="941.55" cy="490.78" r="9.48"/><circle class="bs" cx="941.55" cy="490.78" r="9.48"/>
<circle class="b" cx="908.41" cy="625.78" r="9.48"/><circle class="bs" cx="908.41" cy="625.78" r="9.48"/>
<circle class="b" cx="963.38" cy="555.17" r="9.48"/><circle class="bs" cx="963.38" cy="555.17" r="9.48"/>
<circle class="b" cx="1033.05" cy="388.62" r="9.48"/><circle class="bs" cx="1033.05" cy="388.62" r="9.48"/>
<circle class="b" cx="1085.04" cy="580.22" r="9.48"/><circle class="bs" cx="1085.04" cy="580.22" r="9.48"/>
<circle class="b" cx="994.77" cy="543.70" r="9.48"/><circle class="bs" cx="994.77" cy="543.70" r="9.48"/>
<circle class="b" cx="980.01" cy="543.13" r="9.48"/><circle class="bs" cx="980.01" cy="543.13" r="9.48"/>
<circle class="b" cx="971.00" cy="365.03" r="9.48"/><circle class="bs" cx="971.00" cy="365.03" r="9.48"/>
<circle class="b" cx="1051.51" cy="493.08" r="9.48"/><circle class="bs" cx="1051.51" cy="493.08" r="9.48"/>
<circle class="b" cx="909.81" cy="425.78" r="9.48"/><circle class="bs" cx="909.81" cy="425.78" r="9.48"/>
<circle class="b" cx="1002.50" cy="406.17" r="9.48"/><circle class="bs" cx="1002.50" cy="406.17" r="9.48"/>
<circle class="b" cx="1056.23" cy="510.17" r="9.48"/><circle class="bs" cx="1056.23" cy="510.17" r="9.48"/>
<circle class="b" cx="1059.04" cy="577.76" r="9.48"/><circle class="bs" cx="1059.04" cy="577.76" r="9.48"/>
<circle class="b" cx="1014.14" cy="460.48" r="9.48"/><circle class="bs" cx="1014.14" cy="460.48" r="9.48"/>
<circle class="b" cx="904.15" cy="508.22" r="9.48"/><circle class="bs" cx="904.15" cy="508.22" r="9.48"/>
<circle class="b" cx="927.92" cy="345.53" r="9.48"/><circle class="bs" cx="927.92" cy="345.53" r="9.48"/>
<circle class="b" cx="934.92" cy="522.80" r="9.48"/><circle class="bs" cx="934.92" cy="522.80" r="9.48"/>
<circle class="b" cx="884.59" cy="503.90" r="9.48"/><circle class="bs" cx="884.59" cy="503.90" r="9.48"/>
<circle class="b" cx="987.88" cy="414.18" r="9.48"/><circle class="bs" cx="987.88" cy="414.18" r="9.48"/>
<circle class="b" cx="1070.25" cy="535.77" r="9.48"/><circle class="bs" cx="1070.25" cy="535.77" r="9.48"/>
<circle class="b" cx="814.72" cy="477.46" r="9.48"/><circle class="bs" cx="814.72" cy="477.46" r="9.48"/>
<circle class="b" cx="1037.90" cy="431.00" r="9.48"/><circle class="bs" cx="1037.90" cy="431.00" r="9.48"/>
<circle class="b" cx="970.98" cy="512.35" r="9.48"/><circle class="bs" cx="970.98" cy="512.35" r="9.48"/>
<circle class="b" cx="931.54" cy="585.27" r="9.48"/><circle class="bs" cx="931.54" cy="585.27" r="9.48"/>
<circle class="b" cx="1038.71" cy="447.60" r="9.48"/><circle class="bs" cx="1038.71" cy="447.60" r="9.48"/>
<circle class="b" cx="1030.24" cy="501.12" r="9.48"/><circle class="bs" cx="1030.24" cy="501.12" r="9.48"/>
<circle class="b" cx="991.79" cy="658.26" r="9.48"/><circle class="bs" cx="991.79" cy="658.26" r="9.48"/>
<circle class="b" cx="921.05" cy="451.50" r="9.48"/><circle class="bs" cx="921.05" cy="451.50" r="9.48"/>
<circle class="b" cx="936.01" cy="463.94" r="9.48"/><circle class="bs" cx="936.01" cy="463.94" r="9.48"/>
<circle class="b" cx="872.48" cy="627.45" r="9.48"/><circle class="bs" cx="872.48" cy="627.45" r="9.48"/>
<circle class="b" cx="1116.07" cy="523.33" r="9.48"/><circle class="bs" cx="1116.07" cy="523.33" r="9.48"/>
<circle class="b" cx="974.26" cy="491.66" r="9.48"/><circle class="bs" cx="974.26" cy="491.66" r="9.48"/>
<circle class="b" cx="932.55" cy="526.11" r="9.48"/><circle class="bs" cx="932.55" cy="526.11" r="9.48"/>
<circle class="b" cx="834.62" cy="426.00" r="9.48"/><circle class="bs" cx="834.62" cy="426.00" r="9.48"/>
<circle class="b" cx="955.19" cy="618.18" r="9.48"/><circle class="bs" cx="955.19" cy="618.18" r="9.48"/>
<circle class="b" cx="946.86" cy="562.02" r="9.48"/><circle class="bs" cx="946.86" cy="562.02" r="9.48"/>
<circle class="b" cx="887.44" cy="516.47" r="9.48"/><circle class="bs" cx="887.44" cy="516.47" r="9.48"/>
<circle class="b" cx="1151.10" cy="345.44" r="9.48"/><circle class="bs" cx="1151.10" cy="345.44" r="9.48"/>
<circle class="b" cx="1045.88" cy="489.86" r="9.48"/><circle class="bs" cx="1045.88" cy="489.86" r="9.48"/>
<circle class="b" cx="878.16" cy="568.11" r="9.48"/><circle class="bs" cx="878.16" cy="568.11" r="9.48"/>
<circle class="b" cx="1064.06" cy="336.90" r="9.48"/><circle class="bs" cx="1064.06" cy="336.90" r="9.48"/>
<circle class="b" cx="1057.85" cy="496.72" r="9.48"/><circle class="bs" cx="1057.85" cy="496.72" r="9.48"/>
<circle class="b" cx="1026.17" cy="426.00" r="9.48"/><circle class="bs" cx="1026.17" cy="426.00" r="9.48"/>
<circle class="b" cx="1012.89" cy="374.53" r="9.48"/><circle class="bs" cx="1012.89" cy="374.53" r="9.48"/>
<circle class="b" cx="995.19" cy="438.86" r="9.48"/><circle class="bs" cx="995.19" cy="438.86" r="9.48"/>
<circle class="b" cx="1028.21" cy="358.42" r="9.48"/><circle class="bs" cx="1028.21" cy="358.42" r="9.48"/>
<circle class="b" cx="913.19" cy="547.27" r="9.48"/><circle class="bs" cx="913.19" cy="547.27" r="9.48"/>
<circle class="b" cx="939.88" cy="331.47" r="9.48"/><circle class="bs" cx="939.88" cy="331.47" r="9.48"/>
<circle class="b" cx="915.32" cy="640.47" r="9.48"/><circle class="bs" cx="915.32" cy="640.47" r="9.48"/>
<circle class="b" cx="973.54" cy="563.93" r="9.48"/><circle class="bs" cx="973.54" cy="563.93" r="9.48"/>
<circle class="b" cx="995.31" cy="528.81" r="9.48"/><circle class="bs" cx="995.31" cy="528.81" r="9.48"/>
<circle class="b" cx="1027.02" cy="454.79" r="9.48"/><circle class="bs" cx="1027.02" cy="454.79" r="9.48"/>
<circle class="b" cx="1021.93" cy="518.60" r="9.48"/><circle class="bs" cx="1021.93" cy="518.60" r="9.48"/>
<circle class="b" cx="1085.76" cy="423.18" r="9.48"/><circle class="bs" cx="1085.76" cy="423.18" r="9.48"/>
<circle class="b" cx="1026.69" cy="437.91" r="9.48"/><circle class="bs" cx="1026.69" cy="437.91" r="9.48"/>
<circle class="b" cx="1072.58" cy="414.53" r="9.48"/><circle class="bs" cx="1072.58" cy="414.53" r="9.48"/>
<circle class="b" cx="1061.51" cy="341.96" r="9.48"/><circle class="bs" cx="1061.51" cy="341.96" r="9.48"/>
<circle class="b" cx="944.12" cy="604.56" r="9.48"/><circle class="bs" cx="944.12" cy="604.56" r="9.48"/>
<circle class="b" cx="1037.41" cy="388.24" r="9.48"/><circle class="bs" cx="1037.41" cy="388.24" r="9.48"/>
<circle class="b" cx="1016.67" cy="499.82" r="9.48"/><circle class="bs" cx="1016.67" cy="499.82" r="9.48"/>
<circle class="b" cx="993.39" cy="548.37" r="9.48"/><circle class="bs" cx="993.39" cy="548.37" r="9.48"/>
<circle class="b" cx="922.19" cy="636.33" r="9.48"/><circle class="bs" cx="922.19" cy="636.33" r="9.48"/>
<circle class="b" cx="1026.04" cy="552.52" r="9.48"/><circle class="bs" cx="1026.04" cy="552.52" r="9.48"/>
<circle class="b" cx="989.53" cy="502.89" r="9.48"/><circle class="bs" cx="989.53" cy="502.89" r="9.48"/>
<circle class="b" cx="960.39" cy="651.07" r="9.48"/><circle class="bs" cx="960.39" cy="651.07" r="9.48"/>
<circle class="b" cx="1049.33" cy="508.36" r="9.48"/><circle class="bs" cx="1049.33" cy="508.36" r="9.48"/>
<circle class="b" cx="1054.19" cy="429.77" r="9.48"/><circle class="bs" cx="1054.19" cy="429.77" r="9.48"/>
<circle class="b" cx="1045.92" cy="593.06" r="9.48"/><circle class="bs" cx="1045.92" cy="593.06" r="9.48"/>
<circle class="b" cx="803.27" cy="476.28" r="9.48"/><circle class="bs" cx="803.27" cy="476.28" r="9.48"/>
<circle class="b" cx="922.61" cy="597.30" r="9.48"/><circle class="bs" cx="922.61" cy="597.30" r="9.48"/>
<circle class="b" cx="1050.36" cy="480.51" r="9.48"/><circle class="bs" cx="1050.36" cy="480.51" r="9.48"/>
<circle class="b" cx="933.19" cy="395.03" r="9.48"/><circle class="bs" cx="933.19" cy="395.03" r="9.48"/>
<circle class="b" cx="1013.54" cy="672.71" r="9.48"/><circle class="bs" cx="1013.54" cy="672.71" r="9.48"/>
<circle class="b" cx="997.83" cy="267.55" r="9.48"/><circle class="bs" cx="997.83" cy="267.55" r="9.48"/>
<circle class="b" cx="1062.21" cy="581.30" r="9.48"/><circle class="bs" cx="1062.21" cy="581.30" r="9.48"/>
<circle class="b" cx="935.63" cy="390.91" r="9.48"/><circle class="bs" cx="935.63" cy="390.91" r="9.48"/>
<circle class="b" cx="981.07" cy="288.08" r="9.48"/><circle class="bs" cx="981.07" cy="288.08" r="9.48"/>
<circle class="b" cx="1009.11" cy="561.08" r="9.48"/><circle class="bs" cx="1009.11" cy="561.08" r="9.48"/>
<circle class="b" cx="1073.72" cy="536.84" r="9.48"/><circle class="bs" cx="1073.72" cy="536.84" r="9.48"/>
<circle class="b" cx="972.74" cy="383.58" r="9.48"/><circle class="bs" cx="972.74" cy="383.58" r="9.48"/>
<circle class="b" cx="1005.32" cy="549.67" r="9.48"/><circle class="bs" cx="1005.32" cy="549.67" r="9.48"/>
<circle class="b" cx="891.59" cy="562.28" r="9.48"/><circle class="bs" cx="891.59" cy="562.28" r="9.48"/>
<circle class="b" cx="1029.18" cy="333.05" r="9.48"/><circle class="bs" cx="1029.18" cy="333.05" r="9.48"/>
<circle class="b" cx="999.50" cy="316.31" r="9.48"/><circle class="bs" cx="999.50" cy="316.31" r="9.48"/>
<circle class="b" cx="1029.61" cy="496.35" r="9.48"/><circle class="bs" cx="1029.61" cy="496.35" r="9.48"/>
<circle class="b" cx="956.50" cy="269.83" r="9.48"/><circle class="bs" cx="956.50" cy="269.83" r="9.48"/>
<circle class="b" cx="1102.45" cy="303.91" r="9.48"/><circle class="bs" cx="1102.45" cy="303.91" r="9.48"/>
<circle class="b" cx="975.36" cy="482.04" r="9.48"/><circle class="bs" cx="975.36" cy="482.04" r="9.48"/>
<circle class="b" cx="993.53" cy="549.34" r="9.48"/><circle class="bs" cx="993.53" cy="549.34" r="9.48"/>
<circle class="b" cx="977.74" cy="536.64" r="9.48"/><circle class="bs" cx="977.74" cy="536.64" r="9.48"/>
<circle class="b" cx="1044.03" cy="349.22" r="9.48"/><circle class="bs" cx="1044.03" cy="349.22" r="9.48"/>
<circle class="b" cx="931.58" cy="427.07" r="9.48"/><circle class="bs" cx="931.58" cy="427.07" r="9.48"/>
<circle class="b" cx="999.12" cy="417.84" r="9.48"/><circle class="bs" cx="999.12" cy="417.84" r="9.48"/>
<circle class="b" cx="1025.10" cy="476.99" r="9.48"/><circle class="bs" cx="1025.10" cy="476.99" r="9.48"/>
<circle class="b" cx="898.38" cy="459.33" r="9.48"/><circle class="bs" cx="898.38" cy="459.33" r="9.48"/>
<circle class="b" cx="1000.95" cy="519.96" r="9.48"/><circle class="bs" cx="1000.95" cy="519.96" r="9.48"/>
<circle class="b" cx="943.74" cy="373.32" r="9.48"/><circle class="bs" cx="943.74" cy="373.32" r="9.48"/>
<circle class="b" cx="1084.59" cy="505.29" r="9.48"/><circle class="bs" cx="1084.59" cy="505.29" r="9.48"/>
<circle class="b" cx="1034.18" cy="295.96" r="9.48"/><circle class="bs" cx="1034.18" cy="295.96" r="9.48"/>
<circle class="b" cx="864.96" cy="422.85" r="9.48"/><circle class="bs" cx="864.96" cy="422.85" r="9.48"/>
<circle class="b" cx="1049.11" cy="386.59" r="9.48"/><circle class="bs" cx="1049.11" cy="386.59" r="9.48"/>
<circle class="b" cx="1000.26" cy="342.58" r="9.48"/><circle class="bs" cx="1000.26" cy="342.58" r="9.48"/>
<circle class="b" cx="946.01" cy="480.08" r="9.48"/><circle class="bs" cx="946.01" cy="480.08" r="9.48"/>
<circle class="b" cx="960.33" cy="635.47" r="9.48"/><circle class="bs" cx="960.33" cy="635.47" r="9.48"/>
<circle class="b" cx="896.51" cy="530.90" r="9.48"/><circle class="bs" cx="896.51" cy="530.90" r="9.48"/>
<circle class="b" cx="1011.99" cy="422.27" r="9.48"/><circle class="bs" cx="1011.99" cy="422.27" r="9.48"/>
<circle class="b" cx="871.00" cy="367.16" r="9.48"/><circle class="bs" cx="871.00" cy="367.16" r="9.48"/>
<circle class="b" cx="975.33" cy="457.03" r="9.48"/><circle class="bs" cx="975.33" cy="457.03" r="9.48"/>
<circle class="b" cx="1016.79" cy="400.06" r="9.48"/><circle class="bs" cx="1016.79" cy="400.06" r="9.48"/>
<circle class="b" cx="990.90" cy="390.68" r="9.48"/><circle class="bs" cx="990.90" cy="390.68" r="9.48"/>
<circle class="b" cx="1044.92" cy="383.00" r="9.48"/><circle class="bs" cx="1044.92" cy="383.00" r="9.48"/>
<circle class="b" cx="988.61" cy="408.33" r="9.48"/><circle class="bs" cx="988.61" cy="408.33" r="9.48"/>
<circle class="b" cx="1145.88" cy="493.13" r="9.48"/><circle class="bs" cx="1145.88" cy="493.13" r="9.48"/>
<circle class="b" cx="925.25" cy="383.30" r="9.48"/><circle class="bs" cx="925.25" cy="383.30" r="9.48"/>
<circle class="b" cx="1092.27" cy="521.38" r="9.48"/><circle class="bs" cx="1092.27" cy="521.38" r="9.48"/>
<circle class="b" cx="872.67" cy="444.36" r="9.48"/><circle class="bs" cx="872.67" cy="444.36" r="9.48"/>
<circle class="b" cx="910.08" cy="521.84" r="9.48"/><circle class="bs" cx="910.08" cy="521.84" r="9.48"/>
<circle class="b" cx="922.33" cy="432.69" r="9.48"/><circle class="bs" cx="922.33" cy="432.69" r="9.48"/>
<circle class="b" cx="879.17" cy="430.60" r="9.48"/><circle class="bs" cx="879.17" cy="430.60" r="9.48"/>
<circle class="b" cx="1088.48" cy="485.38" r="9.48"/><circle class="bs" cx="1088.48" cy="485.38" r="9.48"/>
<circle class="b" cx="1057.08" cy="473.38" r="9.48"/><circle class="bs" cx="1057.08" cy="473.38" r="9.48"/>
<circle class="b" cx="1080.58" cy="436.67" r="9.48"/><circle class="bs" cx="1080.58" cy="436.67" r="9.48"/>
<circle class="b" cx="942.69" cy="577.99" r="9.48"/><circle class="bs" cx="942.69" cy="577.99" r="9.48"/>
<circle class="b" cx="991.05" cy="383.66" r="9.48"/><circle class="bs" cx="991.05" cy="383.66" r="9.48"/>
<circle class="b" cx="1062.98" cy="451.52" r="9.48"/><circle class="bs" cx="1062.98" cy="451.52" r="9.48"/>
<circle class="b" cx="1058.94" cy="426.30" r="9.48"/><circle class="bs" cx="1058.94" cy="426.30" r="9.48"/>
<circle class="b" cx="1024.10" cy="491.14" r="9.48"/><circle class="bs" cx="1024.10" cy="491.14" r="9.48"/>
<circle class="b" cx="996.11" cy="645.48" r="9.48"/><circle class="bs" cx="996.11" cy="645.48" r="9.48"/>
<circle class="b" cx="904.03" cy="408.26" r="9.48"/><circle class="bs" cx="904.03" cy="408.26" r="9.48"/>
<circle class="b" cx="1006.66" cy="499.33" r="9.48"/><circle class="bs" cx="1006.66" cy="499.33" r="9.48"/>
<circle class="b" cx="972.66" cy="420.01" r="9.48"/><circle class="bs" cx="972.66" cy="420.01" r="9.48"/>
<circle class="b" cx="939.52" cy="290.89" r="9.48"/><circle class="bs" cx="939.52" cy="290.89" r="9.48"/>
<circle class="b" cx="1094.85" cy="580.21" r="9.48"/><circle class="bs" cx="1094.85" cy="580.21" r="9.48"/>
<circle class="b" cx="936.25" cy="353.66" r="9.48"/><circle class="bs" cx="936.25" cy="353.66" r="9.48"/>
<circle class="b" cx="1002.01" cy="509.03" r="9.48"/><circle class="bs" cx="1002.01" cy="509.03" r="9.48"/>
<circle class="b" cx="1021.03" cy="481.11" r="9.48"/><circle class="bs" cx="1021.03" cy="481.11" r="9.48"/>
<circle class="b" cx="1058.29" cy="523.91" r="9.48"/><circle class="bs" cx="1058.29" cy="523.91" r="9.48"/>
<circle class="b" cx="1010.67" cy="520.86" r="9.48"/><circle class="bs" cx="1010.67" cy="520.86" r="9.48"/>
<circle class="b" cx="1122.50" cy="579.71" r="9.48"/><circle class="bs" cx="1122.50" cy="579.71" r="9.48"/>
<circle class="b" cx="1016.09" cy="464.44" r="9.48"/><circle class="bs" cx="1016.09" cy="464.44" r="9.48"/>
<circle class="b" cx="951.08" cy="433.14" r="9.48"/><circle class="bs" cx="951.08" cy="433.14" r="9.48"/>
<circle class="b" cx="992.23" cy="492.69" r="9.48"/><circle class="bs" cx="992.23" cy="492.69" r="9.48"/>
<circle class="b" cx="1031.69" cy="622.08" r="9.48"/><circle class="bs" cx="1031.69" cy="622.08" r="9.48"/>
<circle class="b" cx="832.56" cy="512.22" r="9.48"/><circle class="bs" cx="832.56" cy="512.22" r="9.48"/>
<circle class="b" cx="978.44" cy="438.56" r="9.48"/><circle class="bs" cx="978.44" cy="438.56" r="9.48"/>
<circle class="b" cx="987.99" cy="540.93" r="9.48"/><circle class="bs" cx="987.99" cy="540.93" r="9.48"/>
<circle class="b" cx="968.48" cy="529.13" r="9.48"/><circle class="bs" cx="968.48" cy="529.13" r="9.48"/>
<circle class="b" cx="988.67" cy="581.47" r="9.48"/><circle class="bs" cx="988.67" cy="581.47" r="9.48"/>
<circle class="b" cx="846.40" cy="422.43" r="9.48"/><circle class="bs" cx="846.40" cy="422.43" r="9.48"/>
<circle class="b" cx="1009.20" cy="536.23" r="9.48"/><circle class="bs" cx="1009.20" cy="536.23" r="9.48"/>
<circle class="b" cx="985.31" cy="189.75" r="9.48"/><circle class="bs" cx="985.31" cy="189.75" r="9.48"/>
<circle class="b" cx="950.80" cy="384.35" r="9.48"/><circle class="bs" cx="950.80" cy="384.35" r="9.48"/>
<circle class="b" cx="785.63" cy="490.83" r="9.48"/><circle class="bs" cx="785.63" cy="490.83" r="9.48"/>
<circle class="b" cx="956.46" cy="475.62" r="9.48"/><circle class="bs" cx="956.46" cy="475.62" r="9.48"/>
<circle class="b" cx="993.33" cy="540.62" r="9.48"/><circle class="bs" cx="993.33" cy="540.62" r="9.48"/>
<circle class="b" cx="980.14" cy="450.43" r="9.48"/><circle class="bs" cx="980.14" cy="450.43" r="9.48"/>
<circle class="b" cx="942.71" cy="475.18" r="9.48"/><circle class="bs" cx="942.71" cy="475.18" r="9.48"/>
<circle class="b" cx="1007.49" cy="632.05" r="9.48"/><circle class="bs" cx="1007.49" cy="632.05" r="9.48"/>
<circle class="b" cx="921.69" cy="642.33" r="9.48"/><circle class="bs" cx="921.69" cy="642.33" r="9.48"/>
<circle class="b" cx="1033.79" cy="421.55" r="9.48"/><circle class="bs" cx="1033.79" cy="421.55" r="9.48"/>
<circle class="b" cx="1042.59" cy="685.18" r="9.48"/><circle class="bs" cx="1042.59" cy="685.18" r="9.48"/>
<circle class="b" cx="1051.77" cy="510.19" r="9.48"/><circle class="bs" cx="1051.77" cy="510.19" r="9.48"/>
<circle class="b" cx="1040.72" cy="326.36" r="9.48"/><circle class="bs" cx="1040.72" cy="326.36" r="9.48"/>
<circle class="b" cx="960.57" cy="626.01" r="9.48"/><circle class="bs" cx="960.57" cy="626.01" r="9.48"/>
<circle class="b" cx="983.36" cy="449.23" r="9.48"/><circle class="bs" cx="983.36" cy="449.23" r="9.48"/>
<circle class="b" cx="1071.79" cy="334.06" r="9.48"/><circle class="bs" cx="1071.79" cy="334.06" r="9.48"/>
<circle class="b" cx="1027.64" cy="429.61" r="9.48"/><circle class="bs" cx="1027.64" cy="429.61" r="9.48"/>
<circle class="b" cx="1009.25" cy="359.71" r="9.48"/><circle class="bs" cx="1009.25" cy="359.71" r="9.48"/>
<circle class="b" cx="1074.17" cy="563.22" r="9.48"/><circle class="bs" cx="1074.17" cy="563.22" r="9.48"/>
<circle class="b" cx="941.44" cy="418.73" r="9.48"/><circle class="bs" cx="941.44" cy="418.73" r="9.48"/>
<circle class="b" cx="986.85" cy="459.31" r="9.48"/><circle class="bs" cx="986.85" cy="459.31" r="9.48"/>
<circle class="b" cx="1075.72" cy="353.91" r="9.48"/><circle class="bs" cx="1075.72" cy="353.91" r="9.48"/>
<circle class="b" cx="967.70" cy="251.21" r="9.48"/><circle class="bs" cx="967.70" cy="251.21" r="9.48"/>
<circle class="b" cx="994.49" cy="465.49" r="9.48"/><circle class="bs" cx="994.49" cy="465.49" r="9.48"/>
<circle class="b" cx="974.88" cy="376.89" r="9.48"/><circle class="bs" cx="974.88" cy="376.89" r="9.48"/>
<circle class="b" cx="1071.02" cy="512.21" r="9.48"/><circle class="bs" cx="1071.02" cy="512.21" r="9.48"/>
<circle class="b" cx="994.52" cy="508.27" r="9.48"/><circle class="bs" cx="994.52" cy="508.27" r="9.48"/>
<circle class="b" cx="989.78" cy="525.76" r="9.48"/><circle class="bs" cx="989.78" cy="525.76" r="9.48"/>
<circle class="b" cx="937.66" cy="598.18" r="9.48"/><circle class="bs" cx="937.66" cy="598.18" r="9.48"/>
<circle class="b" cx="955.95" cy="469.22" r="9.48"/><circle class="bs" cx="955.95" cy="469.22" r="9.48"/>
<circle class="b" cx="875.82" cy="479.36" r="9.48"/><circle class="bs" cx="875.82" cy="479.36" r="9.48"/>
<circle class="b" cx="1013.62" cy="410.65" r="9.48"/><circle class="bs" cx="1013.62" cy="410.65" r="9.48"/>
<circle class="b" cx="1044.13" cy="495.25" r="9.48"/><circle class="bs" cx="1044.13" cy="495.25" r="9.48"/>
<circle class="b" cx="891.97" cy="558.53" r="9.48"/><circle class="bs" cx="891.97" cy="558.53" r="9.48"/>
<circle class="b" cx="1013.04" cy="487.44" r="9.48"/><circle class="bs" cx="1013.04" cy="487.44" r="9.48"/>
<circle class="b" cx="1008.00" cy="309.65" r="9.48"/><circle class="bs" cx="1008.00" cy="309.65" r="9.48"/>
<circle class="b" cx="998.70" cy="435.15" r="9.48"/><circle class="bs" cx="998.70" cy="435.15" r="9.48"/>
<circle class="b" cx="990.07" cy="451.03" r="9.48"/><circle class="bs" cx="990.07" cy="451.03" r="9.48"/>
<circle class="b" cx="1098.94" cy="380.44" r="9.48"/><circle class="bs" cx="1098.94" cy="380.44" r="9.48"/>
<circle class="b" cx="1008.28" cy="314.00" r="9.48"/><circle class="bs" cx="1008.28" cy="314.00" r="9.48"/>
<circle class="b" cx="1082.71" cy="321.34" r="9.48"/><circle class="bs" cx="1082.71" cy="321.34" r="9.48"/>
<circle class="b" cx="1016.50" cy="514.80" r="9.48"/><circle class="bs" cx="1016.50" cy="514.80" r="9.48"/>
<circle class="b" cx="1019.03" cy="483.00" r="9.48"/><circle class="bs" cx="1019.03" cy="483.00" r="9.48"/>
<circle class="b" cx="947.51" cy="508.65" r="9.48"/><circle class="bs" cx="947.51" cy="508.65" r="9.48"/>
<circle class="b" cx="1172.48" cy="493.99" r="9.48"/><circle class="bs" cx="1172.48" cy="493.99" r="9.48"/>
<circle class="b" cx="980.93" cy="435.09" r="9.48"/><circle class="bs" cx="980.93" cy="435.09" r="9.48"/>
<circle class="b" cx="950.45" cy="519.19" r="9.48"/><circle class="bs" cx="950.45" cy="519.19" r="9.48"/>
<circle class="b" cx="1011.72" cy="581.10" r="9.48"/><circle class="bs" cx="1011.72" cy="581.10" r="9.48"/>
<circle class="b" cx="1013.59" cy="497.42" r="9.48"/><circle class="bs" cx="1013.59" cy="497.42" r="9.48"/>
<circle class="b" cx="1035.49" cy="344.91" r="9.48"/><circle class="bs" cx="1035.49" cy="344.91" r="9.48"/>
<circle class="b" cx="921.38" cy="308.51" r="9.48"/><circle class="bs" cx="921.38" cy="308.51" r="9.48"/>
<circle class="b" cx="975.54" cy="512.26" r="9.48"/><circle class="bs" cx="975.54" cy="512.26" r="9.48"/>
<circle class="b" cx="1094.72" cy="401.16" r="9.48"/><circle class="bs" cx="1094.72" cy="401.16" r="9.48"/>
<circle class="b" cx="951.47" cy="487.50" r="9.48"/><circle class="bs" cx="951.47" cy="487.50" r="9.48"/>
<circle class="b" cx="960.29" cy="486.82" r="9.48"/><circle class="bs" cx="960.29" cy="486.82" r="9.48"/>
<circle class="b" cx="1027.59" cy="536.74" r="9.48"/><circle class="bs" cx="1027.59" cy="536.74" r="9.48"/>
<circle class="b" cx="942.89" cy="618.39" r="9.48"/><circle class="bs" cx="942.89" cy="618.39" r="9.48"/>
<circle class="b" cx="1064.10" cy="313.10" r="9.48"/><circle class="bs" cx="1064.10" cy="313.10" r="9.48"/>
<circle class="b" cx="1014.51" cy="403.49" r="9.48"/><circle class="bs" cx="1014.51" cy="403.49" r="9.48"/>
<circle class="b" cx="991.33" cy="637.70" r="9.48"/><circle class="bs" cx="991.33" cy="637.70" r="9.48"/>
<circle class="b" cx="874.26" cy="507.22" r="9.48"/><circle class="bs" cx="874.26" cy="507.22" r="9.48"/>
<circle class="b" cx="960.92" cy="335.47" r="9.48"/><circle class="bs" cx="960.92" cy="335.47" r="9.48"/>
<circle class="b" cx="1126.75" cy="466.22" r="9.48"/><circle class="bs" cx="1126.75" cy="466.22" r="9.48"/>
<circle class="b" cx="965.19" cy="458.46" r="9.48"/><circle class="bs" cx="965.19" cy="458.46" r="9.48"/>
<circle class="b" cx="1030.66" cy="399.15" r="9.48"/><circle class="bs" cx="1030.66" cy="399.15" r="9.48"/>
<circle class="b" cx="920.70" cy="386.39" r="9.48"/><circle class="bs" cx="920.70" cy="386.39" r="9.48"/>
<circle class="b" cx="874.33" cy="419.17" r="9.48"/><circle class="bs" cx="874.33" cy="419.17" r="9.48"/>
<circle class="b" cx="1034.49" cy="438.34" r="9.48"/><circle class="bs" cx="1034.49" cy="438.34" r="9.48"/>
<circle class="b" cx="1086.02" cy="342.64" r="9.48"/><circle class="bs" cx="1086.02" cy="342.64" r="9.48"/>
<circle class="b" cx="877.55" cy="321.46" r="9.48"/><circle class="bs" cx="877.55" cy="321.46" r="9.48"/>
<circle class="b" cx="1044.01" cy="455.22" r="9.48"/><circle class="bs" cx="1044.01" cy="455.22" r="9.48"/>
<circle class="b" cx="1008.14" cy="494.64" r="9.48"/><circle class="bs" cx="1008.14" cy="494.64" r="9.48"/>
<circle class="b" cx="959.59" cy="474.75" r="9.48"/><circle class="bs" cx="959.59" cy="474.75" r="9.48"/>
<circle class="b" cx="1106.91" cy="444.26" r="9.48"/><circle class="bs" cx="1106.91" cy="444.26" r="9.48"/>
<circle class="b" cx="915.10" cy="537.04" r="9.48"/><circle class="bs" cx="915.10" cy="537.04" r="9.48"/>
<circle class="b" cx="976.92" cy="417.85" r="9.48"/><circle class="bs" cx="976.92" cy="417.85" r="9.48"/>
<circle class="b" cx="1031.65" cy="592.29" r="9.48"/><circle class="bs" cx="1031.65" cy="592.29" r="9.48"/>
<circle class="b" cx="909.72" cy="274.81" r="9.48"/><circle class="bs" cx="909.72" cy="274.81" r="9.48"/>
<circle class="b" cx="1062.11" cy="700.12" r="9.48"/><circle class="bs" cx="1062.11" cy="700.12" r="9.48"/>
<circle class="b" cx="977.15" cy="460.23" r="9.48"/><circle class="bs" cx="977.15" cy="460.23" r="9.48"/>
<circle class="b" cx="1070.69" cy="481.16" r="9.48"/><circle class="bs" cx="1070.69" cy="481.16" r="9.48"/>
<circle class="b" cx="983.47" cy="426.40" r="9.48"/><circle class="bs" cx="983.47" cy="426.40" r="9.48"/>
<circle class="b" cx="933.91" cy="512.91" r="9.48"/><circle class="bs" cx="933.91" cy="512.91" r="9.48"/>
<circle class="b" cx="891.75" cy="258.88" r="9.48"/><circle class="bs" cx="891.75" cy="258.88" r="9.48"/>
<circle class="b" cx="889.48" cy="488.87" r="9.48"/><circle class="bs" cx="889.48" cy="488.87" r="9.48"/>
<circle class="b" cx="974.71" cy="473.73" r="9.48"/><circle class="bs" cx="974.71" cy="473.73" r="9.48"/>
<circle class="b" cx="845.39" cy="374.32" r="9.48"/><circle class="bs" cx="845.39" cy="374.32" r="9.48"/>
<circle class="b" cx="876.49" cy="412.83" r="9.48"/><circle class="bs" cx="876.49" cy="412.83" r="9.48"/>
<circle class="b" cx="1121.77" cy="459.50" r="9.48"/><circle class="bs" cx="1121.77" cy="459.50" r="9.48"/>
<circle class="b" cx="972.68" cy="491.16" r="9.48"/><circle class="bs" cx="972.68" cy="491.16" r="9.48"/>
<circle class="b" cx="1079.63" cy="497.02" r="9.48"/><circle class="bs" cx="1079.63" cy="497.02" r="9.48"/>
<circle class="b" cx="1099.92" cy="598.21" r="9.48"/><circle class="bs" cx="1099.92" cy="598.21" r="9.48"/>
<circle class="b" cx="993.41" cy="418.95" r="9.48"/><circle class="bs" cx="993.41" cy="418.95" r="9.48"/>
<circle class="b" cx="985.35" cy="435.45" r="9.48"/><circle class="bs" cx="985.35" cy="435.45" r="9.48"/>
<circle class="b" cx="998.77" cy="570.13" r="9.48"/><circle class="bs" cx="998.77" cy="570.13" r="9.48"/>
<circle class="b" cx="1032.43" cy="492.76" r="9.48"/><circle class="bs" cx="1032.43" cy="492.76" r="9.48"/>
<circle class="b" cx="1040.88" cy="359.59" r="9.48"/><circle class="bs" cx="1040.88" cy="359.59" r="9.48"/>
<circle class="b" cx="844.77" cy="360.78" r="9.48"/><circle class="bs" cx="844.77" cy="360.78" r="9.48"/>
<circle class="b" cx="988.39" cy="586.13" r="9.48"/><circle class="bs" cx="988.39" cy="586.13" r="9.48"/>
<circle class="b" cx="1027.79" cy="403.41" r="9.48"/><circle class="bs" cx="1027.79" cy="403.41" r="9.48"/>
<circle class="b" cx="973.25" cy="464.39" r="9.48"/><circle class="bs" cx="973.25" cy="464.39" r="9.48"/>
<circle class="b" cx="1000.81" cy="440.76" r="9.48"/><circle class="bs" cx="1000.81" cy="440.76" r="9.48"/>
<circle class="b" cx="1047.24" cy="554.61" r="9.48"/><circle class="bs" cx="1047.24" cy="554.61" r="9.48"/>
<circle class="b" cx="974.82" cy="494.54" r="9.48"/><circle class="bs" cx="974.82" cy="494.54" r="9.48"/>
<circle class="b" cx="1092.14" cy="661.74" r="9.48"/><circle class="bs" cx="1092.14" cy="661.74" r="9.48"/>
<circle class="b" cx="1016.61" cy="542.59" r="9.48"/><circle class="bs" cx="1016.61" cy="542.59" r="9.48"/>
<circle class="b" cx="873.98" cy="503.53" r="9.48"/><circle class="bs" cx="873.98" cy="503.53" r="9.48"/>
<circle class="b" cx="972.06" cy="358.13" r="9.48"/><circle class="bs" cx="972.06" cy="358.13" r="9.48"/>
<circle class="b" cx="1024.62" cy="571.45" r="9.48"/><circle class="bs" cx="1024.62" cy="571.45" r="9.48"/>
<circle class="b" cx="996.42" cy="448.59" r="9.48"/><circle class="bs" cx="996.42" cy="448.59" r="9.48"/>
<circle class="b" cx="889.56" cy="467.72" r="9.48"/><circle class="bs" cx="889.56" cy="467.72" r="9.48"/>
<circle class="b" cx="853.91" cy="598.97" r="9.48"/><circle class="bs" cx="853.91" cy="598.97" r="9.48"/>
<circle class="b" cx="980.36" cy="450.33" r="9.48"/><circle class="bs" cx="980.36" cy="450.33" r="9.48"/>
<circle class="b" cx="1032.95" cy="333.09" r="9.48"/><circle class="bs" cx="1032.95" cy="333.09" r="9.48"/>
<circle class="b" cx="935.79" cy="390.95" r="9.48"/><circle class="bs" cx="935.79" cy="390.95" r="9.48"/>
<circle class="b" cx="1011.39" cy="373.66" r="9.48"/><circle class="bs" cx="1011.39" cy="373.66" r="9.48"/>
<circle class="b" cx="1025.54" cy="495.14" r="9.48"/><circle class="bs" cx="1025.54" cy="495.14" r="9.48"/>
<circle class="b" cx="1052.96" cy="389.34" r="9.48"/><circle class="bs" cx="1052.96" cy="389.34" r="9.48"/>
<circle class="b" cx="1026.00" cy="689.95" r="9.48"/><circle class="bs" cx="1026.00" cy="689.95" r="9.48"/>
<circle class="b" cx="1002.17" cy="589.02" r="9.48"/><circle class="bs" cx="1002.17" cy="589.02" r="9.48"/>
<circle class="b" cx="876.05" cy="491.63" r="9.48"/><circle class="bs" cx="876.05" cy="491.63" r="9.48"/>
<circle class="b" cx="949.71" cy="466.04" r="9.48"/><circle class="bs" cx="949.71" cy="466.04" r="9.48"/>
<circle class="b" cx="1044.86" cy="429.16" r="9.48"/><circle class="bs" cx="1044.86" cy="429.16" r="9.48"/>
<circle class="b" cx="1016.56" cy="410.67" r="9.48"/><circle class="bs" cx="1016.56" cy="410.67" r="9.48"/>
<circle class="b" cx="922.57" cy="517.38" r="9.48"/><circle class="bs" cx="922.57" cy="517.38" r="9.48"/>
<circle class="b" cx="1007.31" cy="519.34" r="9.48"/><circle class="bs" cx="1007.31" cy="519.34" r="9.48"/>
<circle class="b" cx="978.55" cy="507.39" r="9.48"/><circle class="bs" cx="978.55" cy="507.39" r="9.48"/>
<circle class="b" cx="1073.13" cy="526.58" r="9.48"/><circle class="bs" cx="1073.13" cy="526.58" r="9.48"/>
<circle class="b" cx="982.73" cy="487.10" r="9.48"/><circle class="bs" cx="982.73" cy="487.10" r="9.48"/>
<circle class="b" cx="958.06" cy="396.59" r="9.48"/><circle class="bs" cx="958.06" cy="396.59" r="9.48"/>
<circle class="b" cx="966.96" cy="434.00" r="9.48"/><circle class="bs" cx="966.96" cy="434.00" r="9.48"/>
<circle class="b" cx="923.99" cy="515.52" r="9.48"/><circle class="bs" cx="923.99" cy="515.52" r="9.48"/>
<circle class="b" cx="1075.11" cy="538.37" r="9.48"/><circle class="bs" cx="1075.11" cy="538.37" r="9.48"/>
<circle class="b" cx="996.60" cy="485.28" r="9.48"/><circle class="bs" cx="996.60" cy="485.28" r="9.48"/>
<circle class="b" cx="943.09" cy="494.63" r="9.48"/><circle class="bs" cx="943.09" cy="494.63" r="9.48"/>
<circle class="b" cx="1012.85" cy="365.73" r="9.48"/><circle class="bs" cx="1012.85" cy="365.73" r="9.48"/>
<circle class="b" cx="1044.91" cy="680.89" r="9.48"/><circle class="bs" cx="1044.91" cy="680.89" r="9.48"/>
<circle class="b" cx="955.71" cy="563.75" r="9.48"/><circle class="bs" cx="955.71" cy="563.75" r="9.48"/>
<circle class="b" cx="963.82" cy="419.74" r="9.48"/><circle class="bs" cx="963.82" cy="419.74" r="9.48"/>
<circle class="b" cx="980.97" cy="416.01" r="9.48"/><circle class="bs" cx="980.97" cy="416.01" r="9.48"/>
<circle class="b" cx="845.69" cy="534.63" r="9.48"/><circle class="bs" cx="845.69" cy="534.63" r="9.48"/>
<circle class="b" cx="995.92" cy="494.69" r="9.48"/><circle class="bs" cx="995.92" cy="494.69" r="9.48"/>
<circle class="b" cx="988.06" cy="313.56" r="9.48"/><circle class="bs" cx="988.06" cy="313.56" r="9.48"/>
<circle class="b" cx="966.85" cy="575.07" r="9.48"/><circle class="bs" cx="966.85" cy="575.07" r="9.48"/>
<circle class="b" cx="913.98" cy="315.29" r="9.48"/><circle class="bs" cx="913.98" cy="315.29" r="9.48"/>
<circle class="b" cx="1059.28" cy="447.22" r="9.48"/><circle class="bs" cx="1059.28" cy="447.22" r="9.48"/>
<circle class="b" cx="953.23" cy="381.05" r="9.48"/><circle class="bs" cx="953.23" cy="381.05" r="9.48"/>
<circle class="b" cx="994.52" cy="523.37" r="9.48"/><circle class="bs" cx="994.52" cy="523.37" r="9.48"/>
<circle class="b" cx="1132.22" cy="577.01" r="9.48"/><circle class="bs" cx="1132.22" cy="577.01" r="9.48"/>
<circle class="b" cx="943.88" cy="439.88" r="9.48"/><circle class="bs" cx="943.88" cy="439.88" r="9.48"/>
<circle class="b" cx="938.53" cy="437.79" r="9.48"/><circle class="bs" cx="938.53" cy="437.79" r="9.48"/>
<circle class="b" cx="995.81" cy="514.24" r="9.48"/><circle class="bs" cx="995.81" cy="514.24" r="9.48"/>
<circle class="b" cx="965.22" cy="555.04" r="9.48"/><circle class="bs" cx="965.22" cy="555.04" r="9.48"/>
<circle class="b" cx="950.79" cy="358.44" r="9.48"/><circle class="bs" cx="950.79" cy="358.44" r="9.48"/>
<circle class="b" cx="1013.63" cy="596.57" r="9.48"/><circle class="bs" cx="1013.63" cy="596.57" r="9.48"/>
<circle class="b" cx="1001.07" cy="346.77" r="9.48"/><circle class="bs" cx="1001.07" cy="346.77" r="9.48"/>
<circle class="b" cx="910.26" cy="529.55" r="9.48"/><circle class="bs" cx="910.26" cy="529.55" r="9.48"/>
<circle class="b" cx="888.95" cy="645.87" r="9.48"/><circle class="bs" cx="888.95" cy="645.87" r="9.48"/>
<circle class="b" cx="1026.75" cy="278.94" r="9.48"/><circle class="bs" cx="1026.75" cy="278.94" r="9.48"/>
<circle class="b" cx="926.64" cy="441.63" r="9.48"/><circle class="bs" cx="926.64" cy="441.63" r="9.48"/>
<circle class="b" cx="918.56" cy="572.41" r="9.48"/><circle class="bs" cx="918.56" cy="572.41" r="9.48"/>
<circle class="b" cx="1071.18" cy="509.72" r="9.48"/><circle class="bs" cx="1071.18" cy="509.72" r="9.48"/>
<circle class="b" cx="990.39" cy="547.62" r="9.48"/><circle class="bs" cx="990.39" cy="547.62" r="9.48"/>
<circle class="b" cx="947.52" cy="447.38" r="9.48"/><circle class="bs" cx="947.52" cy="447.38" r="9.48"/>
<circle class="b" cx="1038.96" cy="463.75" r="9.48"/><circle class="bs" cx="1038.96" cy="463.75" r="9.48"/>
<circle class="b" cx="1075.92" cy="587.88" r="9.48"/><circle class="bs" cx="1075.92" cy="587.88" r="9.48"/>
<circle class="b" cx="1053.69" cy="452.68" r="9.48"/><circle class="bs" cx="1053.69" cy="452.68" r="9.48"/>
<circle class="b" cx="914.64" cy="536.72" r="9.48"/><circle class="bs" cx="914.64" cy="536.72" r="9.48"/>
<circle class="b" cx="942.89" cy="418.66" r="9.48"/><circle class="bs" cx="942.89" cy="418.66" r="9.48"/>
<circle class="b" cx="1007.15" cy="421.44" r="9.48"/><circle class="bs" cx="1007.15" cy="421.44" r="9.48"/>
<circle class="b" cx="890.06" cy="478.92" r="9.48"/><circle class="bs" cx="890.06" cy="478.92" r="9.48"/>
<circle class="b" cx="958.50" cy="547.16" r="9.48"/><circle class="bs" cx="958.50" cy="547.16" r="9.48"/>
<circle class="b" cx="984.10" cy="518.33" r="9.48"/><circle class="bs" cx="984.10" cy="518.33" r="9.48"/>
<circle class="b" cx="980.54" cy="567.31" r="9.48"/><circle class="bs" cx="980.54" cy="567.31" r="9.48"/>
<circle class="b" cx="1000.65" cy="400.56" r="9.48"/><circle class="bs" cx="1000.65" cy="400.56" r="9.48"/>
<circle class="b" cx="997.85" cy="353.56" r="9.48"/><circle class="bs" cx="997.85" cy="353.56" r="9.48"/>
<circle class="b" cx="1047.12" cy="471.32" r="9.48"/><circle class="bs" cx="1047.12" cy="471.32" r="9.48"/>
<circle class="b" cx="981.40" cy="445.42" r="9.48"/><circle class="bs" cx="981.40" cy="445.42" r="9.48"/>
<circle class="b" cx="927.31" cy="494.72" r="9.48"/><circle class="bs" cx="927.31" cy="494.72" r="9.48"/>
<circle class="b" cx="976.67" cy="456.11" r="9.48"/><circle class="bs" cx="976.67" cy="456.11" r="9.48"/>
<circle class="b" cx="970.49" cy="306.65" r="9.48"/><circle class="bs" cx="970.49" cy="306.65" r="9.48"/>
<circle class="b" cx="987.85" cy="452.21" r="9.48"/><circle class="bs" cx="987.85" cy="452.21" r="9.48"/>
<circle class="b" cx="1088.22" cy="355.31" r="9.48"/><circle class="bs" cx="1088.22" cy="355.31" r="9.48"/>
<circle class="b" cx="1024.55" cy="453.47" r="9.48"/><circle class="bs" cx="1024.55" cy="453.47" r="9.48"/>
<circle class="b" cx="1109.71" cy="600.09" r="9.48"/><circle class="bs" cx="1109.71" cy="600.09" r="9.48"/>
<circle class="b" cx="1062.67" cy="583.36" r="9.48"/><circle class="bs" cx="1062.67" cy="583.36" r="9.48"/>
<circle class="a" cx="831.41" cy="477.22" r="9.48"/><circle class="as" cx="831.41" cy="477.22" r="9.48"/>
<circle class="a" cx="934.78" cy="676.76" r="9.48"/><circle class="as" cx="934.78" cy="676.76" r="9.48"/>
<circle class="a" cx="990.97" cy="502.06" r="9.48"/><circle class="as" cx="990.97" cy="502.06" r="9.48"/>
<circle class="a" cx="752.12" cy="576.02" r="9.48"/><circle class="as" cx="752.12" cy="576.02" r="9.48"/>
<circle class="a" cx="945.34" cy="405.16" r="9.48"/><circle class="as" cx="945.34" cy="405.16" r="9.48"/>
<circle class="a" cx="950.70" cy="588.14" r="9.48"/><circle class="as" cx="950.70" cy="588.14" r="9.48"/>
<circle class="a" cx="875.44" cy="704.07" r="9.48"/><circle class="as" cx="875.44" cy="704.07" r="9.48"/>
<circle class="a" cx="877.39" cy="521.73" r="9.48"/><circle class="as" cx="877.39" cy="521.73" r="9.48"/>
<circle class="a" cx="876.15" cy="534.14" r="9.48"/><circle class="as" cx="876.15" cy="534.14" r="9.48"/>
<circle class="a" cx="853.48" cy="567.74" r="9.48"/><circle class="as" cx="853.48" cy="567.74" r="9.48"/>
<circle class="a" cx="882.23" cy="661.57" r="9.48"/><circle class="as" cx="882.23" cy="661.57" r="9.48"/>
<circle class="a" cx="845.94" cy="641.91" r="9.48"/><circle class="as" cx="845.94" cy="641.91" r="9.48"/>
<circle class="a" cx="861.40" cy="567.29" r="9.48"/><circle class="as" cx="861.40" cy="567.29" r="9.48"/>
<circle class="a" cx="919.95" cy="472.40" r="9.48"/><circle class="as" cx="919.95" cy="472.40" r="9.48"/>
<circle class="a" cx="982.27" cy="599.07" r="9.48"/><circle class="as" cx="982.27" cy="599.07" r="9.48"/>
<circle class="a" cx="907.78" cy="644.85" r="9.48"/><circle class="as" cx="907.78" cy="644.85" r="9.48"/>
<circle class="a" cx="879.88" cy="810.37" r="9.48"/><circle class="as" cx="879.88" cy="810.37" r="9.48"/>
<circle class="a" cx="852.01" cy="521.52" r="9.48"/><circle class="as" cx="852.01" cy="521.52" r="9.48"/>
<circle class="a" cx="857.16" cy="527.56" r="9.48"/><circle class="as" cx="857.16" cy="527.56" r="9.48"/>
<circle class="a" cx="1083.69" cy="447.92" r="9.48"/><circle class="as" cx="1083.69" cy="447.92" r="9.48"/>
<circle class="a" cx="924.80" cy="433.69" r="9.48"/><circle class="as" cx="924.80" cy="433.69" r="9.48"/>
<circle class="a" cx="881.29" cy="579.07" r="9.48"/><circle class="as" cx="881.29" cy="579.07" r="9.48"/>
<circle class="a" cx="884.78" cy="448.88" r="9.48"/><circle class="as" cx="884.78" cy="448.88" r="9.48"/>
<circle class="a" cx="947.46" cy="566.03" r="9.48"/><circle class="as" cx="947.46" cy="566.03" r="9.48"/>
<circle class="a" cx="867.15" cy="627.24" r="9.48"/><circle class="as" cx="867.15" cy="627.24" r="9.48"/>
<circle class="a" cx="814.61" cy="642.75" r="9.48"/><circle class="as" cx="814.61" cy="642.75" r="9.48"/>
<circle class="a" cx="955.48" cy="597.48" r="9.48"/><circle class="as" cx="955.48" cy="597.48" r="9.48"/>
<circle class="a" cx="844.18" cy="545.61" r="9.48"/><circle class="as" cx="844.18" cy="545.61" r="9.48"/>
<circle class="a" cx="914.41" cy="568.63" r="9.48"/><circle class="as" cx="914.41" cy="568.63" r="9.48"/>
<circle class="a" cx="850.28" cy="548.01" r="9.48"/><circle class="as" cx="850.28" cy="548.01" r="9.48"/>
<circle class="a" cx="992.22" cy="548.19" r="9.48"/><circle class="as" cx="992.22" cy="548.19" r="9.48"/>
<circle class="a" cx="882.34" cy="501.62" r="9.48"/><circle class="as" cx="882.34" cy="501.62" r="9.48"/>
<circle class="a" cx="866.06" cy="590.82" r="9.48"/><circle class="as" cx="866.06" cy="590.82" r="9.48"/>
<circle class="a" cx="880.55" cy="418.46" r="9.48"/><circle class="as" cx="880.55" cy="418.46" r="9.48"/>
<circle class="a" cx="802.02" cy="526.62" r="9.48"/><circle class="as" cx="802.02" cy="526.62" r="9.48"/>
<circle class="a" cx="834.15" cy="673.94" r="9.48"/><circle class="as" cx="834.15" cy="673.94" r="9.48"/>
<circle class="a" cx="763.65" cy="591.14" r="9.48"/><circle class="as" cx="763.65" cy="591.14" r="9.48"/>
<circle class="a" cx="822.08" cy="519.56" r="9.48"/><circle class="as" cx="822.08" cy="519.56" r="9.48"/>
<circle class="a" cx="894.97" cy="603.27" r="9.48"/><circle class="as" cx="894.97" cy="603.27" r="9.48"/>
<circle class="a" cx="883.02" cy="535.00" r="9.48"/><circle class="as" cx="883.02" cy="535.00" r="9.48"/>
<circle class="a" cx="1016.39" cy="526.92" r="9.48"/><circle class="as" cx="1016.39" cy="526.92" r="9.48"/>
<circle class="a" cx="841.04" cy="448.44" r="9.48"/><circle class="as" cx="841.04" cy="448.44" r="9.48"/>
<circle class="a" cx="855.90" cy="625.01" r="9.48"/><circle class="as" cx="855.90" cy="625.01" r="9.48"/>
<circle class="a" cx="895.92" cy="567.68" r="9.48"/><circle class="as" cx="895.92" cy="567.68" r="9.48"/>
<circle class="a" cx="846.22" cy="617.42" r="9.48"/><circle class="as" cx="846.22" cy="617.42" r="9.48"/>
<circle class="a" cx="848.02" cy="667.94" r="9.48"/><circle class="as" cx="848.02" cy="667.94" r="9.48"/>
<circle class="a" cx="838.35" cy="733.13" r="9.48"/><circle class="as" cx="838.35" cy="733.13" r="9.48"/>
<circle class="a" cx="828.28" cy="548.49" r="9.48"/><circle class="as" cx="828.28" cy="548.49" r="9.48"/>
<circle class="a" cx="878.98" cy="511.83" r="9.48"/><circle class="as" cx="878.98" cy="511.83" r="9.48"/>
<circle class="a" cx="880.86" cy="508.43" r="9.48"/><circle class="as" cx="880.86" cy="508.43" r="9.48"/>
<circle class="a" cx="789.70" cy="691.68" r="9.48"/><circle class="as" cx="789.70" cy="691.68" r="9.48"/>
<circle class="a" cx="874.93" cy="668.17" r="9.48"/><circle class="as" cx="874.93" cy="668.17" r="9.48"/>
<circle class="a" cx="838.24" cy="669.21" r="9.48"/><circle class="as" cx="838.24" cy="669.21" r="9.48"/>
<circle class="a" cx="844.78" cy="628.35" r="9.48"/><circle class="as" cx="844.78" cy="628.35" r="9.48"/>
<circle class="a" cx="904.16" cy="550.78" r="9.48"/><circle class="as" cx="904.16" cy="550.78" r="9.48"/>
<circle class="a" cx="954.67" cy="512.46" r="9.48"/><circle class="as" cx="954.67" cy="512.46" r="9.48"/>
<circle class="a" cx="1030.20" cy="639.76" r="9.48"/><circle class="as" cx="1030.20" cy="639.76" r="9.48"/>
<circle class="a" cx="861.61" cy="824.83" r="9.48"/><circle class="as" cx="861.61" cy="824.83" r="9.48"/>
<circle class="a" cx="1027.29" cy="480.01" r="9.48"/><circle class="as" cx="1027.29" cy="480.01" r="9.48"/>
<circle class="a" cx="834.84" cy="510.59" r="9.48"/><circle class="as" cx="834.84" cy="510.59" r="9.48"/>
<circle class="a" cx="961.18" cy="629.45" r="9.48"/><circle class="as" cx="961.18" cy="629.45" r="9.48"/>
<circle class="a" cx="1092.96" cy="663.11" r="9.48"/><circle class="as" cx="1092.96" cy="663.11" r="9.48"/>
<circle class="a" cx="913.04" cy="593.24" r="9.48"/><circle class="as" cx="913.04" cy="593.24" r="9.48"/>
<circle class="a" cx="868.83" cy="556.39" r="9.48"/><circle class="as" cx="868.83" cy="556.39" r="9.48"/>
<circle class="a" cx="914.93" cy="500.84" r="9.48"/><circle class="as" cx="914.93" cy="500.84" r="9.48"/>
<circle class="a" cx="1039.21" cy="440.61" r="9.48"/><circle class="as" cx="1039.21" cy="440.61" r="9.48"/>
<circle class="a" cx="836.17" cy="642.82" r="9.48"/><circle class="as" cx="836.17" cy="642.82" r="9.48"/>
<circle class="a" cx="1010.71" cy="539.90" r="9.48"/><circle class="as" cx="1010.71" cy="539.90" r="9.48"/>
<circle class="a" cx="1008.04" cy="445.66" r="9.48"/><circle class="as" cx="1008.04" cy="445.66" r="9.48"/>
<circle class="a" cx="938.89" cy="647.55" r="9.48"/><circle class="as" cx="938.89" cy="647.55" r="9.48"/>
<circle class="a" cx="915.94" cy="586.27" r="9.48"/><circle class="as" cx="915.94" cy="586.27" r="9.48"/>
<circle class="a" cx="883.74" cy="726.13" r="9.48"/><circle class="as" cx="883.74" cy="726.13" r="9.48"/>
<circle class="a" cx="889.94" cy="540.20" r="9.48"/><circle class="as" cx="889.94" cy="540.20" r="9.48"/>
<circle class="a" cx="960.60" cy="624.06" r="9.48"/><circle class="as" cx="960.60" cy="624.06" r="9.48"/>
<circle class="a" cx="1059.62" cy="649.68" r="9.48"/><circle class="as" cx="1059.62" cy="649.68" r="9.48"/>
<circle class="a" cx="904.78" cy="636.59" r="9.48"/><circle class="as" cx="904.78" cy="636.59" r="9.48"/>
<circle class="a" cx="818.62" cy="526.01" r="9.48"/><circle class="as" cx="818.62" cy="526.01" r="9.48"/>
<circle class="a" cx="865.07" cy="761.45" r="9.48"/><circle class="as" cx="865.07" cy="761.45" r="9.48"/>
<circle class="a" cx="933.44" cy="604.58" r="9.48"/><circle class="as" cx="933.44" cy="604.58" r="9.48"/>
<circle class="a" cx="893.38" cy="657.70" r="9.48"/><circle class="as" cx="893.38" cy="657.70" r="9.48"/>
<circle class="a" cx="903.08" cy="653.04" r="9.48"/><circle class="as" cx="903.08" cy="653.04" r="9.48"/>
<circle class="a" cx="903.62" cy="523.29" r="9.48"/><circle class="as" cx="903.62" cy="523.29" r="9.48"/>
<circle class="a" cx="819.90" cy="534.39" r="9.48"/><circle class="as" cx="819.90" cy="534.39" r="9.48"/>
<circle class="a" cx="903.36" cy="575.82" r="9.48"/><circle class="as" cx="903.36" cy="575.82" r="9.48"/>
<circle class="a" cx="974.67" cy="517.61" r="9.48"/><circle class="as" cx="974.67" cy="517.61" r="9.48"/>
<circle class="a" cx="964.04" cy="620.53" r="9.48"/><circle class="as" cx="964.04" cy="620.53" r="9.48"/>
<circle class="a" cx="953.76" cy="748.88" r="9.48"/><circle class="as" cx="953.76" cy="748.88" r="9.48"/>
<circle class="a" cx="887.42" cy="461.90" r="9.48"/><circle class="as" cx="887.42" cy="461.90" r="9.48"/>
<circle class="a" cx="902.12" cy="586.99" r="9.48"/><circle class="as" cx="902.12" cy="586.99" r="9.48"/>
<circle class="a" cx="832.28" cy="599.12" r="9.48"/><circle class="as" cx="832.28" cy="599.12" r="9.48"/>
<circle class="a" cx="911.76" cy="551.93" r="9.48"/><circle class="as" cx="911.76" cy="551.93" r="9.48"/>
<circle class="a" cx="933.23" cy="496.98" r="9.48"/><circle class="as" cx="933.23" cy="496.98" r="9.48"/>
<circle class="a" cx="1034.25" cy="527.67" r="9.48"/><circle class="as" cx="1034.25" cy="527.67" r="9.48"/>
<circle class="a" cx="985.20" cy="482.41" r="9.48"/><circle class="as" cx="985.20" cy="482.41" r="9.48"/>
<circle class="a" cx="880.95" cy="561.99" r="9.48"/><circle class="as" cx="880.95" cy="561.99" r="9.48"/>
<circle class="a" cx="940.22" cy="611.69" r="9.48"/><circle class="as" cx="940.22" cy="611.69" r="9.48"/>
<circle class="a" cx="836.45" cy="593.29" r="9.48"/><circle class="as" cx="836.45" cy="593.29" r="9.48"/>
<circle class="a" cx="976.61" cy="491.83" r="9.48"/><circle class="as" cx="976.61" cy="491.83" r="9.48"/>
<circle class="a" cx="983.21" cy="642.85" r="9.48"/><circle class="as" cx="983.21" cy="642.85" r="9.48"/>
<circle class="a" cx="1063.16" cy="652.27" r="9.48"/><circle class="as" cx="1063.16" cy="652.27" r="9.48"/>
<circle class="a" cx="944.32" cy="537.84" r="9.48"/><circle class="as" cx="944.32" cy="537.84" r="9.48"/>
<circle class="a" cx="882.40" cy="510.84" r="9.48"/><circle class="as" cx="882.40" cy="510.84" r="9.48"/>
<circle class="a" cx="920.05" cy="718.87" r="9.48"/><circle class="as" cx="920.05" cy="718.87" r="9.48"/>
<circle class="a" cx="880.47" cy="495.29" r="9.48"/><circle class="as" cx="880.47" cy="495.29" r="9.48"/>
<circle class="a" cx="857.94" cy="565.08" r="9.48"/><circle class="as" cx="857.94" cy="565.08" r="9.48"/>
<circle class="a" cx="927.09" cy="582.52" r="9.48"/><circle class="as" cx="927.09" cy="582.52" r="9.48"/>
<circle class="a" cx="853.05" cy="466.18" r="9.48"/><circle class="as" cx="853.05" cy="466.18" r="9.48"/>
<circle class="a" cx="927.17" cy="432.55" r="9.48"/><circle class="as" cx="927.17" cy="432.55" r="9.48"/>
<circle class="a" cx="940.18" cy="669.77" r="9.48"/><circle class="as" cx="940.18" cy="669.77" r="9.48"/>
<circle class="a" cx="911.83" cy="474.79" r="9.48"/><circle class="as" cx="911.83" cy="474.79" r="9.48"/>
<circle class="a" cx="901.82" cy="623.23" r="9.48"/><circle class="as" cx="901.82" cy="623.23" r="9.48"/>
<circle class="a" cx="870.26" cy="554.20" r="9.48"/><circle class="as" cx="870.26" cy="554.20" r="9.48"/>
<circle class="a" cx="838.18" cy="522.72" r="9.48"/><circle class="as" cx="838.18" cy="522.72" r="9.48"/>
<circle class="a" cx="974.60" cy="554.13" r="9.48"/><circle class="as" cx="974.60" cy="554.13" r="9.48"/>
<circle class="a" cx="917.02" cy="698.26" r="9.48"/><circle class="as" cx="917.02" cy="698.26" r="9.48"/>
<circle class="a" cx="973.34" cy="611.89" r="9.48"/><circle class="as" cx="973.34" cy="611.89" r="9.48"/>
<circle class="a" cx="828.81" cy="427.11" r="9.48"/><circle class="as" cx="828.81" cy="427.11" r="9.48"/>
<circle class="a" cx="927.23" cy="550.55" r="9.48"/><circle class="as" cx="927.23" cy="550.55" r="9.48"/>
<circle class="a" cx="962.34" cy="641.64" r="9.48"/><circle class="as" cx="962.34" cy="641.64" r="9.48"/>
<circle class="a" cx="913.63" cy="625.39" r="9.48"/><circle class="as" cx="913.63" cy="625.39" r="9.48"/>
<circle class="a" cx="902.13" cy="470.64" r="9.48"/><circle class="as" cx="902.13" cy="470.64" r="9.48"/>
<circle class="a" cx="861.01" cy="534.90" r="9.48"/><circle class="as" cx="861.01" cy="534.90" r="9.48"/>
<circle class="a" cx="1058.78" cy="647.18" r="9.48"/><circle class="as" cx="1058.78" cy="647.18" r="9.48"/>
<circle class="a" cx="967.72" cy="565.59" r="9.48"/><circle class="as" cx="967.72" cy="565.59" r="9.48"/>
<circle class="a" cx="1042.49" cy="512.27" r="9.48"/><circle class="as" cx="1042.49" cy="512.27" r="9.48"/>
<circle class="a" cx="921.03" cy="410.59" r="9.48"/><circle class="as" cx="921.03" cy="410.59" r="9.48"/>
<circle class="a" cx="871.49" cy="645.78" r="9.48"/><circle class="as" cx="871.49" cy="645.78" r="9.48"/>
<circle class="a" cx="810.08" cy="600.47" r="9.48"/><circle class="as" cx="810.08" cy="600.47" r="9.48"/>
<circle class="a" cx="871.16" cy="476.19" r="9.48"/><circle class="as" cx="871.16" cy="476.19" r="9.48"/>
<circle class="a" cx="931.22" cy="607.62" r="9.48"/><circle class="as" cx="931.22" cy="607.62" r="9.48"/>
<circle class="a" cx="986.05" cy="434.28" r="9.48"/><circle class="as" cx="986.05" cy="434.28" r="9.48"/>
<circle class="a" cx="933.06" cy="471.94" r="9.48"/><circle class="as" cx="933.06" cy="471.94" r="9.48"/>
<circle class="a" cx="833.85" cy="715.98" r="9.48"/><circle class="as" cx="833.85" cy="715.98" r="9.48"/>
<circle class="a" cx="962.03" cy="527.86" r="9.48"/><circle class="as" cx="962.03" cy="527.86" r="9.48"/>
<circle class="a" cx="800.55" cy="694.32" r="9.48"/><circle class="as" cx="800.55" cy="694.32" r="9.48"/>
<circle class="a" cx="889.98" cy="698.43" r="9.48"/><circle class="as" cx="889.98" cy="698.43" r="9.48"/>
<circle class="a" cx="893.45" cy="559.79" r="9.48"/><circle class="as" cx="893.45" cy="559.79" r="9.48"/>
<circle class="a" cx="779.79" cy="561.03" r="9.48"/><circle class="as" cx="779.79" cy="561.03" r="9.48"/>
<circle class="a" cx="979.53" cy="569.11" r="9.48"/><circle class="as" cx="979.53" cy="569.11" r="9.48"/>
<circle class="a" cx="872.09" cy="451.98" r="9.48"/><circle class="as" cx="872.09" cy="451.98" r="9.48"/>
<circle class="a" cx="892.20" cy="539.51" r="9.48"/><circle class="as" cx="892.20" cy="539.51" r="9.48"/>
<circle class="a" cx="1012.61" cy="626.94" r="9.48"/><circle class="as" cx="1012.61" cy="626.94" r="9.48"/>
<circle class="a" cx="959.79" cy="555.35" r="9.48"/><circle class="as" cx="959.79" cy="555.35" r="9.48"/>
<circle class="a" cx="907.91" cy="612.61" r="9.48"/><circle class="as" cx="907.91" cy="612.61" r="9.48"/>
<circle class="a" cx="951.24" cy="572.30" r="9.48"/><circle class="as" cx="951.24" cy="572.30" r="9.48"/>
<circle class="a" cx="943.26" cy="669.83" r="9.48"/><circle class="as" cx="943.26" cy="669.83" r="9.48"/>
<circle class="a" cx="1031.25" cy="576.56" r="9.48"/><circle class="as" cx="1031.25" cy="576.56" r="9.48"/>
<circle class="a" cx="934.67" cy="556.86" r="9.48"/><circle class="as" cx="934.67" cy="556.86" r="9.48"/>
<circle class="a" cx="950.71" cy="629.53" r="9.48"/><circle class="as" cx="950.71" cy="629.53" r="9.48"/>
<circle class="a" cx="939.66" cy="562.43" r="9.48"/><circle class="as" cx="939.66" cy="562.43" r="9.48"/>
<circle class="a" cx="889.19" cy="624.74" r="9.48"/><circle class="as" cx="889.19" cy="624.74" r="9.48"/>
<circle class="a" cx="922.26" cy="624.31" r="9.48"/><circle class="as" cx="922.26" cy="624.31" r="9.48"/>
<circle class="a" cx="1029.57" cy="584.62" r="9.48"/><circle class="as" cx="1029.57" cy="584.62" r="9.48"/>
<circle class="a" cx="854.49" cy="521.82" r="9.48"/><circle class="as" cx="854.49" cy="521.82" r="9.48"/>
<circle class="a" cx="923.94" cy="584.70" r="9.48"/><circle class="as" cx="923.94" cy="584.70" r="9.48"/>
<circle class="a" cx="1010.31" cy="548.93" r="9.48"/><circle class="as" cx="1010.31" cy="548.93" r="9.48"/>
<circle class="a" cx="899.12" cy="478.55" r="9.48"/><circle class="as" cx="899.12" cy="478.55" r="9.48"/>
<circle class="a" cx="842.11" cy="591.91" r="9.48"/><circle class="as" cx="842.11" cy="591.91" r="9.48"/>
<circle class="a" cx="854.89" cy="575.51" r="9.48"/><circle class="as" cx="854.89" cy="575.51" r="9.48"/>
<circle class="a" cx="888.29" cy="519.98" r="9.48"/><circle class="as" cx="888.29" cy="519.98" r="9.48"/>
<circle class="a" cx="856.45" cy="679.78" r="9.48"/><circle class="as" cx="856.45" cy="679.78" r="9.48"/>
<circle class="a" cx="897.31" cy="517.04" r="9.48"/><circle class="as" cx="897.31" cy="517.04" r="9.48"/>
<circle class="a" cx="886.60" cy="614.47" r="9.48"/><circle class="as" cx="886.60" cy="614.47" r="9.48"/>
<circle class="a" cx="902.71" cy="668.93" r="9.48"/><circle class="as" cx="902.71" cy="668.93" r="9.48"/>
<circle class="a" cx="943.80" cy="725.82" r="9.48"/><circle class="as" cx="943.80" cy="725.82" r="9.48"/>
<circle class="a" cx="958.96" cy="630.72" r="9.48"/><circle class="as" cx="958.96" cy="630.72" r="9.48"/>
<circle class="a" cx="1032.32" cy="671.83" r="9.48"/><circle class="as" cx="1032.32" cy="671.83" r="9.48"/>
<circle class="a" cx="910.68" cy="672.58" r="9.48"/><circle class="as" cx="910.68" cy="672.58" r="9.48"/>
<circle class="a" cx="893.12" cy="419.19" r="9.48"/><circle class="as" cx="893.12" cy="419.19" r="9.48"/>
<circle class="a" cx="1017.89" cy="675.62" r="9.48"/><circle class="as" cx="1017.89" cy="675.62" r="9.48"/>
<circle class="a" cx="1034.14" cy="476.07" r="9.48"/><circle class="as" cx="1034.14" cy="476.07" r="9.48"/>
<circle class="a" cx="918.47" cy="516.91" r="9.48"/><circle class="as" cx="918.47" cy="516.91" r="9.48"/>
<circle class="a" cx="892.29" cy="646.06" r="9.48"/><circle class="as" cx="892.29" cy="646.06" r="9.48"/>
<circle class="a" cx="788.57" cy="621.35" r="9.48"/><circle class="as" cx="788.57" cy="621.35" r="9.48"/>
<circle class="a" cx="1013.73" cy="603.20" r="9.48"/><circle class="as" cx="1013.73" cy="603.20" r="9.48"/>
<circle class="a" cx="857.13" cy="548.96" r="9.48"/><circle class="as" cx="857.13" cy="548.96" r="9.48"/>
<circle class="a" cx="837.21" cy="597.61" r="9.48"/><circle class="as" cx="837.21" cy="597.61" r="9.48"/>
<circle class="a" cx="1127.41" cy="491.48" r="9.48"/><circle class="as" cx="1127.41" cy="491.48" r="9.48"/>
<circle class="a" cx="931.82" cy="592.59" r="9.48"/><circle class="as" cx="931.82" cy="592.59" r="9.48"/>
<circle class="a" cx="913.14" cy="761.71" r="9.48"/><circle class="as" cx="913.14" cy="761.71" r="9.48"/>
<circle class="a" cx="725.20" cy="574.84" r="9.48"/><circle class="as" cx="725.20" cy="574.84" r="9.48"/>
<circle class="a" cx="908.51" cy="733.40" r="9.48"/><circle class="as" cx="908.51" cy="733.40" r="9.48"/>
<circle class="a" cx="983.43" cy="481.46" r="9.48"/><circle class="as" cx="983.43" cy="481.46" r="9.48"/>
<circle class="a" cx="944.28" cy="633.68" r="9.48"/><circle class="as" cx="944.28" cy="633.68" r="9.48"/>
<circle class="a" cx="978.99" cy="666.87" r="9.48"/><circle class="as" cx="978.99" cy="666.87" r="9.48"/>
<circle class="a" cx="1053.60" cy="619.57" r="9.48"/><circle class="as" cx="1053.60" cy="619.57" r="9.48"/>
<circle class="a" cx="996.87" cy="513.30" r="9.48"/><circle class="as" cx="996.87" cy="513.30" r="9.48"/>
<circle class="a" cx="880.03" cy="739.42" r="9.48"/><circle class="as" cx="880.03" cy="739.42" r="9.48"/>
<circle class="a" cx="964.49" cy="543.23" r="9.48"/><circle class="as" cx="964.49" cy="543.23" r="9.48"/>
<circle class="a" cx="901.64" cy="653.96" r="9.48"/><circle class="as" cx="901.64" cy="653.96" r="9.48"/>
<circle class="a" cx="877.99" cy="566.92" r="9.48"/><circle class="as" cx="877.99" cy="566.92" r="9.48"/>
<circle class="a" cx="716.60" cy="504.83" r="9.48"/><circle class="as" cx="716.60" cy="504.83" r="9.48"/>
<circle class="a" cx="860.47" cy="514.71" r="9.48"/><circle class="as" cx="860.47" cy="514.71" r="9.48"/>
<circle class="a" cx="949.43" cy="430.42" r="9.48"/><circle class="as" cx="949.43" cy="430.42" r="9.48"/>
<circle class="a" cx="1066.43" cy="554.49" r="9.48"/><circle class="as" cx="1066.43" cy="554.49" r="9.48"/>
<circle class="a" cx="950.33" cy="629.48" r="9.48"/><circle class="as" cx="950.33" cy="629.48" r="9.48"/>
<circle class="a" cx="958.65" cy="371.65" r="9.48"/><circle class="as" cx="958.65" cy="371.65" r="9.48"/>
<circle class="a" cx="848.20" cy="593.54" r="9.48"/><circle class="as" cx="848.20" cy="593.54" r="9.48"/>
<circle class="a" cx="926.79" cy="493.22" r="9.48"/><circle class="as" cx="926.79" cy="493.22" r="9.48"/>
<circle class="a" cx="770.74" cy="482.07" r="9.48"/><circle class="as" cx="770.74" cy="482.07" r="9.48"/>
<circle class="a" cx="949.25" cy="525.07" r="9.48"/><circle class="as" cx="949.25" cy="525.07" r="9.48"/>
<circle class="a" cx="963.98" cy="437.42" r="9.48"/><circle class="as" cx="963.98" cy="437.42" r="9.48"/>
<circle class="a" cx="928.38" cy="585.03" r="9.48"/><circle class="as" cx="928.38" cy="585.03" r="9.48"/>
<circle class="a" cx="964.25" cy="677.36" r="9.48"/><circle class="as" cx="964.25" cy="677.36" r="9.48"/>
<circle class="a" cx="937.16" cy="598.72" r="9.48"/><circle class="as" cx="937.16" cy="598.72" r="9.48"/>
<circle class="a" cx="968.41" cy="615.57" r="9.48"/><circle class="as" cx="968.41" cy="615.57" r="9.48"/>
<circle class="a" cx="1043.76" cy="536.53" r="9.48"/><circle class="as" cx="1043.76" cy="536.53" r="9.48"/>
<circle class="a" cx="992.92" cy="650.44" r="9.48"/><circle class="as" cx="992.92" cy="650.44" r="9.48"/>
<circle class="a" cx="917.73" cy="504.67" r="9.48"/><circle class="as" cx="917.73" cy="504.67" r="9.48"/>
<circle class="a" cx="837.85" cy="671.26" r="9.48"/><circle class="as" cx="837.85" cy="671.26" r="9.48"/>
<circle class="a" cx="944.57" cy="407.62" r="9.48"/><circle class="as" cx="944.57" cy="407.62" r="9.48"/>
<circle class="a" cx="887.59" cy="435.24" r="9.48"/><circle class="as" cx="887.59" cy="435.24" r="9.48"/>
<circle class="a" cx="1019.46" cy="606.68" r="9.48"/><circle class="as" cx="1019.46" cy="606.68" r="9.48"/>
<circle class="a" cx="803.55" cy="553.50" r="9.48"/><circle class="as" cx="803.55" cy="553.50" r="9.48"/>
<circle class="a" cx="886.51" cy="599.90" r="9.48"/><circle class="as" cx="886.51" cy="599.90" r="9.48"/>
<circle class="a" cx="944.85" cy="675.11" r="9.48"/><circle class="as" cx="944.85" cy="675.11" r="9.48"/>
<circle class="a" cx="904.89" cy="806.50" r="9.48"/><circle class="as" cx="904.89" cy="806.50" r="9.48"/>
<circle class="a" cx="873.25" cy="568.42" r="9.48"/><circle class="as" cx="873.25" cy="568.42" r="9.48"/>
<circle class="a" cx="894.24" cy="569.26" r="9.48"/><circle class="as" cx="894.24" cy="569.26" r="9.48"/>
<circle class="a" cx="959.30" cy="417.83" r="9.48"/><circle class="as" cx="959.30" cy="417.83" r="9.48"/>
<circle class="a" cx="977.79" cy="746.36" r="9.48"/><circle class="as" cx="977.79" cy="746.36" r="9.48"/>
<circle class="a" cx="961.43" cy="625.95" r="9.48"/><circle class="as" cx="961.43" cy="625.95" r="9.48"/>
<circle class="a" cx="1073.77" cy="486.68" r="9.48"/><circle class="as" cx="1073.77" cy="486.68" r="9.48"/>
<circle class="a" cx="997.18" cy="535.23" r="9.48"/><circle class="as" cx="997.18" cy="535.23" r="9.48"/>
<circle class="a" cx="935.49" cy="555.16" r="9.48"/><circle class="as" cx="935.49" cy="555.16" r="9.48"/>
<circle class="a" cx="869.52" cy="622.21" r="9.48"/><circle class="as" cx="869.52" cy="622.21" r="9.48"/>
<circle class="a" cx="1118.73" cy="548.01" r="9.48"/><circle class="as" cx="1118.73" cy="548.01" r="9.48"/>
<circle class="a" cx="962.63" cy="587.46" r="9.48"/><circle class="as" cx="962.63" cy="587.46" r="9.48"/>
<circle class="a" cx="867.81" cy="555.89" r="9.48"/><circle class="as" cx="867.81" cy="555.89" r="9.48"/>
<circle class="a" cx="928.45" cy="618.35" r="9.48"/><circle class="as" cx="928.45" cy="618.35" r="9.48"/>
<circle class="a" cx="892.87" cy="458.81" r="9.48"/><circle class="as" cx="892.87" cy="458.81" r="9.48"/>
<circle class="a" cx="896.33" cy="470.43" r="9.48"/><circle class="as" cx="896.33" cy="470.43" r="9.48"/>
<circle class="a" cx="850.45" cy="445.43" r="9.48"/><circle class="as" cx="850.45" cy="445.43" r="9.48"/>
<circle class="a" cx="923.60" cy="599.31" r="9.48"/><circle class="as" cx="923.60" cy="599.31" r="9.48"/>
<circle class="a" cx="937.68" cy="593.64" r="9.48"/><circle class="as" cx="937.68" cy="593.64" r="9.48"/>
<circle class="a" cx="840.42" cy="597.79" r="9.48"/><circle class="as" cx="840.42" cy="597.79" r="9.48"/>
<circle class="a" cx="690.32" cy="442.05" r="9.48"/><circle class="as" cx="690.32" cy="442.05" r="9.48"/>
<circle class="a" cx="897.71" cy="593.22" r="9.48"/><circle class="as" cx="897.71" cy="593.22" r="9.48"/>
<circle class="a" cx="917.51" cy="557.34" r="9.48"/><circle class="as" cx="917.51" cy="557.34" r="9.48"/>
<circle class="a" cx="956.84" cy="531.73" r="9.48"/><circle class="as" cx="956.84" cy="531.73" r="9.48"/>
<circle class="a" cx="919.58" cy="504.90" r="9.48"/><circle class="as" cx="919.58" cy="504.90" r="9.48"/>
<circle class="a" cx="944.25" cy="590.33" r="9.48"/><circle class="as" cx="944.25" cy="590.33" r="9.48"/>
<circle class="a" cx="839.02" cy="354.29" r="9.48"/><circle class="as" cx="839.02" cy="354.29" r="9.48"/>
<circle class="a" cx="964.98" cy="649.91" r="9.48"/><circle class="as" cx="964.98" cy="649.91" r="9.48"/>
<circle class="a" cx="965.52" cy="694.99" r="9.48"/><circle class="as" cx="965.52" cy="694.99" r="9.48"/>
<circle class="a" cx="932.98" cy="562.33" r="9.48"/><circle class="as" cx="932.98" cy="562.33" r="9.48"/>
<circle class="a" cx="1009.97" cy="406.53" r="9.48"/><circle class="as" cx="1009.97" cy="406.53" r="9.48"/>
<circle class="a" cx="943.62" cy="561.39" r="9.48"/><circle class="as" cx="943.62" cy="561.39" r="9.48"/>
<circle class="a" cx="933.87" cy="556.24" r="9.48"/><circle class="as" cx="933.87" cy="556.24" r="9.48"/>
<circle class="a" cx="934.12" cy="488.20" r="9.48"/><circle class="as" cx="934.12" cy="488.20" r="9.48"/>
<circle class="a" cx="945.88" cy="575.09" r="9.48"/><circle class="as" cx="945.88" cy="575.09" r="9.48"/>
<circle class="a" cx="989.28" cy="556.79" r="9.48"/><circle class="as" cx="989.28" cy="556.79" r="9.48"/>
<circle class="a" cx="946.95" cy="457.01" r="9.48"/><circle class="as" cx="946.95" cy="457.01" r="9.48"/>
<circle class="a" cx="961.64" cy="557.69" r="9.48"/><circle class="as" cx="961.64" cy="557.69" r="9.48"/>
<circle class="a" cx="836.33" cy="634.08" r="9.48"/><circle class="as" cx="836.33" cy="634.08" r="9.48"/>
<circle class="a" cx="889.66" cy="530.49" r="9.48"/><circle class="as" cx="889.66" cy="530.49" r="9.48"/>
<circle class="a" cx="1018.31" cy="664.73" r="9.48"/><circle class="as" cx="1018.31" cy="664.73" r="9.48"/>
<circle class="a" cx="830.23" cy="697.85" r="9.48"/><circle class="as" cx="830.23" cy="697.85" r="9.48"/>
<circle class="a" cx="933.43" cy="577.23" r="9.48"/><circle class="as" cx="933.43" cy="577.23" r="9.48"/>
<circle class="a" cx="943.66" cy="665.58" r="9.48"/><circle class="as" cx="943.66" cy="665.58" r="9.48"/>
<circle class="a" cx="983.41" cy="513.69" r="9.48"/><circle class="as" cx="983.41" cy="513.69" r="9.48"/>
<circle class="a" cx="891.17" cy="579.42" r="9.48"/><circle class="as" cx="891.17" cy="579.42" r="9.48"/>
<circle class="a" cx="926.51" cy="635.36" r="9.48"/><circle class="as" cx="926.51" cy="635.36" r="9.48"/>
<circle class="a" cx="792.68" cy="419.59" r="9.48"/><circle class="as" cx="792.68" cy="419.59" r="9.48"/>
<circle class="a" cx="939.04" cy="576.08" r="9.48"/><circle class="as" cx="939.04" cy="576.08" r="9.48"/>
<circle class="a" cx="869.04" cy="437.76" r="9.48"/><circle class="as" cx="869.04" cy="437.76" r="9.48"/>
<circle class="a" cx="898.84" cy="576.40" r="9.48"/><circle class="as" cx="898.84" cy="576.40" r="9.48"/>
<circle class="a" cx="832.75" cy="595.89" r="9.48"/><circle class="as" cx="832.75" cy="595.89" r="9.48"/>
<circle class="a" cx="942.26" cy="532.43" r="9.48"/><circle class="as" cx="942.26" cy="532.43" r="9.48"/>
<circle class="a" cx="961.88" cy="473.14" r="9.48"/><circle class="as" cx="961.88" cy="473.14" r="9.48"/>
<circle class="a" cx="894.25" cy="321.79" r="9.48"/><circle class="as" cx="894.25" cy="321.79" r="9.48"/>
<circle class="a" cx="1042.54" cy="659.62" r="9.48"/><circle class="as" cx="1042.54" cy="659.62" r="9.48"/>
<circle class="a" cx="962.15" cy="582.72" r="9.48"/><circle class="as" cx="962.15" cy="582.72" r="9.48"/>
<circle class="a" cx="981.52" cy="468.82" r="9.48"/><circle class="as" cx="981.52" cy="468.82" r="9.48"/>
<circle class="a" cx="1058.17" cy="535.30" r="9.48"/><circle class="as" cx="1058.17" cy="535.30" r="9.48"/>
<circle class="a" cx="870.12" cy="583.07" r="9.48"/><circle class="as" cx="870.12" cy="583.07" r="9.48"/>
<circle class="a" cx="971.77" cy="683.81" r="9.48"/><circle class="as" cx="971.77" cy="683.81" r="9.48"/>
<circle class="a" cx="984.16" cy="591.32" r="9.48"/><circle class="as" cx="984.16" cy="591.32" r="9.48"/>
<circle class="a" cx="915.03" cy="582.84" r="9.48"/><circle class="as" cx="915.03" cy="582.84" r="9.48"/>
<circle class="a" cx="937.68" cy="573.54" r="9.48"/><circle class="as" cx="937.68" cy="573.54" r="9.48"/>
<circle class="a" cx="845.00" cy="420.55" r="9.48"/><circle class="as" cx="845.00" cy="420.55" r="9.48"/>
<circle class="a" cx="948.20" cy="607.87" r="9.48"/><circle class="as" cx="948.20" cy="607.87" r="9.48"/>
<circle class="a" cx="866.65" cy="708.49" r="9.48"/><circle class="as" cx="866.65" cy="708.49" r="9.48"/>
<circle class="a" cx="972.12" cy="521.32" r="9.48"/><circle class="as" cx="972.12" cy="521.32" r="9.48"/>
<circle class="a" cx="858.96" cy="576.26" r="9.48"/><circle class="as" cx="858.96" cy="576.26" r="9.48"/>
<circle class="a" cx="937.70" cy="584.61" r="9.48"/><circle class="as" cx="937.70" cy="584.61" r="9.48"/>
<circle class="a" cx="856.51" cy="508.75" r="9.48"/><circle class="as" cx="856.51" cy="508.75" r="9.48"/>
<circle class="a" cx="898.35" cy="828.65" r="9.48"/><circle class="as" cx="898.35" cy="828.65" r="9.48"/>
<circle class="a" cx="807.33" cy="616.15" r="9.48"/><circle class="as" cx="807.33" cy="616.15" r="9.48"/>
<circle class="a" cx="924.40" cy="580.01" r="9.48"/><circle class="as" cx="924.40" cy="580.01" r="9.48"/>
<circle class="a" cx="984.08" cy="511.49" r="9.48"/><circle class="as" cx="984.08" cy="511.49" r="9.48"/>
<circle class="a" cx="928.22" cy="589.72" r="9.48"/><circle class="as" cx="928.22" cy="589.72" r="9.48"/>
<circle class="a" cx="792.47" cy="656.93" r="9.48"/><circle class="as" cx="792.47" cy="656.93" r="9.48"/>
<circle class="a" cx="872.25" cy="532.51" r="9.48"/><circle class="as" cx="872.25" cy="532.51" r="9.48"/>
<circle class="a" cx="1030.78" cy="564.40" r="9.48"/><circle class="as" cx="1030.78" cy="564.40" r="9.48"/>
<circle class="a" cx="1041.48" cy="556.17" r="9.48"/><circle class="as" cx="1041.48" cy="556.17" r="9.48"/>
<circle class="a" cx="833.64" cy="461.70" r="9.48"/><circle class="as" cx="833.64" cy="461.70" r="9.48"/>
<circle class="a" cx="889.92" cy="615.12" r="9.48"/><circle class="as" cx="889.92" cy="615.12" r="9.48"/>
<circle class="a" cx="940.08" cy="678.97" r="9.48"/><circle class="as" cx="940.08" cy="678.97" r="9.48"/>
<circle class="a" cx="937.68" cy="681.75" r="9.48"/><circle class="as" cx="937.68" cy="681.75" r="9.48"/>
<circle class="a" cx="875.07" cy="658.62" r="9.48"/><circle class="as" cx="875.07" cy="658.62" r="9.48"/>
<circle class="a" cx="849.08" cy="691.47" r="9.48"/><circle class="as" cx="849.08" cy="691.47" r="9.48"/>
<circle class="a" cx="902.96" cy="570.60" r="9.48"/><circle class="as" cx="902.96" cy="570.60" r="9.48"/>
<circle class="a" cx="985.78" cy="402.60" r="9.48"/><circle class="as" cx="985.78" cy="402.60" r="9.48"/>
<circle class="a" cx="917.10" cy="575.14" r="9.48"/><circle class="as" cx="917.10" cy="575.14" r="9.48"/>
<circle class="a" cx="870.26" cy="495.96" r="9.48"/><circle class="as" cx="870.26" cy="495.96" r="9.48"/>
<circle class="a" cx="880.34" cy="665.73" r="9.48"/><circle class="as" cx="880.34" cy="665.73" r="9.48"/>
<circle class="a" cx="1027.88" cy="586.17" r="9.48"/><circle class="as" cx="1027.88" cy="586.17" r="9.48"/>
<circle class="a" cx="884.34" cy="515.03" r="9.48"/><circle class="as" cx="884.34" cy="515.03" r="9.48"/>
<circle class="a" cx="968.60" cy="598.21" r="9.48"/><circle class="as" cx="968.60" cy="598.21" r="9.48"/>
<circle class="a" cx="1017.94" cy="495.24" r="9.48"/><circle class="as" cx="1017.94" cy="495.24" r="9.48"/>
<circle class="a" cx="946.35" cy="503.47" r="9.48"/><circle class="as" cx="946.35" cy="503.47" r="9.48"/>
<circle class="a" cx="886.09" cy="623.29" r="9.48"/><circle class="as" cx="886.09" cy="623.29" r="9.48"/>
<circle class="a" cx="912.67" cy="635.87" r="9.48"/><circle class="as" cx="912.67" cy="635.87" r="9.48"/>
<circle class="a" cx="881.18" cy="353.22" r="9.48"/><circle class="as" cx="881.18" cy="353.22" r="9.48"/>
<circle class="a" cx="1000.95" cy="583.54" r="9.48"/><circle class="as" cx="1000.95" cy="583.54" r="9.48"/>
<circle class="a" cx="905.05" cy="565.55" r="9.48"/><circle class="as" cx="905.05" cy="565.55" r="9.48"/>
<circle class="a" cx="1023.39" cy="571.08" r="9.48"/><circle class="as" cx="1023.39" cy="571.08" r="9.48"/>
<circle class="a" cx="876.35" cy="617.47" r="9.48"/><circle class="as" cx="876.35" cy="617.47" r="9.48"/>
<circle class="a" cx="870.40" cy="649.87" r="9.48"/><circle class="as" cx="870.40" cy="649.87" r="9.48"/>
<circle class="a" cx="925.43" cy="668.72" r="9.48"/><circle class="as" cx="925.43" cy="668.72" r="9.48"/>
<circle class="a" cx="917.14" cy="483.61" r="9.48"/><circle class="as" cx="917.14" cy="483.61" r="9.48"/>
<circle class="a" cx="880.33" cy="655.20" r="9.48"/><circle class="as" cx="880.33" cy="655.20" r="9.48"/>
<circle class="a" cx="805.34" cy="505.87" r="9.48"/><circle class="as" cx="805.34" cy="505.87" r="9.48"/>
<circle class="a" cx="917.55" cy="439.12" r="9.48"/><circle class="as" cx="917.55" cy="439.12" r="9.48"/>
<circle class="a" cx="865.56" cy="461.59" r="9.48"/><circle class="as" cx="865.56" cy="461.59" r="9.48"/>
<circle class="a" cx="990.85" cy="578.68" r="9.48"/><circle class="as" cx="990.85" cy="578.68" r="9.48"/>
<circle class="a" cx="849.12" cy="614.86" r="9.48"/><circle class="as" cx="849.12" cy="614.86" r="9.48"/>
<circle class="a" cx="993.90" cy="663.59" r="9.48"/><circle class="as" cx="993.90" cy="663.59" r="9.48"/>
<circle class="a" cx="870.26" cy="567.83" r="9.48"/><circle class="as" cx="870.26" cy="567.83" r="9.48"/>
<circle class="a" cx="935.83" cy="587.16" r="9.48"/><circle class="as" cx="935.83" cy="587.16" r="9.48"/>
<circle class="a" cx="978.04" cy="552.04" r="9.48"/><circle class="as" cx="978.04" cy="552.04" r="9.48"/>
<circle class="a" cx="879.34" cy="620.70" r="9.48"/><circle class="as" cx="879.34" cy="620.70" r="9.48"/>
<circle class="a" cx="954.07" cy="509.34" r="9.48"/><circle class="as" cx="954.07" cy="509.34" r="9.48"/>
<circle class="a" cx="909.33" cy="501.66" r="9.48"/><circle class="as" cx="909.33" cy="501.66" r="9.48"/>
<circle class="a" cx="836.41" cy="468.99" r="9.48"/><circle class="as" cx="836.41" cy="468.99" r="9.48"/>
<circle class="a" cx="896.65" cy="362.98" r="9.48"/><circle class="as" cx="896.65" cy="362.98" r="9.48"/>
<circle class="a" cx="1028.25" cy="548.28" r="9.48"/><circle class="as" cx="1028.25" cy="548.28" r="9.48"/>
<circle class="a" cx="900.55" cy="618.13" r="9.48"/><circle class="as" cx="900.55" cy="618.13" r="9.48"/>
<circle class="a" cx="858.51" cy="573.14" r="9.48"/><circle class="as" cx="858.51" cy="573.14" r="9.48"/>
<circle class="a" cx="911.70" cy="713.17" r="9.48"/><circle class="as" cx="911.70" cy="713.17" r="9.48"/>
<circle class="a" cx="938.45" cy="554.42" r="9.48"/><circle class="as" cx="938.45" cy="554.42" r="9.48"/>
<circle class="a" cx="981.98" cy="604.60" r="9.48"/><circle class="as" cx="981.98" cy="604.60" r="9.48"/>
<circle class="a" cx="995.12" cy="529.49" r="9.48"/><circle class="as" cx="995.12" cy="529.49" r="9.48"/>
<circle class="a" cx="922.46" cy="590.43" r="9.48"/><circle class="as" cx="922.46" cy="590.43" r="9.48"/>
<circle class="a" cx="996.55" cy="690.87" r="9.48"/><circle class="as" cx="996.55" cy="690.87" r="9.48"/>
<circle class="a" cx="862.24" cy="562.85" r="9.48"/><circle class="as" cx="862.24" cy="562.85" r="9.48"/>
<circle class="a" cx="752.20" cy="688.36" r="9.48"/><circle class="as" cx="752.20" cy="688.36" r="9.48"/>
<circle class="a" cx="882.61" cy="485.14" r="9.48"/><circle class="as" cx="882.61" cy="485.14" r="9.48"/>
<circle class="a" cx="879.54" cy="731.36" r="9.48"/><circle class="as" cx="879.54" cy="731.36" r="9.48"/>
<circle class="a" cx="754.18" cy="578.97" r="9.48"/><circle class="as" cx="754.18" cy="578.97" r="9.48"/>
<circle class="a" cx="954.63" cy="524.79" r="9.48"/><circle class="as" cx="954.63" cy="524.79" r="9.48"/>
<circle class="a" cx="860.88" cy="703.39" r="9.48"/><circle class="as" cx="860.88" cy="703.39" r="9.48"/>
<circle class="a" cx="899.72" cy="439.80" r="9.48"/><circle class="as" cx="899.72" cy="439.80" r="9.48"/>
<circle class="a" cx="804.94" cy="646.11" r="9.48"/><circle class="as" cx="804.94" cy="646.11" r="9.48"/>
<circle class="a" cx="953.59" cy="611.88" r="9.48"/><circle class="as" cx="953.59" cy="611.88" r="9.48"/>
<circle class="a" cx="1047.15" cy="551.40" r="9.48"/><circle class="as" cx="1047.15" cy="551.40" r="9.48"/>
<circle class="a" cx="854.31" cy="596.60" r="9.48"/><circle class="as" cx="854.31" cy="596.60" r="9.48"/>
<circle class="a" cx="907.62" cy="659.71" r="9.48"/><circle class="as" cx="907.62" cy="659.71" r="9.48"/>
<circle class="a" cx="1051.16" cy="529.19" r="9.48"/><circle class="as" cx="1051.16" cy="529.19" r="9.48"/>
<circle class="a" cx="980.49" cy="613.50" r="9.48"/><circle class="as" cx="980.49" cy="613.50" r="9.48"/>
<circle class="a" cx="1048.67" cy="520.41" r="9.48"/><circle class="as" cx="1048.67" cy="520.41" r="9.48"/>
<circle class="a" cx="915.09" cy="611.73" r="9.48"/><circle class="as" cx="915.09" cy="611.73" r="9.48"/>
<circle class="a" cx="904.86" cy="652.60" r="9.48"/><circle class="as" cx="904.86" cy="652.60" r="9.48"/>
<circle class="a" cx="879.97" cy="574.70" r="9.48"/><circle class="as" cx="879.97" cy="574.70" r="9.48"/>
<circle class="a" cx="1015.36" cy="507.50" r="9.48"/><circle class="as" cx="1015.36" cy="507.50" r="9.48"/>
<circle class="a" cx="825.92" cy="544.27" r="9.48"/><circle class="as" cx="825.92" cy="544.27" r="9.48"/>
<circle class="a" cx="936.86" cy="571.47" r="9.48"/><circle class="as" cx="936.86" cy="571.47" r="9.48"/>
<circle class="a" cx="912.23" cy="742.06" r="9.48"/><circle class="as" cx="912.23" cy="742.06" r="9.48"/>
<circle class="a" cx="1072.27" cy="435.07" r="9.48"/><circle class="as" cx="1072.27" cy="435.07" r="9.48"/>
<circle class="a" cx="873.12" cy="569.76" r="9.48"/><circle class="as" cx="873.12" cy="569.76" r="9.48"/>
<circle class="a" cx="810.36" cy="644.18" r="9.48"/><circle class="as" cx="810.36" cy="644.18" r="9.48"/>
<circle class="a" cx="931.66" cy="584.37" r="9.48"/><circle class="as" cx="931.66" cy="584.37" r="9.48"/>
<circle class="a" cx="912.70" cy="542.56" r="9.48"/><circle class="as" cx="912.70" cy="542.56" r="9.48"/>
<circle class="a" cx="857.03" cy="703.27" r="9.48"/><circle class="as" cx="857.03" cy="703.27" r="9.48"/>
<circle class="a" cx="924.67" cy="501.37" r="9.48"/><circle class="as" cx="924.67" cy="501.37" r="9.48"/>
<circle class="a" cx="896.27" cy="543.86" r="9.48"/><circle class="as" cx="896.27" cy="543.86" r="9.48"/>
<circle class="a" cx="868.19" cy="457.53" r="9.48"/><circle class="as" cx="868.19" cy="457.53" r="9.48"/>
<circle class="a" cx="950.33" cy="477.10" r="9.48"/><circle class="as" cx="950.33" cy="477.10" r="9.48"/>
<circle class="a" cx="892.36" cy="614.73" r="9.48"/><circle class="as" cx="892.36" cy="614.73" r="9.48"/>
<circle class="a" cx="787.68" cy="610.43" r="9.48"/><circle class="as" cx="787.68" cy="610.43" r="9.48"/>
<circle class="a" cx="730.81" cy="656.06" r="9.48"/><circle class="as" cx="730.81" cy="656.06" r="9.48"/>
<circle class="a" cx="875.03" cy="598.82" r="9.48"/><circle class="as" cx="875.03" cy="598.82" r="9.48"/>
<circle class="a" cx="1016.72" cy="480.87" r="9.48"/><circle class="as" cx="1016.72" cy="480.87" r="9.48"/>
<circle class="a" cx="973.82" cy="404.30" r="9.48"/><circle class="as" cx="973.82" cy="404.30" r="9.48"/>
<circle class="a" cx="1000.07" cy="482.31" r="9.48"/><circle class="as" cx="1000.07" cy="482.31" r="9.48"/>
<circle class="a" cx="983.88" cy="731.41" r="9.48"/><circle class="as" cx="983.88" cy="731.41" r="9.48"/>
<circle class="a" cx="937.45" cy="491.93" r="9.48"/><circle class="as" cx="937.45" cy="491.93" r="9.48"/>
<circle class="a" cx="810.52" cy="472.57" r="9.48"/><circle class="as" cx="810.52" cy="472.57" r="9.48"/>
<circle class="a" cx="929.77" cy="510.39" r="9.48"/><circle class="as" cx="929.77" cy="510.39" r="9.48"/>
<circle class="a" cx="1026.68" cy="643.36" r="9.48"/><circle class="as" cx="1026.68" cy="643.36" r="9.48"/>
<circle class="a" cx="678.97" cy="470.02" r="9.48"/><circle class="as" cx="678.97" cy="470.02" r="9.48"/>
<circle class="a" cx="861.05" cy="500.27" r="9.48"/><circle class="as" cx="861.05" cy="500.27" r="9.48"/>
<circle class="a" cx="992.23" cy="506.31" r="9.48"/><circle class="as" cx="992.23" cy="506.31" r="9.48"/>
<circle class="a" cx="952.28" cy="600.60" r="9.48"/><circle class="as" cx="952.28" cy="600.60" r="9.48"/>
<circle class="a" cx="970.43" cy="489.76" r="9.48"/><circle class="as" cx="970.43" cy="489.76" r="9.48"/>
<circle class="a" cx="947.29" cy="556.07" r="9.48"/><circle class="as" cx="947.29" cy="556.07" r="9.48"/>
<circle class="a" cx="952.98" cy="572.27" r="9.48"/><circle class="as" cx="952.98" cy="572.27" r="9.48"/>
<circle class="a" cx="916.48" cy="431.85" r="9.48"/><circle class="as" cx="916.48" cy="431.85" r="9.48"/>
<circle class="a" cx="851.64" cy="497.77" r="9.48"/><circle class="as" cx="851.64" cy="497.77" r="9.48"/>
<circle class="a" cx="830.03" cy="825.71" r="9.48"/><circle class="as" cx="830.03" cy="825.71" r="9.48"/>
<circle class="a" cx="917.98" cy="604.67" r="9.48"/><circle class="as" cx="917.98" cy="604.67" r="9.48"/>
<circle class="a" cx="886.12" cy="700.48" r="9.48"/><circle class="as" cx="886.12" cy="700.48" r="9.48"/>
<circle class="a" cx="852.83" cy="512.98" r="9.48"/><circle class="as" cx="852.83" cy="512.98" r="9.48"/>
<circle class="a" cx="944.53" cy="606.12" r="9.48"/><circle class="as" cx="944.53" cy="606.12" r="9.48"/>
<circle class="a" cx="926.14" cy="484.76" r="9.48"/><circle class="as" cx="926.14" cy="484.76" r="9.48"/>
<circle class="a" cx="1017.35" cy="523.90" r="9.48"/><circle class="as" cx="1017.35" cy="523.90" r="9.48"/>
<circle class="a" cx="837.36" cy="564.16" r="9.48"/><circle class="as" cx="837.36" cy="564.16" r="9.48"/>
<circle class="a" cx="879.40" cy="573.84" r="9.48"/><circle class="as" cx="879.40" cy="573.84" r="9.48"/>
<circle class="a" cx="910.24" cy="598.78" r="9.48"/><circle class="as" cx="910.24" cy="598.78" r="9.48"/>
<circle class="a" cx="817.43" cy="548.13" r="9.48"/><circle class="as" cx="817.43" cy="548.13" r="9.48"/>
<circle class="a" cx="895.63" cy="666.24" r="9.48"/><circle class="as" cx="895.63" cy="666.24" r="9.48"/>
<circle class="a" cx="866.15" cy="505.39" r="9.48"/><circle class="as" cx="866.15" cy="505.39" r="9.48"/>
<circle class="a" cx="765.91" cy="601.74" r="9.48"/><circle class="as" cx="765.91" cy="601.74" r="9.48"/>
<circle class="a" cx="895.69" cy="633.34" r="9.48"/><circle class="as" cx="895.69" cy="633.34" r="9.48"/>
<circle class="a" cx="878.27" cy="595.60" r="9.48"/><circle class="as" cx="878.27" cy="595.60" r="9.48"/>
<circle class="a" cx="994.36" cy="396.85" r="9.48"/><circle class="as" cx="994.36" cy="396.85" r="9.48"/>
<circle class="a" cx="873.40" cy="724.92" r="9.48"/><circle class="as" cx="873.40" cy="724.92" r="9.48"/>
<circle class="a" cx="954.28" cy="597.66" r="9.48"/><circle class="as" cx="954.28" cy="597.66" r="9.48"/>
<circle class="a" cx="925.39" cy="556.53" r="9.48"/><circle class="as" cx="925.39" cy="556.53" r="9.48"/>
<circle class="a" cx="829.33" cy="614.71" r="9.48"/><circle class="as" cx="829.33" cy="614.71" r="9.48"/>
<circle class="a" cx="941.51" cy="603.29" r="9.48"/><circle class="as" cx="941.51" cy="603.29" r="9.48"/>
<circle class="a" cx="908.07" cy="531.62" r="9.48"/><circle class="as" cx="908.07" cy="531.62" r="9.48"/>
<circle class="a" cx="927.02" cy="546.06" r="9.48"/><circle class="as" cx="927.02" cy="546.06" r="9.48"/>
<circle class="a" cx="961.28" cy="627.00" r="9.48"/><circle class="as" cx="961.28" cy="627.00" r="9.48"/>
<circle class="a" cx="923.40" cy="514.91" r="9.48"/><circle class="as" cx="923.40" cy="514.91" r="9.48"/>
<circle class="a" cx="1025.84" cy="549.94" r="9.48"/><circle class="as" cx="1025.84" cy="549.94" r="9.48"/>
<circle class="a" cx="923.51" cy="504.17" r="9.48"/><circle class="as" cx="923.51" cy="504.17" r="9.48"/>
<circle class="a" cx="828.14" cy="686.02" r="9.48"/><circle class="as" cx="828.14" cy="686.02" r="9.48"/>
<circle class="a" cx="967.12" cy="635.50" r="9.48"/><circle class="as" cx="967.12" cy="635.50" r="9.48"/>
<circle class="a" cx="830.30" cy="583.56" r="9.48"/><circle class="as" cx="830.30" cy="583.56" r="9.48"/>
<circle class="a" cx="781.84" cy="479.54" r="9.48"/><circle class="as" cx="781.84" cy="479.54" r="9.48"/>
<circle class="a" cx="859.06" cy="613.93" r="9.48"/><circle class="as" cx="859.06" cy="613.93" r="9.48"/>
<circle class="a" cx="863.60" cy="659.43" r="9.48"/><circle class="as" cx="863.60" cy="659.43" r="9.48"/>
<circle class="a" cx="873.16" cy="496.46" r="9.48"/><circle class="as" cx="873.16" cy="496.46" r="9.48"/>
<circle class="a" cx="1027.35" cy="524.13" r="9.48"/><circle class="as" cx="1027.35" cy="524.13" r="9.48"/>
<circle class="a" cx="1029.35" cy="676.84" r="9.48"/><circle class="as" cx="1029.35" cy="676.84" r="9.48"/>
<circle class="a" cx="966.02" cy="381.32" r="9.48"/><circle class="as" cx="966.02" cy="381.32" r="9.48"/>
<circle class="a" cx="826.76" cy="430.81" r="9.48"/><circle class="as" cx="826.76" cy="430.81" r="9.48"/>
<circle class="a" cx="917.07" cy="691.59" r="9.48"/><circle class="as" cx="917.07" cy="691.59" r="9.48"/>
<circle class="a" cx="949.38" cy="371.68" r="9.48"/><circle class="as" cx="949.38" cy="371.68" r="9.48"/>
<circle class="a" cx="905.92" cy="722.31" r="9.48"/><circle class="as" cx="905.92" cy="722.31" r="9.48"/>
<circle class="a" cx="927.42" cy="556.94" r="9.48"/><circle class="as" cx="927.42" cy="556.94" r="9.48"/>
<circle class="a" cx="849.67" cy="669.22" r="9.48"/><circle class="as" cx="849.67" cy="669.22" r="9.48"/>
<circle class="a" cx="825.80" cy="600.20" r="9.48"/><circle class="as" cx="825.80" cy="600.20" r="9.48"/>
<circle class="a" cx="1013.49" cy="597.65" r="9.48"/><circle class="as" cx="1013.49" cy="597.65" r="9.48"/>
<circle class="a" cx="934.08" cy="536.99" r="9.48"/><circle class="as" cx="934.08" cy="536.99" r="9.48"/>
<circle class="a" cx="887.02" cy="667.69" r="9.48"/><circle class="as" cx="887.02" cy="667.69" r="9.48"/>
<circle class="a" cx="938.11" cy="815.14" r="9.48"/><circle class="as" cx="938.11" cy="815.14" r="9.48"/>
<circle class="a" cx="1059.08" cy="574.81" r="9.48"/><circle class="as" cx="1059.08" cy="574.81" r="9.48"/>
<circle class="a" cx="940.71" cy="633.59" r="9.48"/><circle class="as" cx="940.71" cy="633.59" r="9.48"/>
<circle class="a" cx="1013.74" cy="547.12" r="9.48"/><circle class="as" cx="1013.74" cy="547.12" r="9.48"/>
<circle class="a" cx="1010.69" cy="642.78" r="9.48"/><circle class="as" cx="1010.69" cy="642.78" r="9.48"/>
<circle class="a" cx="887.11" cy="494.60" r="9.48"/><circle class="as" cx="887.11" cy="494.60" r="9.48"/>
<circle class="a" cx="968.56" cy="563.52" r="9.48"/><circle class="as" cx="968.56" cy="563.52" r="9.48"/>
<circle class="a" cx="870.11" cy="511.66" r="9.48"/><circle class="as" cx="870.11" cy="511.66" r="9.48"/>
<circle class="a" cx="812.84" cy="656.01" r="9.48"/><circle class="as" cx="812.84" cy="656.01" r="9.48"/>
<circle class="a" cx="831.78" cy="585.24" r="9.48"/><circle class="as" cx="831.78" cy="585.24" r="9.48"/>
<circle class="a" cx="905.10" cy="535.08" r="9.48"/><circle class="as" cx="905.10" cy="535.08" r="9.48"/>
<circle class="a" cx="1040.60" cy="574.22" r="9.48"/><circle class="as" cx="1040.60" cy="574.22" r="9.48"/>
<circle class="a" cx="922.76" cy="416.78" r="9.48"/><circle class="as" cx="922.76" cy="416.78" r="9.48"/>
<circle class="a" cx="859.55" cy="743.42" r="9.48"/><circle class="as" cx="859.55" cy="743.42" r="9.48"/>
<circle class="a" cx="931.50" cy="497.87" r="9.48"/><circle class="as" cx="931.50" cy="497.87" r="9.48"/>
<circle class="a" cx="964.06" cy="564.85" r="9.48"/><circle class="as" cx="964.06" cy="564.85" r="9.48"/>
<circle class="a" cx="825.27" cy="480.74" r="9.48"/><circle class="as" cx="825.27" cy="480.74" r="9.48"/>
<circle class="a" cx="842.02" cy="575.08" r="9.48"/><circle class="as" cx="842.02" cy="575.08" r="9.48"/>
<circle class="a" cx="780.26" cy="813.58" r="9.48"/><circle class="as" cx="780.26" cy="813.58" r="9.48"/>
<circle class="a" cx="827.05" cy="528.19" r="9.48"/><circle class="as" cx="827.05" cy="528.19" r="9.48"/>
<circle class="a" cx="853.66" cy="585.87" r="9.48"/><circle class="as" cx="853.66" cy="585.87" r="9.48"/>
<circle class="a" cx="895.13" cy="655.50" r="9.48"/><circle class="as" cx="895.13" cy="655.50" r="9.48"/>
<circle class="a" cx="1013.65" cy="625.44" r="9.48"/><circle class="as" cx="1013.65" cy="625.44" r="9.48"/>
<circle class="a" cx="977.34" cy="561.13" r="9.48"/><circle class="as" cx="977.34" cy="561.13" r="9.48"/>
<circle class="a" cx="934.47" cy="344.71" r="9.48"/><circle class="as" cx="934.47" cy="344.71" r="9.48"/>
<circle class="a" cx="876.00" cy="549.16" r="9.48"/><circle class="as" cx="876.00" cy="549.16" r="9.48"/>
<circle class="a" cx="912.66" cy="654.63" r="9.48"/><circle class="as" cx="912.66" cy="654.63" r="9.48"/>
<circle class="a" cx="953.59" cy="394.24" r="9.48"/><circle class="as" cx="953.59" cy="394.24" r="9.48"/>
<circle class="a" cx="880.36" cy="605.76" r="9.48"/><circle class="as" cx="880.36" cy="605.76" r="9.48"/>
<circle class="a" cx="989.21" cy="641.09" r="9.48"/><circle class="as" cx="989.21" cy="641.09" r="9.48"/>
<circle class="a" cx="991.88" cy="678.79" r="9.48"/><circle class="as" cx="991.88" cy="678.79" r="9.48"/>
<circle class="a" cx="834.23" cy="627.00" r="9.48"/><circle class="as" cx="834.23" cy="627.00" r="9.48"/>
<circle class="a" cx="863.45" cy="391.39" r="9.48"/><circle class="as" cx="863.45" cy="391.39" r="9.48"/>
<circle class="a" cx="999.49" cy="484.28" r="9.48"/><circle class="as" cx="999.49" cy="484.28" r="9.48"/>
<circle class="a" cx="797.97" cy="499.64" r="9.48"/><circle class="as" cx="797.97" cy="499.64" r="9.48"/>
<circle class="a" cx="944.69" cy="552.91" r="9.48"/><circle class="as" cx="944.69" cy="552.91" r="9.48"/>
<circle class="a" cx="931.72" cy="540.58" r="9.48"/><circle class="as" cx="931.72" cy="540.58" r="9.48"/>
<circle class="a" cx="1138.01" cy="512.93" r="9.48"/><circle class="as" cx="1138.01" cy="512.93" r="9.48"/>
<circle class="a" cx="725.38" cy="546.66" r="9.48"/><circle class="as" cx="725.38" cy="546.66" r="9.48"/>
<circle class="a" cx="856.91" cy="552.15" r="9.48"/><circle class="as" cx="856.91" cy="552.15" r="9.48"/>
<circle class="a" cx="962.40" cy="480.01" r="9.48"/><circle class="as" cx="962.40" cy="480.01" r="9.48"/>
<circle class="a" cx="1032.05" cy="581.13" r="9.48"/><circle class="as" cx="1032.05" cy="581.13" r="9.48"/>
<circle class="a" cx="973.93" cy="543.12" r="9.48"/><circle class="as" cx="973.93" cy="543.12" r="9.48"/>
<circle class="a" cx="816.00" cy="647.20" r="9.48"/><circle class="as" cx="816.00" cy="647.20" r="9.48"/>
<circle class="a" cx="1071.40" cy="423.10" r="9.48"/><circle class="as" cx="1071.40" cy="423.10" r="9.48"/>
<circle class="a" cx="793.09" cy="440.37" r="9.48"/><circle class="as" cx="793.09" cy="440.37" r="9.48"/>
<circle class="a" cx="837.95" cy="729.82" r="9.48"/><circle class="as" cx="837.95" cy="729.82" r="9.48"/>
<circle class="a" cx="912.46" cy="585.69" r="9.48"/><circle class="as" cx="912.46" cy="585.69" r="9.48"/>
<circle class="a" cx="1070.44" cy="516.49" r="9.48"/><circle class="as" cx="1070.44" cy="516.49" r="9.48"/>
<circle class="a" cx="950.72" cy="522.56" r="9.48"/><circle class="as" cx="950.72" cy="522.56" r="9.48"/>
<circle class="a" cx="966.32" cy="497.44" r="9.48"/><circle class="as" cx="966.32" cy="497.44" r="9.48"/>
<circle class="a" cx="1035.79" cy="606.40" r="9.48"/><circle class="as" cx="1035.79" cy="606.40" r="9.48"/>
</g>
<rect class="bord" x="655.01" y="158.51" width="541.43" height="701.38"/>
<path class="axl" d="M654.30 860.60H1197.15"/>
<path class="tick" d="M776.19 860.60v7.3"/>
<text class="tl" text-anchor="middle" x="776.19" y="891.9">-2</text>
<path class="tick" d="M915.46 860.60v7.3"/>
<text class="tl" text-anchor="middle" x="915.46" y="891.9">0</text>
<path class="tick" d="M1054.73 860.60v7.3"/>
<text class="tl" text-anchor="middle" x="1054.73" y="891.9">2</text>
<path class="tick" d="M1194.00 860.60v7.3"/>
<text class="tl" text-anchor="middle" x="1194.00" y="891.9">4</text>
<text class="big" text-anchor="middle" x="646.85" y="938">x</text>
<text class="big" text-anchor="middle" transform="translate(36.2 509.2) rotate(-90)">y</text>
<text class="big" x="1241.2" y="467.1">set</text>
<circle class="a" cx="1264.1" cy="508.0" r="9.48"/><circle class="as" cx="1264.1" cy="508.0" r="9.48"/>
<text class="tl" fill="#000" style="fill:#000" x="1301.8" y="516.6">a</text>
<circle class="b" cx="1264.1" cy="554.1" r="9.48"/><circle class="bs" cx="1264.1" cy="554.1" r="9.48"/>
<text class="tl" fill="#000" style="fill:#000" x="1301.8" y="562.5">b</text>
</svg></body></html>
